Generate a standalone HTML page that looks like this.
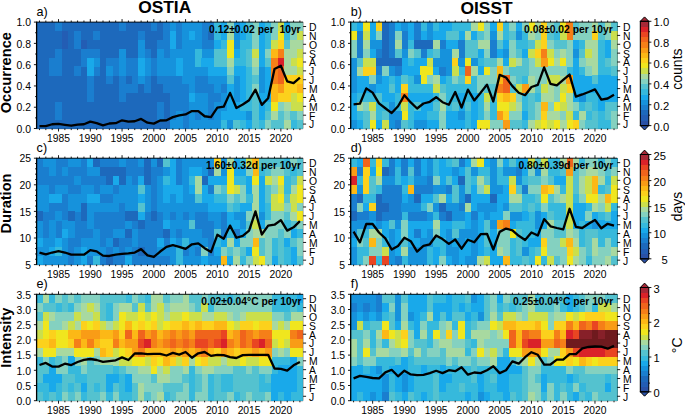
<!DOCTYPE html>
<html><head><meta charset="utf-8"><style>
html,body{margin:0;padding:0;background:#fff;}
body{width:685px;height:414px;overflow:hidden;}
svg{display:block;font-family:"Liberation Sans",sans-serif;}
text{font-family:"Liberation Sans",sans-serif;}
</style></head><body>
<svg width="685" height="414" viewBox="0 0 685 414"><g shape-rendering="crispEdges"><path fill="#1d69bc" d="M36.30 22.10h6.65v9.17h-6.65zM42.65 22.10h6.65v9.17h-6.65zM49.00 22.10h6.65v9.17h-6.65zM61.71 22.10h6.65v9.17h-6.65zM68.06 22.10h6.65v9.17h-6.65zM74.41 22.10h6.65v9.17h-6.65zM80.77 22.10h6.65v9.17h-6.65zM87.12 22.10h6.65v9.17h-6.65zM93.47 22.10h6.65v9.17h-6.65zM99.82 22.10h6.65v9.17h-6.65zM106.18 22.10h6.65v9.17h-6.65zM112.53 22.10h6.65v9.17h-6.65zM125.23 22.10h6.65v9.17h-6.65zM131.59 22.10h6.65v9.17h-6.65zM137.94 22.10h6.65v9.17h-6.65zM144.29 22.10h6.65v9.17h-6.65zM157.00 22.10h6.65v9.17h-6.65zM36.30 30.97h6.65v9.17h-6.65zM42.65 30.97h6.65v9.17h-6.65zM49.00 30.97h6.65v9.17h-6.65zM55.36 30.97h6.65v9.17h-6.65zM68.06 30.97h6.65v9.17h-6.65zM80.77 30.97h6.65v9.17h-6.65zM87.12 30.97h6.65v9.17h-6.65zM99.82 30.97h6.65v9.17h-6.65zM106.18 30.97h6.65v9.17h-6.65zM112.53 30.97h6.65v9.17h-6.65zM118.88 30.97h6.65v9.17h-6.65zM125.23 30.97h6.65v9.17h-6.65zM131.59 30.97h6.65v9.17h-6.65zM144.29 30.97h6.65v9.17h-6.65zM150.64 30.97h6.65v9.17h-6.65zM157.00 30.97h6.65v9.17h-6.65zM207.81 30.97h6.65v9.17h-6.65zM36.30 39.83h6.65v9.17h-6.65zM42.65 39.83h6.65v9.17h-6.65zM49.00 39.83h6.65v9.17h-6.65zM55.36 39.83h6.65v9.17h-6.65zM68.06 39.83h6.65v9.17h-6.65zM87.12 39.83h6.65v9.17h-6.65zM93.47 39.83h6.65v9.17h-6.65zM99.82 39.83h6.65v9.17h-6.65zM106.18 39.83h6.65v9.17h-6.65zM112.53 39.83h6.65v9.17h-6.65zM118.88 39.83h6.65v9.17h-6.65zM125.23 39.83h6.65v9.17h-6.65zM131.59 39.83h6.65v9.17h-6.65zM144.29 39.83h6.65v9.17h-6.65zM150.64 39.83h6.65v9.17h-6.65zM36.30 48.70h6.65v9.17h-6.65zM42.65 48.70h6.65v9.17h-6.65zM49.00 48.70h6.65v9.17h-6.65zM61.71 48.70h6.65v9.17h-6.65zM68.06 48.70h6.65v9.17h-6.65zM74.41 48.70h6.65v9.17h-6.65zM99.82 48.70h6.65v9.17h-6.65zM106.18 48.70h6.65v9.17h-6.65zM112.53 48.70h6.65v9.17h-6.65zM125.23 48.70h6.65v9.17h-6.65zM131.59 48.70h6.65v9.17h-6.65zM150.64 48.70h6.65v9.17h-6.65zM36.30 57.57h6.65v9.17h-6.65zM42.65 57.57h6.65v9.17h-6.65zM61.71 57.57h6.65v9.17h-6.65zM68.06 57.57h6.65v9.17h-6.65zM74.41 57.57h6.65v9.17h-6.65zM99.82 57.57h6.65v9.17h-6.65zM36.30 66.43h6.65v9.17h-6.65zM42.65 66.43h6.65v9.17h-6.65zM61.71 66.43h6.65v9.17h-6.65zM68.06 66.43h6.65v9.17h-6.65zM80.77 66.43h6.65v9.17h-6.65zM99.82 66.43h6.65v9.17h-6.65zM36.30 75.30h6.65v9.17h-6.65zM42.65 75.30h6.65v9.17h-6.65zM49.00 75.30h6.65v9.17h-6.65zM55.36 75.30h6.65v9.17h-6.65zM61.71 75.30h6.65v9.17h-6.65zM68.06 75.30h6.65v9.17h-6.65zM74.41 75.30h6.65v9.17h-6.65zM80.77 75.30h6.65v9.17h-6.65zM93.47 75.30h6.65v9.17h-6.65zM99.82 75.30h6.65v9.17h-6.65zM112.53 75.30h6.65v9.17h-6.65zM125.23 75.30h6.65v9.17h-6.65zM150.64 75.30h6.65v9.17h-6.65zM36.30 84.17h6.65v9.17h-6.65zM42.65 84.17h6.65v9.17h-6.65zM49.00 84.17h6.65v9.17h-6.65zM55.36 84.17h6.65v9.17h-6.65zM61.71 84.17h6.65v9.17h-6.65zM68.06 84.17h6.65v9.17h-6.65zM74.41 84.17h6.65v9.17h-6.65zM80.77 84.17h6.65v9.17h-6.65zM93.47 84.17h6.65v9.17h-6.65zM99.82 84.17h6.65v9.17h-6.65zM106.18 84.17h6.65v9.17h-6.65zM112.53 84.17h6.65v9.17h-6.65zM137.94 84.17h6.65v9.17h-6.65zM150.64 84.17h6.65v9.17h-6.65zM157.00 84.17h6.65v9.17h-6.65zM36.30 93.03h6.65v9.17h-6.65zM42.65 93.03h6.65v9.17h-6.65zM49.00 93.03h6.65v9.17h-6.65zM55.36 93.03h6.65v9.17h-6.65zM61.71 93.03h6.65v9.17h-6.65zM68.06 93.03h6.65v9.17h-6.65zM74.41 93.03h6.65v9.17h-6.65zM80.77 93.03h6.65v9.17h-6.65zM93.47 93.03h6.65v9.17h-6.65zM99.82 93.03h6.65v9.17h-6.65zM106.18 93.03h6.65v9.17h-6.65zM112.53 93.03h6.65v9.17h-6.65zM125.23 93.03h6.65v9.17h-6.65zM131.59 93.03h6.65v9.17h-6.65zM137.94 93.03h6.65v9.17h-6.65zM144.29 93.03h6.65v9.17h-6.65zM150.64 93.03h6.65v9.17h-6.65zM157.00 93.03h6.65v9.17h-6.65zM163.35 93.03h6.65v9.17h-6.65zM36.30 101.90h6.65v9.17h-6.65zM42.65 101.90h6.65v9.17h-6.65zM49.00 101.90h6.65v9.17h-6.65zM61.71 101.90h6.65v9.17h-6.65zM68.06 101.90h6.65v9.17h-6.65zM74.41 101.90h6.65v9.17h-6.65zM80.77 101.90h6.65v9.17h-6.65zM87.12 101.90h6.65v9.17h-6.65zM93.47 101.90h6.65v9.17h-6.65zM99.82 101.90h6.65v9.17h-6.65zM106.18 101.90h6.65v9.17h-6.65zM112.53 101.90h6.65v9.17h-6.65zM118.88 101.90h6.65v9.17h-6.65zM125.23 101.90h6.65v9.17h-6.65zM131.59 101.90h6.65v9.17h-6.65zM137.94 101.90h6.65v9.17h-6.65zM144.29 101.90h6.65v9.17h-6.65zM150.64 101.90h6.65v9.17h-6.65zM163.35 101.90h6.65v9.17h-6.65zM36.30 110.77h6.65v9.17h-6.65zM42.65 110.77h6.65v9.17h-6.65zM49.00 110.77h6.65v9.17h-6.65zM61.71 110.77h6.65v9.17h-6.65zM68.06 110.77h6.65v9.17h-6.65zM74.41 110.77h6.65v9.17h-6.65zM80.77 110.77h6.65v9.17h-6.65zM87.12 110.77h6.65v9.17h-6.65zM93.47 110.77h6.65v9.17h-6.65zM99.82 110.77h6.65v9.17h-6.65zM106.18 110.77h6.65v9.17h-6.65zM112.53 110.77h6.65v9.17h-6.65zM118.88 110.77h6.65v9.17h-6.65zM125.23 110.77h6.65v9.17h-6.65zM131.59 110.77h6.65v9.17h-6.65zM137.94 110.77h6.65v9.17h-6.65zM144.29 110.77h6.65v9.17h-6.65zM150.64 110.77h6.65v9.17h-6.65zM163.35 110.77h6.65v9.17h-6.65zM36.30 119.63h6.65v9.17h-6.65zM42.65 119.63h6.65v9.17h-6.65zM49.00 119.63h6.65v9.17h-6.65zM55.36 119.63h6.65v9.17h-6.65zM61.71 119.63h6.65v9.17h-6.65zM68.06 119.63h6.65v9.17h-6.65zM74.41 119.63h6.65v9.17h-6.65zM80.77 119.63h6.65v9.17h-6.65zM87.12 119.63h6.65v9.17h-6.65zM93.47 119.63h6.65v9.17h-6.65zM99.82 119.63h6.65v9.17h-6.65zM106.18 119.63h6.65v9.17h-6.65zM112.53 119.63h6.65v9.17h-6.65zM118.88 119.63h6.65v9.17h-6.65zM125.23 119.63h6.65v9.17h-6.65zM131.59 119.63h6.65v9.17h-6.65zM137.94 119.63h6.65v9.17h-6.65zM144.29 119.63h6.65v9.17h-6.65zM150.64 119.63h6.65v9.17h-6.65zM157.00 119.63h6.65v9.17h-6.65zM163.35 119.63h6.65v9.17h-6.65z"/><path fill="#1a7ecf" d="M55.36 22.10h6.65v9.17h-6.65zM118.88 22.10h6.65v9.17h-6.65zM150.64 22.10h6.65v9.17h-6.65zM163.35 22.10h6.65v9.17h-6.65zM176.05 22.10h6.65v9.17h-6.65zM201.46 22.10h6.65v9.17h-6.65zM207.81 22.10h6.65v9.17h-6.65zM74.41 30.97h6.65v9.17h-6.65zM93.47 30.97h6.65v9.17h-6.65zM137.94 30.97h6.65v9.17h-6.65zM163.35 30.97h6.65v9.17h-6.65zM176.05 30.97h6.65v9.17h-6.65zM201.46 30.97h6.65v9.17h-6.65zM74.41 39.83h6.65v9.17h-6.65zM157.00 39.83h6.65v9.17h-6.65zM163.35 39.83h6.65v9.17h-6.65zM176.05 39.83h6.65v9.17h-6.65zM201.46 39.83h6.65v9.17h-6.65zM207.81 39.83h6.65v9.17h-6.65zM55.36 48.70h6.65v9.17h-6.65zM80.77 48.70h6.65v9.17h-6.65zM87.12 48.70h6.65v9.17h-6.65zM93.47 48.70h6.65v9.17h-6.65zM144.29 48.70h6.65v9.17h-6.65zM163.35 48.70h6.65v9.17h-6.65zM49.00 57.57h6.65v9.17h-6.65zM55.36 57.57h6.65v9.17h-6.65zM80.77 57.57h6.65v9.17h-6.65zM106.18 57.57h6.65v9.17h-6.65zM112.53 57.57h6.65v9.17h-6.65zM125.23 57.57h6.65v9.17h-6.65zM131.59 57.57h6.65v9.17h-6.65zM150.64 57.57h6.65v9.17h-6.65zM49.00 66.43h6.65v9.17h-6.65zM55.36 66.43h6.65v9.17h-6.65zM74.41 66.43h6.65v9.17h-6.65zM93.47 66.43h6.65v9.17h-6.65zM112.53 66.43h6.65v9.17h-6.65zM125.23 66.43h6.65v9.17h-6.65zM131.59 66.43h6.65v9.17h-6.65zM150.64 66.43h6.65v9.17h-6.65zM87.12 75.30h6.65v9.17h-6.65zM106.18 75.30h6.65v9.17h-6.65zM118.88 75.30h6.65v9.17h-6.65zM131.59 75.30h6.65v9.17h-6.65zM144.29 75.30h6.65v9.17h-6.65zM157.00 75.30h6.65v9.17h-6.65zM163.35 75.30h6.65v9.17h-6.65zM169.70 75.30h6.65v9.17h-6.65zM176.05 75.30h6.65v9.17h-6.65zM195.11 75.30h6.65v9.17h-6.65zM201.46 75.30h6.65v9.17h-6.65zM87.12 84.17h6.65v9.17h-6.65zM118.88 84.17h6.65v9.17h-6.65zM125.23 84.17h6.65v9.17h-6.65zM131.59 84.17h6.65v9.17h-6.65zM144.29 84.17h6.65v9.17h-6.65zM163.35 84.17h6.65v9.17h-6.65zM169.70 84.17h6.65v9.17h-6.65zM176.05 84.17h6.65v9.17h-6.65zM182.40 84.17h6.65v9.17h-6.65zM195.11 84.17h6.65v9.17h-6.65zM201.46 84.17h6.65v9.17h-6.65zM207.81 84.17h6.65v9.17h-6.65zM220.52 84.17h6.65v9.17h-6.65zM87.12 93.03h6.65v9.17h-6.65zM118.88 93.03h6.65v9.17h-6.65zM169.70 93.03h6.65v9.17h-6.65zM176.05 93.03h6.65v9.17h-6.65zM182.40 93.03h6.65v9.17h-6.65zM207.81 93.03h6.65v9.17h-6.65zM214.17 93.03h6.65v9.17h-6.65zM55.36 101.90h6.65v9.17h-6.65zM157.00 101.90h6.65v9.17h-6.65zM169.70 101.90h6.65v9.17h-6.65zM176.05 101.90h6.65v9.17h-6.65zM182.40 101.90h6.65v9.17h-6.65zM207.81 101.90h6.65v9.17h-6.65zM55.36 110.77h6.65v9.17h-6.65zM157.00 110.77h6.65v9.17h-6.65zM169.70 110.77h6.65v9.17h-6.65zM182.40 110.77h6.65v9.17h-6.65zM195.11 110.77h6.65v9.17h-6.65zM207.81 110.77h6.65v9.17h-6.65zM182.40 119.63h6.65v9.17h-6.65z"/><path fill="#1692dc" d="M169.70 22.10h6.65v9.17h-6.65zM182.40 22.10h6.65v9.17h-6.65zM188.76 22.10h6.65v9.17h-6.65zM195.11 22.10h6.65v9.17h-6.65zM233.22 22.10h6.65v9.17h-6.65zM182.40 30.97h6.65v9.17h-6.65zM195.11 30.97h6.65v9.17h-6.65zM233.22 30.97h6.65v9.17h-6.65zM137.94 39.83h6.65v9.17h-6.65zM182.40 39.83h6.65v9.17h-6.65zM188.76 39.83h6.65v9.17h-6.65zM195.11 39.83h6.65v9.17h-6.65zM233.22 39.83h6.65v9.17h-6.65zM118.88 48.70h6.65v9.17h-6.65zM137.94 48.70h6.65v9.17h-6.65zM157.00 48.70h6.65v9.17h-6.65zM169.70 48.70h6.65v9.17h-6.65zM176.05 48.70h6.65v9.17h-6.65zM182.40 48.70h6.65v9.17h-6.65zM188.76 48.70h6.65v9.17h-6.65zM201.46 48.70h6.65v9.17h-6.65zM207.81 48.70h6.65v9.17h-6.65zM93.47 57.57h6.65v9.17h-6.65zM118.88 57.57h6.65v9.17h-6.65zM144.29 57.57h6.65v9.17h-6.65zM157.00 57.57h6.65v9.17h-6.65zM163.35 57.57h6.65v9.17h-6.65zM169.70 57.57h6.65v9.17h-6.65zM182.40 57.57h6.65v9.17h-6.65zM188.76 57.57h6.65v9.17h-6.65zM106.18 66.43h6.65v9.17h-6.65zM118.88 66.43h6.65v9.17h-6.65zM144.29 66.43h6.65v9.17h-6.65zM157.00 66.43h6.65v9.17h-6.65zM163.35 66.43h6.65v9.17h-6.65zM169.70 66.43h6.65v9.17h-6.65zM182.40 66.43h6.65v9.17h-6.65zM188.76 66.43h6.65v9.17h-6.65zM195.11 66.43h6.65v9.17h-6.65zM201.46 66.43h6.65v9.17h-6.65zM258.63 66.43h6.65v9.17h-6.65zM137.94 75.30h6.65v9.17h-6.65zM182.40 75.30h6.65v9.17h-6.65zM188.76 75.30h6.65v9.17h-6.65zM207.81 75.30h6.65v9.17h-6.65zM214.17 75.30h6.65v9.17h-6.65zM220.52 75.30h6.65v9.17h-6.65zM233.22 75.30h6.65v9.17h-6.65zM258.63 75.30h6.65v9.17h-6.65zM188.76 84.17h6.65v9.17h-6.65zM214.17 84.17h6.65v9.17h-6.65zM233.22 84.17h6.65v9.17h-6.65zM258.63 84.17h6.65v9.17h-6.65zM195.11 93.03h6.65v9.17h-6.65zM201.46 93.03h6.65v9.17h-6.65zM220.52 93.03h6.65v9.17h-6.65zM233.22 93.03h6.65v9.17h-6.65zM188.76 101.90h6.65v9.17h-6.65zM195.11 101.90h6.65v9.17h-6.65zM201.46 101.90h6.65v9.17h-6.65zM214.17 101.90h6.65v9.17h-6.65zM220.52 101.90h6.65v9.17h-6.65zM176.05 110.77h6.65v9.17h-6.65zM188.76 110.77h6.65v9.17h-6.65zM201.46 110.77h6.65v9.17h-6.65zM214.17 110.77h6.65v9.17h-6.65zM245.93 110.77h6.65v9.17h-6.65zM169.70 119.63h6.65v9.17h-6.65zM176.05 119.63h6.65v9.17h-6.65zM188.76 119.63h6.65v9.17h-6.65zM195.11 119.63h6.65v9.17h-6.65zM201.46 119.63h6.65v9.17h-6.65zM207.81 119.63h6.65v9.17h-6.65zM214.17 119.63h6.65v9.17h-6.65zM226.87 119.63h6.65v9.17h-6.65z"/><path fill="#36b9dc" d="M214.17 22.10h6.65v9.17h-6.65zM264.99 22.10h6.65v9.17h-6.65zM214.17 30.97h6.65v9.17h-6.65zM245.93 30.97h6.65v9.17h-6.65zM264.99 30.97h6.65v9.17h-6.65zM284.04 30.97h6.65v9.17h-6.65zM220.52 39.83h6.65v9.17h-6.65zM239.58 39.83h6.65v9.17h-6.65zM245.93 39.83h6.65v9.17h-6.65zM264.99 39.83h6.65v9.17h-6.65zM195.11 48.70h6.65v9.17h-6.65zM239.58 48.70h6.65v9.17h-6.65zM195.11 57.57h6.65v9.17h-6.65zM233.22 57.57h6.65v9.17h-6.65zM239.58 57.57h6.65v9.17h-6.65zM245.93 66.43h6.65v9.17h-6.65zM245.93 75.30h6.65v9.17h-6.65zM245.93 84.17h6.65v9.17h-6.65zM245.93 93.03h6.65v9.17h-6.65zM239.58 101.90h6.65v9.17h-6.65zM245.93 101.90h6.65v9.17h-6.65zM264.99 101.90h6.65v9.17h-6.65zM220.52 119.63h6.65v9.17h-6.65zM239.58 119.63h6.65v9.17h-6.65zM258.63 119.63h6.65v9.17h-6.65zM290.40 119.63h6.65v9.17h-6.65z"/><path fill="#19a9ea" d="M220.52 22.10h6.65v9.17h-6.65zM239.58 22.10h6.65v9.17h-6.65zM258.63 22.10h6.65v9.17h-6.65zM284.04 22.10h6.65v9.17h-6.65zM169.70 30.97h6.65v9.17h-6.65zM188.76 30.97h6.65v9.17h-6.65zM220.52 30.97h6.65v9.17h-6.65zM239.58 30.97h6.65v9.17h-6.65zM258.63 30.97h6.65v9.17h-6.65zM169.70 39.83h6.65v9.17h-6.65zM214.17 39.83h6.65v9.17h-6.65zM258.63 39.83h6.65v9.17h-6.65zM233.22 48.70h6.65v9.17h-6.65zM258.63 48.70h6.65v9.17h-6.65zM87.12 57.57h6.65v9.17h-6.65zM137.94 57.57h6.65v9.17h-6.65zM176.05 57.57h6.65v9.17h-6.65zM201.46 57.57h6.65v9.17h-6.65zM207.81 57.57h6.65v9.17h-6.65zM258.63 57.57h6.65v9.17h-6.65zM87.12 66.43h6.65v9.17h-6.65zM137.94 66.43h6.65v9.17h-6.65zM176.05 66.43h6.65v9.17h-6.65zM207.81 66.43h6.65v9.17h-6.65zM214.17 66.43h6.65v9.17h-6.65zM220.52 66.43h6.65v9.17h-6.65zM233.22 66.43h6.65v9.17h-6.65zM239.58 66.43h6.65v9.17h-6.65zM264.99 66.43h6.65v9.17h-6.65zM239.58 75.30h6.65v9.17h-6.65zM264.99 75.30h6.65v9.17h-6.65zM226.87 84.17h6.65v9.17h-6.65zM239.58 84.17h6.65v9.17h-6.65zM264.99 84.17h6.65v9.17h-6.65zM188.76 93.03h6.65v9.17h-6.65zM226.87 93.03h6.65v9.17h-6.65zM239.58 93.03h6.65v9.17h-6.65zM258.63 93.03h6.65v9.17h-6.65zM264.99 93.03h6.65v9.17h-6.65zM226.87 101.90h6.65v9.17h-6.65zM233.22 101.90h6.65v9.17h-6.65zM258.63 101.90h6.65v9.17h-6.65zM220.52 110.77h6.65v9.17h-6.65zM226.87 110.77h6.65v9.17h-6.65zM233.22 110.77h6.65v9.17h-6.65zM239.58 110.77h6.65v9.17h-6.65zM258.63 110.77h6.65v9.17h-6.65zM245.93 119.63h6.65v9.17h-6.65z"/><path fill="#84d1c0" d="M226.87 22.10h6.65v9.17h-6.65zM252.28 22.10h6.65v9.17h-6.65zM271.34 22.10h6.65v9.17h-6.65zM290.40 22.10h6.65v9.17h-6.65zM296.75 22.10h6.65v9.17h-6.65zM252.28 30.97h6.65v9.17h-6.65zM271.34 30.97h6.65v9.17h-6.65zM290.40 30.97h6.65v9.17h-6.65zM252.28 39.83h6.65v9.17h-6.65zM264.99 48.70h6.65v9.17h-6.65zM226.87 66.43h6.65v9.17h-6.65zM252.28 66.43h6.65v9.17h-6.65zM252.28 84.17h6.65v9.17h-6.65zM277.69 101.90h6.65v9.17h-6.65zM284.04 110.77h6.65v9.17h-6.65zM296.75 110.77h6.65v9.17h-6.65zM264.99 119.63h6.65v9.17h-6.65z"/><path fill="#54c2cf" d="M245.93 22.10h6.65v9.17h-6.65zM284.04 39.83h6.65v9.17h-6.65zM214.17 48.70h6.65v9.17h-6.65zM220.52 48.70h6.65v9.17h-6.65zM245.93 48.70h6.65v9.17h-6.65zM214.17 57.57h6.65v9.17h-6.65zM220.52 57.57h6.65v9.17h-6.65zM245.93 57.57h6.65v9.17h-6.65zM264.99 57.57h6.65v9.17h-6.65zM226.87 75.30h6.65v9.17h-6.65zM252.28 75.30h6.65v9.17h-6.65zM252.28 93.03h6.65v9.17h-6.65zM252.28 101.90h6.65v9.17h-6.65zM252.28 110.77h6.65v9.17h-6.65zM264.99 110.77h6.65v9.17h-6.65zM277.69 110.77h6.65v9.17h-6.65zM290.40 110.77h6.65v9.17h-6.65zM233.22 119.63h6.65v9.17h-6.65zM252.28 119.63h6.65v9.17h-6.65zM271.34 119.63h6.65v9.17h-6.65zM277.69 119.63h6.65v9.17h-6.65zM296.75 119.63h6.65v9.17h-6.65z"/><path fill="#cbdf4c" d="M277.69 22.10h6.65v9.17h-6.65zM296.75 30.97h6.65v9.17h-6.65zM271.34 39.83h6.65v9.17h-6.65zM252.28 48.70h6.65v9.17h-6.65zM296.75 48.70h6.65v9.17h-6.65zM290.40 57.57h6.65v9.17h-6.65zM296.75 66.43h6.65v9.17h-6.65zM290.40 93.03h6.65v9.17h-6.65zM290.40 101.90h6.65v9.17h-6.65zM296.75 101.90h6.65v9.17h-6.65z"/><path fill="#235db4" d="M61.71 30.97h6.65v9.17h-6.65zM61.71 39.83h6.65v9.17h-6.65zM80.77 39.83h6.65v9.17h-6.65z"/><path fill="#a8d9a0" d="M226.87 30.97h6.65v9.17h-6.65zM290.40 39.83h6.65v9.17h-6.65zM296.75 39.83h6.65v9.17h-6.65zM284.04 48.70h6.65v9.17h-6.65zM290.40 48.70h6.65v9.17h-6.65zM226.87 57.57h6.65v9.17h-6.65zM252.28 57.57h6.65v9.17h-6.65zM284.04 57.57h6.65v9.17h-6.65zM284.04 66.43h6.65v9.17h-6.65zM290.40 66.43h6.65v9.17h-6.65zM284.04 101.90h6.65v9.17h-6.65zM271.34 110.77h6.65v9.17h-6.65zM284.04 119.63h6.65v9.17h-6.65z"/><path fill="#f0e61e" d="M277.69 30.97h6.65v9.17h-6.65zM226.87 39.83h6.65v9.17h-6.65zM226.87 48.70h6.65v9.17h-6.65zM296.75 57.57h6.65v9.17h-6.65zM296.75 93.03h6.65v9.17h-6.65zM271.34 101.90h6.65v9.17h-6.65z"/><path fill="#fcd11c" d="M277.69 39.83h6.65v9.17h-6.65zM284.04 75.30h6.65v9.17h-6.65zM290.40 75.30h6.65v9.17h-6.65zM296.75 75.30h6.65v9.17h-6.65zM284.04 84.17h6.65v9.17h-6.65zM290.40 84.17h6.65v9.17h-6.65zM277.69 93.03h6.65v9.17h-6.65zM284.04 93.03h6.65v9.17h-6.65z"/><path fill="#fcb816" d="M271.34 48.70h6.65v9.17h-6.65zM271.34 84.17h6.65v9.17h-6.65zM296.75 84.17h6.65v9.17h-6.65zM271.34 93.03h6.65v9.17h-6.65z"/><path fill="#f57f18" d="M277.69 48.70h6.65v9.17h-6.65zM271.34 57.57h6.65v9.17h-6.65zM271.34 66.43h6.65v9.17h-6.65zM271.34 75.30h6.65v9.17h-6.65z"/><path fill="#da2229" d="M277.69 57.57h6.65v9.17h-6.65z"/><path fill="#f0641c" d="M277.69 66.43h6.65v9.17h-6.65zM277.69 75.30h6.65v9.17h-6.65z"/><path fill="#f99c16" d="M277.69 84.17h6.65v9.17h-6.65z"/></g><polyline points="39.48,126.16 45.83,126.16 52.18,124.24 58.53,123.92 64.89,124.78 71.24,125.73 77.59,124.56 83.94,124.24 90.30,121.69 96.65,123.18 103.00,125.31 109.35,123.50 115.70,123.18 122.06,120.31 128.41,121.69 134.76,121.26 141.11,118.92 147.47,122.65 153.82,123.61 160.17,120.52 166.52,120.31 172.88,117.12 179.23,115.31 185.58,114.46 191.93,111.05 198.29,111.05 204.64,116.26 210.99,117.12 217.34,107.54 223.70,106.69 230.05,92.86 236.40,107.96 242.75,104.56 249.10,100.20 255.46,89.66 261.81,104.88 268.16,98.28 274.51,68.92 280.87,65.72 287.22,81.36 293.57,83.17 299.92,77.53" fill="none" stroke="#000" stroke-width="2.3" stroke-linejoin="round" stroke-linecap="butt"/><path d="M36.60 21.60V128.80" stroke="#000" stroke-width="1.3" fill="none"/><path d="M36.30 22.10H303.10" stroke="#000" stroke-width="1.0" fill="none" stroke-opacity="0.9"/><path d="M303.30 22.10V128.50" stroke="#000" stroke-width="0.5" fill="none" stroke-opacity="0.6"/><path d="M36.30 129.10H303.10" stroke="#000" stroke-width="0.5" fill="none" stroke-opacity="0.35"/><path d="M39.48 128.50v1.6M39.48 22.10v-1.6M45.83 128.50v1.6M45.83 22.10v-1.6M52.18 128.50v1.6M52.18 22.10v-1.6M58.53 128.50v3M58.53 22.10v-3M64.89 128.50v1.6M64.89 22.10v-1.6M71.24 128.50v1.6M71.24 22.10v-1.6M77.59 128.50v1.6M77.59 22.10v-1.6M83.94 128.50v1.6M83.94 22.10v-1.6M90.30 128.50v3M90.30 22.10v-3M96.65 128.50v1.6M96.65 22.10v-1.6M103.00 128.50v1.6M103.00 22.10v-1.6M109.35 128.50v1.6M109.35 22.10v-1.6M115.70 128.50v1.6M115.70 22.10v-1.6M122.06 128.50v3M122.06 22.10v-3M128.41 128.50v1.6M128.41 22.10v-1.6M134.76 128.50v1.6M134.76 22.10v-1.6M141.11 128.50v1.6M141.11 22.10v-1.6M147.47 128.50v1.6M147.47 22.10v-1.6M153.82 128.50v3M153.82 22.10v-3M160.17 128.50v1.6M160.17 22.10v-1.6M166.52 128.50v1.6M166.52 22.10v-1.6M172.88 128.50v1.6M172.88 22.10v-1.6M179.23 128.50v1.6M179.23 22.10v-1.6M185.58 128.50v3M185.58 22.10v-3M191.93 128.50v1.6M191.93 22.10v-1.6M198.29 128.50v1.6M198.29 22.10v-1.6M204.64 128.50v1.6M204.64 22.10v-1.6M210.99 128.50v1.6M210.99 22.10v-1.6M217.34 128.50v3M217.34 22.10v-3M223.70 128.50v1.6M223.70 22.10v-1.6M230.05 128.50v1.6M230.05 22.10v-1.6M236.40 128.50v1.6M236.40 22.10v-1.6M242.75 128.50v1.6M242.75 22.10v-1.6M249.10 128.50v3M249.10 22.10v-3M255.46 128.50v1.6M255.46 22.10v-1.6M261.81 128.50v1.6M261.81 22.10v-1.6M268.16 128.50v1.6M268.16 22.10v-1.6M274.51 128.50v1.6M274.51 22.10v-1.6M280.87 128.50v3M280.87 22.10v-3M287.22 128.50v1.6M287.22 22.10v-1.6M293.57 128.50v1.6M293.57 22.10v-1.6M299.92 128.50v1.6M299.92 22.10v-1.6M36.30 128.50h-2.4M36.30 117.86h-1.2M36.30 107.22h-2.4M36.30 96.58h-1.2M36.30 85.94h-2.4M36.30 75.30h-1.2M36.30 64.66h-2.4M36.30 54.02h-1.2M36.30 43.38h-2.4M36.30 32.74h-1.2M36.30 22.10h-2.4M303.10 26.53h3M303.10 35.40h3M303.10 44.27h3M303.10 53.13h3M303.10 62.00h3M303.10 70.87h3M303.10 79.73h3M303.10 88.60h3M303.10 97.47h3M303.10 106.33h3M303.10 115.20h3M303.10 124.07h3" stroke="#000" stroke-width="0.9" fill="none"/><text x="58.53" y="141.70" font-size="10.3" text-anchor="middle" fill="#000">1985</text><text x="90.30" y="141.70" font-size="10.3" text-anchor="middle" fill="#000">1990</text><text x="122.06" y="141.70" font-size="10.3" text-anchor="middle" fill="#000">1995</text><text x="153.82" y="141.70" font-size="10.3" text-anchor="middle" fill="#000">2000</text><text x="185.58" y="141.70" font-size="10.3" text-anchor="middle" fill="#000">2005</text><text x="217.34" y="141.70" font-size="10.3" text-anchor="middle" fill="#000">2010</text><text x="249.10" y="141.70" font-size="10.3" text-anchor="middle" fill="#000">2015</text><text x="280.87" y="141.70" font-size="10.3" text-anchor="middle" fill="#000">2020</text><text x="31.00" y="132.70" font-size="10.4" text-anchor="end" fill="#000">0.0</text><text x="31.00" y="111.42" font-size="10.4" text-anchor="end" fill="#000">0.2</text><text x="31.00" y="90.14" font-size="10.4" text-anchor="end" fill="#000">0.4</text><text x="31.00" y="68.86" font-size="10.4" text-anchor="end" fill="#000">0.6</text><text x="31.00" y="47.58" font-size="10.4" text-anchor="end" fill="#000">0.8</text><text x="31.00" y="26.30" font-size="10.4" text-anchor="end" fill="#000">1.0</text><text x="309.00" y="30.93" font-size="10.4" fill="#000">D</text><text x="309.00" y="39.80" font-size="10.4" fill="#000">N</text><text x="309.00" y="48.67" font-size="10.4" fill="#000">O</text><text x="309.00" y="57.53" font-size="10.4" fill="#000">S</text><text x="309.00" y="66.40" font-size="10.4" fill="#000">A</text><text x="309.00" y="75.27" font-size="10.4" fill="#000">J</text><text x="309.00" y="84.13" font-size="10.4" fill="#000">J</text><text x="309.00" y="93.00" font-size="10.4" fill="#000">M</text><text x="309.00" y="101.87" font-size="10.4" fill="#000">A</text><text x="309.00" y="110.73" font-size="10.4" fill="#000">M</text><text x="309.00" y="119.60" font-size="10.4" fill="#000">F</text><text x="309.00" y="128.47" font-size="10.4" fill="#000">J</text><text x="36.60" y="16.20" font-size="12.6" fill="#000">a)</text><text x="209.10" y="33.10" font-size="10.3" font-weight="bold" xml:space="preserve" fill="#000">0.12±0.02 per  10yr</text><g shape-rendering="crispEdges"><path fill="#36b9dc" d="M350.40 22.10h6.65v9.17h-6.65zM420.28 22.10h6.65v9.17h-6.65zM432.98 22.10h6.65v9.17h-6.65zM452.04 22.10h6.65v9.17h-6.65zM458.39 22.10h6.65v9.17h-6.65zM464.74 22.10h6.65v9.17h-6.65zM502.86 22.10h6.65v9.17h-6.65zM502.86 30.97h6.65v9.17h-6.65zM521.91 30.97h6.65v9.17h-6.65zM553.68 30.97h6.65v9.17h-6.65zM407.57 39.83h6.65v9.17h-6.65zM515.56 39.83h6.65v9.17h-6.65zM521.91 39.83h6.65v9.17h-6.65zM579.09 39.83h6.65v9.17h-6.65zM598.14 39.83h6.65v9.17h-6.65zM426.63 48.70h6.65v9.17h-6.65zM598.14 48.70h6.65v9.17h-6.65zM407.57 57.57h6.65v9.17h-6.65zM477.45 57.57h6.65v9.17h-6.65zM598.14 57.57h6.65v9.17h-6.65zM458.39 66.43h6.65v9.17h-6.65zM566.38 66.43h6.65v9.17h-6.65zM579.09 66.43h6.65v9.17h-6.65zM598.14 66.43h6.65v9.17h-6.65zM604.50 66.43h6.65v9.17h-6.65zM388.51 75.30h6.65v9.17h-6.65zM407.57 75.30h6.65v9.17h-6.65zM445.69 75.30h6.65v9.17h-6.65zM471.10 75.30h6.65v9.17h-6.65zM521.91 75.30h6.65v9.17h-6.65zM407.57 84.17h6.65v9.17h-6.65zM413.92 84.17h6.65v9.17h-6.65zM420.28 84.17h6.65v9.17h-6.65zM426.63 84.17h6.65v9.17h-6.65zM445.69 84.17h6.65v9.17h-6.65zM452.04 84.17h6.65v9.17h-6.65zM458.39 84.17h6.65v9.17h-6.65zM464.74 84.17h6.65v9.17h-6.65zM471.10 84.17h6.65v9.17h-6.65zM356.75 93.03h6.65v9.17h-6.65zM363.10 93.03h6.65v9.17h-6.65zM369.46 93.03h6.65v9.17h-6.65zM394.87 93.03h6.65v9.17h-6.65zM432.98 93.03h6.65v9.17h-6.65zM445.69 93.03h6.65v9.17h-6.65zM452.04 93.03h6.65v9.17h-6.65zM464.74 93.03h6.65v9.17h-6.65zM477.45 93.03h6.65v9.17h-6.65zM521.91 93.03h6.65v9.17h-6.65zM534.62 93.03h6.65v9.17h-6.65zM585.44 93.03h6.65v9.17h-6.65zM591.79 93.03h6.65v9.17h-6.65zM375.81 101.90h6.65v9.17h-6.65zM382.16 101.90h6.65v9.17h-6.65zM394.87 101.90h6.65v9.17h-6.65zM407.57 101.90h6.65v9.17h-6.65zM445.69 101.90h6.65v9.17h-6.65zM477.45 101.90h6.65v9.17h-6.65zM490.15 101.90h6.65v9.17h-6.65zM521.91 101.90h6.65v9.17h-6.65zM579.09 101.90h6.65v9.17h-6.65zM591.79 101.90h6.65v9.17h-6.65zM356.75 110.77h6.65v9.17h-6.65zM375.81 110.77h6.65v9.17h-6.65zM407.57 110.77h6.65v9.17h-6.65zM426.63 110.77h6.65v9.17h-6.65zM432.98 110.77h6.65v9.17h-6.65zM464.74 110.77h6.65v9.17h-6.65zM477.45 110.77h6.65v9.17h-6.65zM490.15 110.77h6.65v9.17h-6.65zM572.73 110.77h6.65v9.17h-6.65zM585.44 110.77h6.65v9.17h-6.65zM598.14 110.77h6.65v9.17h-6.65zM407.57 119.63h6.65v9.17h-6.65zM464.74 119.63h6.65v9.17h-6.65zM521.91 119.63h6.65v9.17h-6.65zM598.14 119.63h6.65v9.17h-6.65zM604.50 119.63h6.65v9.17h-6.65z"/><path fill="#19a9ea" d="M356.75 22.10h6.65v9.17h-6.65zM369.46 22.10h6.65v9.17h-6.65zM394.87 22.10h6.65v9.17h-6.65zM407.57 22.10h6.65v9.17h-6.65zM439.33 22.10h6.65v9.17h-6.65zM445.69 22.10h6.65v9.17h-6.65zM490.15 22.10h6.65v9.17h-6.65zM515.56 22.10h6.65v9.17h-6.65zM369.46 30.97h6.65v9.17h-6.65zM407.57 30.97h6.65v9.17h-6.65zM420.28 30.97h6.65v9.17h-6.65zM432.98 30.97h6.65v9.17h-6.65zM439.33 30.97h6.65v9.17h-6.65zM458.39 30.97h6.65v9.17h-6.65zM471.10 30.97h6.65v9.17h-6.65zM445.69 39.83h6.65v9.17h-6.65zM452.04 39.83h6.65v9.17h-6.65zM502.86 39.83h6.65v9.17h-6.65zM572.73 39.83h6.65v9.17h-6.65zM604.50 39.83h6.65v9.17h-6.65zM369.46 48.70h6.65v9.17h-6.65zM477.45 48.70h6.65v9.17h-6.65zM496.50 48.70h6.65v9.17h-6.65zM521.91 48.70h6.65v9.17h-6.65zM604.50 48.70h6.65v9.17h-6.65zM401.22 57.57h6.65v9.17h-6.65zM413.92 57.57h6.65v9.17h-6.65zM420.28 57.57h6.65v9.17h-6.65zM502.86 57.57h6.65v9.17h-6.65zM572.73 57.57h6.65v9.17h-6.65zM401.22 66.43h6.65v9.17h-6.65zM407.57 66.43h6.65v9.17h-6.65zM413.92 66.43h6.65v9.17h-6.65zM432.98 66.43h6.65v9.17h-6.65zM477.45 66.43h6.65v9.17h-6.65zM572.73 66.43h6.65v9.17h-6.65zM356.75 75.30h6.65v9.17h-6.65zM363.10 75.30h6.65v9.17h-6.65zM382.16 75.30h6.65v9.17h-6.65zM394.87 75.30h6.65v9.17h-6.65zM439.33 75.30h6.65v9.17h-6.65zM572.73 75.30h6.65v9.17h-6.65zM579.09 75.30h6.65v9.17h-6.65zM585.44 75.30h6.65v9.17h-6.65zM598.14 75.30h6.65v9.17h-6.65zM604.50 75.30h6.65v9.17h-6.65zM610.85 75.30h6.65v9.17h-6.65zM356.75 84.17h6.65v9.17h-6.65zM363.10 84.17h6.65v9.17h-6.65zM375.81 84.17h6.65v9.17h-6.65zM382.16 84.17h6.65v9.17h-6.65zM394.87 84.17h6.65v9.17h-6.65zM572.73 84.17h6.65v9.17h-6.65zM579.09 84.17h6.65v9.17h-6.65zM585.44 84.17h6.65v9.17h-6.65zM591.79 84.17h6.65v9.17h-6.65zM598.14 84.17h6.65v9.17h-6.65zM604.50 84.17h6.65v9.17h-6.65zM610.85 84.17h6.65v9.17h-6.65zM350.40 93.03h6.65v9.17h-6.65zM382.16 93.03h6.65v9.17h-6.65zM388.51 93.03h6.65v9.17h-6.65zM407.57 93.03h6.65v9.17h-6.65zM413.92 93.03h6.65v9.17h-6.65zM420.28 93.03h6.65v9.17h-6.65zM426.63 93.03h6.65v9.17h-6.65zM458.39 93.03h6.65v9.17h-6.65zM471.10 93.03h6.65v9.17h-6.65zM572.73 93.03h6.65v9.17h-6.65zM598.14 93.03h6.65v9.17h-6.65zM604.50 93.03h6.65v9.17h-6.65zM610.85 93.03h6.65v9.17h-6.65zM350.40 101.90h6.65v9.17h-6.65zM420.28 101.90h6.65v9.17h-6.65zM426.63 101.90h6.65v9.17h-6.65zM458.39 101.90h6.65v9.17h-6.65zM471.10 101.90h6.65v9.17h-6.65zM598.14 101.90h6.65v9.17h-6.65zM350.40 110.77h6.65v9.17h-6.65zM413.92 110.77h6.65v9.17h-6.65zM420.28 110.77h6.65v9.17h-6.65zM445.69 110.77h6.65v9.17h-6.65zM452.04 110.77h6.65v9.17h-6.65zM471.10 110.77h6.65v9.17h-6.65zM521.91 110.77h6.65v9.17h-6.65zM356.75 119.63h6.65v9.17h-6.65zM375.81 119.63h6.65v9.17h-6.65zM426.63 119.63h6.65v9.17h-6.65zM432.98 119.63h6.65v9.17h-6.65zM445.69 119.63h6.65v9.17h-6.65zM452.04 119.63h6.65v9.17h-6.65zM458.39 119.63h6.65v9.17h-6.65zM471.10 119.63h6.65v9.17h-6.65z"/><path fill="#f0e61e" d="M363.10 22.10h6.65v9.17h-6.65zM477.45 22.10h6.65v9.17h-6.65zM528.27 22.10h6.65v9.17h-6.65zM560.03 22.10h6.65v9.17h-6.65zM350.40 30.97h6.65v9.17h-6.65zM464.74 57.57h6.65v9.17h-6.65zM547.32 57.57h6.65v9.17h-6.65zM560.03 57.57h6.65v9.17h-6.65zM420.28 66.43h6.65v9.17h-6.65zM426.63 66.43h6.65v9.17h-6.65zM483.80 66.43h6.65v9.17h-6.65zM420.28 75.30h6.65v9.17h-6.65zM560.03 93.03h6.65v9.17h-6.65zM496.50 101.90h6.65v9.17h-6.65zM502.86 101.90h6.65v9.17h-6.65zM553.68 101.90h6.65v9.17h-6.65zM401.22 110.77h6.65v9.17h-6.65zM369.46 119.63h6.65v9.17h-6.65zM477.45 119.63h6.65v9.17h-6.65zM483.80 119.63h6.65v9.17h-6.65zM540.97 119.63h6.65v9.17h-6.65zM553.68 119.63h6.65v9.17h-6.65zM566.38 119.63h6.65v9.17h-6.65z"/><path fill="#fcd11c" d="M375.81 22.10h6.65v9.17h-6.65zM496.50 22.10h6.65v9.17h-6.65zM540.97 22.10h6.65v9.17h-6.65zM540.97 30.97h6.65v9.17h-6.65zM591.79 30.97h6.65v9.17h-6.65zM540.97 39.83h6.65v9.17h-6.65zM534.62 48.70h6.65v9.17h-6.65zM452.04 57.57h6.65v9.17h-6.65zM363.10 66.43h6.65v9.17h-6.65zM369.46 66.43h6.65v9.17h-6.65zM464.74 75.30h6.65v9.17h-6.65zM401.22 84.17h6.65v9.17h-6.65zM566.38 84.17h6.65v9.17h-6.65zM496.50 93.03h6.65v9.17h-6.65zM509.21 93.03h6.65v9.17h-6.65zM502.86 110.77h6.65v9.17h-6.65zM540.97 110.77h6.65v9.17h-6.65zM572.73 119.63h6.65v9.17h-6.65z"/><path fill="#1d69bc" d="M382.16 22.10h6.65v9.17h-6.65zM382.16 30.97h6.65v9.17h-6.65zM382.16 39.83h6.65v9.17h-6.65zM413.92 39.83h6.65v9.17h-6.65zM420.28 39.83h6.65v9.17h-6.65zM426.63 39.83h6.65v9.17h-6.65zM382.16 48.70h6.65v9.17h-6.65zM375.81 57.57h6.65v9.17h-6.65zM382.16 57.57h6.65v9.17h-6.65zM388.51 57.57h6.65v9.17h-6.65zM394.87 57.57h6.65v9.17h-6.65z"/><path fill="#1a7ecf" d="M388.51 22.10h6.65v9.17h-6.65zM413.92 22.10h6.65v9.17h-6.65zM356.75 30.97h6.65v9.17h-6.65zM388.51 30.97h6.65v9.17h-6.65zM401.22 30.97h6.65v9.17h-6.65zM413.92 30.97h6.65v9.17h-6.65zM356.75 39.83h6.65v9.17h-6.65zM388.51 39.83h6.65v9.17h-6.65zM401.22 39.83h6.65v9.17h-6.65zM439.33 39.83h6.65v9.17h-6.65zM458.39 39.83h6.65v9.17h-6.65zM490.15 39.83h6.65v9.17h-6.65zM356.75 48.70h6.65v9.17h-6.65zM375.81 48.70h6.65v9.17h-6.65zM388.51 48.70h6.65v9.17h-6.65zM420.28 48.70h6.65v9.17h-6.65zM458.39 48.70h6.65v9.17h-6.65zM490.15 48.70h6.65v9.17h-6.65zM375.81 66.43h6.65v9.17h-6.65zM394.87 66.43h6.65v9.17h-6.65zM439.33 66.43h6.65v9.17h-6.65zM394.87 119.63h6.65v9.17h-6.65z"/><path fill="#1692dc" d="M401.22 22.10h6.65v9.17h-6.65zM426.63 22.10h6.65v9.17h-6.65zM426.63 30.97h6.65v9.17h-6.65zM490.15 30.97h6.65v9.17h-6.65zM515.56 30.97h6.65v9.17h-6.65zM369.46 39.83h6.65v9.17h-6.65zM375.81 39.83h6.65v9.17h-6.65zM401.22 48.70h6.65v9.17h-6.65zM439.33 48.70h6.65v9.17h-6.65zM445.69 48.70h6.65v9.17h-6.65zM502.86 48.70h6.65v9.17h-6.65zM572.73 48.70h6.65v9.17h-6.65zM350.40 57.57h6.65v9.17h-6.65zM432.98 57.57h6.65v9.17h-6.65zM439.33 57.57h6.65v9.17h-6.65zM445.69 57.57h6.65v9.17h-6.65zM458.39 57.57h6.65v9.17h-6.65zM471.10 57.57h6.65v9.17h-6.65zM350.40 66.43h6.65v9.17h-6.65zM388.51 66.43h6.65v9.17h-6.65zM445.69 66.43h6.65v9.17h-6.65zM350.40 75.30h6.65v9.17h-6.65zM375.81 75.30h6.65v9.17h-6.65zM413.92 75.30h6.65v9.17h-6.65zM350.40 84.17h6.65v9.17h-6.65zM369.46 84.17h6.65v9.17h-6.65zM579.09 93.03h6.65v9.17h-6.65zM388.51 101.90h6.65v9.17h-6.65zM388.51 110.77h6.65v9.17h-6.65zM394.87 110.77h6.65v9.17h-6.65zM458.39 110.77h6.65v9.17h-6.65zM350.40 119.63h6.65v9.17h-6.65zM388.51 119.63h6.65v9.17h-6.65zM413.92 119.63h6.65v9.17h-6.65zM420.28 119.63h6.65v9.17h-6.65z"/><path fill="#a8d9a0" d="M471.10 22.10h6.65v9.17h-6.65zM534.62 22.10h6.65v9.17h-6.65zM591.79 22.10h6.65v9.17h-6.65zM604.50 22.10h6.65v9.17h-6.65zM464.74 30.97h6.65v9.17h-6.65zM496.50 30.97h6.65v9.17h-6.65zM528.27 30.97h6.65v9.17h-6.65zM363.10 39.83h6.65v9.17h-6.65zM394.87 39.83h6.65v9.17h-6.65zM432.98 39.83h6.65v9.17h-6.65zM477.45 39.83h6.65v9.17h-6.65zM483.80 39.83h6.65v9.17h-6.65zM585.44 39.83h6.65v9.17h-6.65zM591.79 39.83h6.65v9.17h-6.65zM610.85 39.83h6.65v9.17h-6.65zM452.04 48.70h6.65v9.17h-6.65zM560.03 48.70h6.65v9.17h-6.65zM591.79 48.70h6.65v9.17h-6.65zM496.50 57.57h6.65v9.17h-6.65zM515.56 57.57h6.65v9.17h-6.65zM553.68 57.57h6.65v9.17h-6.65zM585.44 57.57h6.65v9.17h-6.65zM591.79 57.57h6.65v9.17h-6.65zM356.75 66.43h6.65v9.17h-6.65zM471.10 66.43h6.65v9.17h-6.65zM591.79 66.43h6.65v9.17h-6.65zM432.98 75.30h6.65v9.17h-6.65zM528.27 75.30h6.65v9.17h-6.65zM560.03 75.30h6.65v9.17h-6.65zM528.27 84.17h6.65v9.17h-6.65zM547.32 84.17h6.65v9.17h-6.65zM540.97 93.03h6.65v9.17h-6.65zM547.32 93.03h6.65v9.17h-6.65zM566.38 93.03h6.65v9.17h-6.65zM356.75 101.90h6.65v9.17h-6.65zM439.33 101.90h6.65v9.17h-6.65zM483.80 101.90h6.65v9.17h-6.65zM515.56 101.90h6.65v9.17h-6.65zM566.38 101.90h6.65v9.17h-6.65zM369.46 110.77h6.65v9.17h-6.65zM547.32 110.77h6.65v9.17h-6.65zM553.68 110.77h6.65v9.17h-6.65zM579.09 110.77h6.65v9.17h-6.65zM528.27 119.63h6.65v9.17h-6.65zM560.03 119.63h6.65v9.17h-6.65z"/><path fill="#84d1c0" d="M483.80 22.10h6.65v9.17h-6.65zM509.21 22.10h6.65v9.17h-6.65zM521.91 22.10h6.65v9.17h-6.65zM547.32 22.10h6.65v9.17h-6.65zM579.09 22.10h6.65v9.17h-6.65zM585.44 22.10h6.65v9.17h-6.65zM375.81 30.97h6.65v9.17h-6.65zM394.87 30.97h6.65v9.17h-6.65zM483.80 30.97h6.65v9.17h-6.65zM534.62 30.97h6.65v9.17h-6.65zM572.73 30.97h6.65v9.17h-6.65zM579.09 30.97h6.65v9.17h-6.65zM585.44 30.97h6.65v9.17h-6.65zM604.50 30.97h6.65v9.17h-6.65zM350.40 39.83h6.65v9.17h-6.65zM509.21 39.83h6.65v9.17h-6.65zM547.32 39.83h6.65v9.17h-6.65zM566.38 39.83h6.65v9.17h-6.65zM350.40 48.70h6.65v9.17h-6.65zM363.10 48.70h6.65v9.17h-6.65zM407.57 48.70h6.65v9.17h-6.65zM483.80 48.70h6.65v9.17h-6.65zM509.21 48.70h6.65v9.17h-6.65zM553.68 48.70h6.65v9.17h-6.65zM566.38 48.70h6.65v9.17h-6.65zM610.85 48.70h6.65v9.17h-6.65zM528.27 57.57h6.65v9.17h-6.65zM566.38 57.57h6.65v9.17h-6.65zM579.09 57.57h6.65v9.17h-6.65zM610.85 57.57h6.65v9.17h-6.65zM382.16 66.43h6.65v9.17h-6.65zM490.15 66.43h6.65v9.17h-6.65zM502.86 66.43h6.65v9.17h-6.65zM528.27 66.43h6.65v9.17h-6.65zM534.62 66.43h6.65v9.17h-6.65zM540.97 66.43h6.65v9.17h-6.65zM547.32 66.43h6.65v9.17h-6.65zM553.68 66.43h6.65v9.17h-6.65zM560.03 66.43h6.65v9.17h-6.65zM585.44 66.43h6.65v9.17h-6.65zM369.46 75.30h6.65v9.17h-6.65zM426.63 75.30h6.65v9.17h-6.65zM452.04 75.30h6.65v9.17h-6.65zM477.45 75.30h6.65v9.17h-6.65zM483.80 75.30h6.65v9.17h-6.65zM490.15 75.30h6.65v9.17h-6.65zM509.21 75.30h6.65v9.17h-6.65zM534.62 75.30h6.65v9.17h-6.65zM540.97 75.30h6.65v9.17h-6.65zM477.45 84.17h6.65v9.17h-6.65zM553.68 84.17h6.65v9.17h-6.65zM439.33 93.03h6.65v9.17h-6.65zM515.56 93.03h6.65v9.17h-6.65zM553.68 93.03h6.65v9.17h-6.65zM363.10 101.90h6.65v9.17h-6.65zM534.62 101.90h6.65v9.17h-6.65zM547.32 101.90h6.65v9.17h-6.65zM572.73 101.90h6.65v9.17h-6.65zM439.33 110.77h6.65v9.17h-6.65zM483.80 110.77h6.65v9.17h-6.65zM509.21 110.77h6.65v9.17h-6.65zM515.56 110.77h6.65v9.17h-6.65zM534.62 110.77h6.65v9.17h-6.65zM560.03 110.77h6.65v9.17h-6.65zM610.85 110.77h6.65v9.17h-6.65zM439.33 119.63h6.65v9.17h-6.65zM490.15 119.63h6.65v9.17h-6.65zM496.50 119.63h6.65v9.17h-6.65zM579.09 119.63h6.65v9.17h-6.65zM610.85 119.63h6.65v9.17h-6.65z"/><path fill="#54c2cf" d="M553.68 22.10h6.65v9.17h-6.65zM572.73 22.10h6.65v9.17h-6.65zM598.14 22.10h6.65v9.17h-6.65zM610.85 22.10h6.65v9.17h-6.65zM445.69 30.97h6.65v9.17h-6.65zM452.04 30.97h6.65v9.17h-6.65zM477.45 30.97h6.65v9.17h-6.65zM509.21 30.97h6.65v9.17h-6.65zM547.32 30.97h6.65v9.17h-6.65zM598.14 30.97h6.65v9.17h-6.65zM464.74 39.83h6.65v9.17h-6.65zM471.10 39.83h6.65v9.17h-6.65zM496.50 39.83h6.65v9.17h-6.65zM528.27 39.83h6.65v9.17h-6.65zM553.68 39.83h6.65v9.17h-6.65zM560.03 39.83h6.65v9.17h-6.65zM394.87 48.70h6.65v9.17h-6.65zM413.92 48.70h6.65v9.17h-6.65zM432.98 48.70h6.65v9.17h-6.65zM464.74 48.70h6.65v9.17h-6.65zM471.10 48.70h6.65v9.17h-6.65zM515.56 48.70h6.65v9.17h-6.65zM579.09 48.70h6.65v9.17h-6.65zM356.75 57.57h6.65v9.17h-6.65zM483.80 57.57h6.65v9.17h-6.65zM490.15 57.57h6.65v9.17h-6.65zM521.91 57.57h6.65v9.17h-6.65zM604.50 57.57h6.65v9.17h-6.65zM509.21 66.43h6.65v9.17h-6.65zM515.56 66.43h6.65v9.17h-6.65zM521.91 66.43h6.65v9.17h-6.65zM610.85 66.43h6.65v9.17h-6.65zM401.22 75.30h6.65v9.17h-6.65zM458.39 75.30h6.65v9.17h-6.65zM515.56 75.30h6.65v9.17h-6.65zM591.79 75.30h6.65v9.17h-6.65zM388.51 84.17h6.65v9.17h-6.65zM439.33 84.17h6.65v9.17h-6.65zM483.80 84.17h6.65v9.17h-6.65zM490.15 84.17h6.65v9.17h-6.65zM509.21 84.17h6.65v9.17h-6.65zM534.62 84.17h6.65v9.17h-6.65zM375.81 93.03h6.65v9.17h-6.65zM490.15 93.03h6.65v9.17h-6.65zM528.27 93.03h6.65v9.17h-6.65zM413.92 101.90h6.65v9.17h-6.65zM432.98 101.90h6.65v9.17h-6.65zM452.04 101.90h6.65v9.17h-6.65zM464.74 101.90h6.65v9.17h-6.65zM528.27 101.90h6.65v9.17h-6.65zM585.44 101.90h6.65v9.17h-6.65zM604.50 101.90h6.65v9.17h-6.65zM610.85 101.90h6.65v9.17h-6.65zM363.10 110.77h6.65v9.17h-6.65zM382.16 110.77h6.65v9.17h-6.65zM528.27 110.77h6.65v9.17h-6.65zM591.79 110.77h6.65v9.17h-6.65zM604.50 110.77h6.65v9.17h-6.65zM363.10 119.63h6.65v9.17h-6.65zM401.22 119.63h6.65v9.17h-6.65zM509.21 119.63h6.65v9.17h-6.65zM515.56 119.63h6.65v9.17h-6.65zM585.44 119.63h6.65v9.17h-6.65zM591.79 119.63h6.65v9.17h-6.65z"/><path fill="#f57f18" d="M566.38 22.10h6.65v9.17h-6.65zM566.38 30.97h6.65v9.17h-6.65zM540.97 48.70h6.65v9.17h-6.65zM496.50 84.17h6.65v9.17h-6.65zM401.22 93.03h6.65v9.17h-6.65z"/><path fill="#cbdf4c" d="M363.10 30.97h6.65v9.17h-6.65zM560.03 30.97h6.65v9.17h-6.65zM610.85 30.97h6.65v9.17h-6.65zM534.62 39.83h6.65v9.17h-6.65zM528.27 48.70h6.65v9.17h-6.65zM547.32 48.70h6.65v9.17h-6.65zM585.44 48.70h6.65v9.17h-6.65zM363.10 57.57h6.65v9.17h-6.65zM369.46 57.57h6.65v9.17h-6.65zM426.63 57.57h6.65v9.17h-6.65zM509.21 57.57h6.65v9.17h-6.65zM534.62 57.57h6.65v9.17h-6.65zM452.04 66.43h6.65v9.17h-6.65zM547.32 75.30h6.65v9.17h-6.65zM553.68 75.30h6.65v9.17h-6.65zM432.98 84.17h6.65v9.17h-6.65zM515.56 84.17h6.65v9.17h-6.65zM540.97 84.17h6.65v9.17h-6.65zM560.03 84.17h6.65v9.17h-6.65zM483.80 93.03h6.65v9.17h-6.65zM369.46 101.90h6.65v9.17h-6.65zM401.22 101.90h6.65v9.17h-6.65zM509.21 101.90h6.65v9.17h-6.65zM560.03 101.90h6.65v9.17h-6.65zM566.38 110.77h6.65v9.17h-6.65zM382.16 119.63h6.65v9.17h-6.65zM534.62 119.63h6.65v9.17h-6.65zM547.32 119.63h6.65v9.17h-6.65z"/><path fill="#f99c16" d="M540.97 57.57h6.65v9.17h-6.65zM566.38 75.30h6.65v9.17h-6.65zM521.91 84.17h6.65v9.17h-6.65zM496.50 110.77h6.65v9.17h-6.65zM502.86 119.63h6.65v9.17h-6.65z"/><path fill="#f0641c" d="M464.74 66.43h6.65v9.17h-6.65zM502.86 75.30h6.65v9.17h-6.65zM502.86 84.17h6.65v9.17h-6.65z"/><path fill="#fcb816" d="M496.50 66.43h6.65v9.17h-6.65zM496.50 75.30h6.65v9.17h-6.65zM502.86 93.03h6.65v9.17h-6.65zM540.97 101.90h6.65v9.17h-6.65z"/></g><polyline points="353.58,104.35 359.93,103.71 366.28,88.39 372.63,92.64 378.99,103.39 385.34,108.28 391.69,113.07 398.04,106.26 404.40,95.20 410.75,102.43 417.10,108.50 423.45,103.50 429.80,101.79 436.16,97.22 442.51,102.22 448.86,104.77 455.21,92.00 461.57,107.54 467.92,89.56 474.27,100.41 480.62,92.75 486.98,84.66 493.33,101.47 499.68,74.87 506.03,77.53 512.39,86.15 518.74,92.75 525.09,95.20 531.44,87.00 537.80,84.88 544.15,67.32 550.50,83.81 556.85,85.41 563.20,79.98 569.56,74.56 575.91,96.58 582.26,94.45 588.61,92.00 594.97,89.34 601.32,99.56 607.67,98.50 614.02,94.66" fill="none" stroke="#000" stroke-width="2.3" stroke-linejoin="round" stroke-linecap="butt"/><path d="M350.70 21.60V128.80" stroke="#000" stroke-width="1.3" fill="none"/><path d="M350.40 22.10H617.20" stroke="#000" stroke-width="1.0" fill="none" stroke-opacity="0.9"/><path d="M617.40 22.10V128.50" stroke="#000" stroke-width="0.5" fill="none" stroke-opacity="0.6"/><path d="M350.40 129.10H617.20" stroke="#000" stroke-width="0.5" fill="none" stroke-opacity="0.35"/><path d="M353.58 128.50v1.6M353.58 22.10v-1.6M359.93 128.50v1.6M359.93 22.10v-1.6M366.28 128.50v1.6M366.28 22.10v-1.6M372.63 128.50v3M372.63 22.10v-3M378.99 128.50v1.6M378.99 22.10v-1.6M385.34 128.50v1.6M385.34 22.10v-1.6M391.69 128.50v1.6M391.69 22.10v-1.6M398.04 128.50v1.6M398.04 22.10v-1.6M404.40 128.50v3M404.40 22.10v-3M410.75 128.50v1.6M410.75 22.10v-1.6M417.10 128.50v1.6M417.10 22.10v-1.6M423.45 128.50v1.6M423.45 22.10v-1.6M429.80 128.50v1.6M429.80 22.10v-1.6M436.16 128.50v3M436.16 22.10v-3M442.51 128.50v1.6M442.51 22.10v-1.6M448.86 128.50v1.6M448.86 22.10v-1.6M455.21 128.50v1.6M455.21 22.10v-1.6M461.57 128.50v1.6M461.57 22.10v-1.6M467.92 128.50v3M467.92 22.10v-3M474.27 128.50v1.6M474.27 22.10v-1.6M480.62 128.50v1.6M480.62 22.10v-1.6M486.98 128.50v1.6M486.98 22.10v-1.6M493.33 128.50v1.6M493.33 22.10v-1.6M499.68 128.50v3M499.68 22.10v-3M506.03 128.50v1.6M506.03 22.10v-1.6M512.39 128.50v1.6M512.39 22.10v-1.6M518.74 128.50v1.6M518.74 22.10v-1.6M525.09 128.50v1.6M525.09 22.10v-1.6M531.44 128.50v3M531.44 22.10v-3M537.80 128.50v1.6M537.80 22.10v-1.6M544.15 128.50v1.6M544.15 22.10v-1.6M550.50 128.50v1.6M550.50 22.10v-1.6M556.85 128.50v1.6M556.85 22.10v-1.6M563.20 128.50v3M563.20 22.10v-3M569.56 128.50v1.6M569.56 22.10v-1.6M575.91 128.50v1.6M575.91 22.10v-1.6M582.26 128.50v1.6M582.26 22.10v-1.6M588.61 128.50v1.6M588.61 22.10v-1.6M594.97 128.50v3M594.97 22.10v-3M601.32 128.50v1.6M601.32 22.10v-1.6M607.67 128.50v1.6M607.67 22.10v-1.6M614.02 128.50v1.6M614.02 22.10v-1.6M350.40 128.50h-2.4M350.40 117.86h-1.2M350.40 107.22h-2.4M350.40 96.58h-1.2M350.40 85.94h-2.4M350.40 75.30h-1.2M350.40 64.66h-2.4M350.40 54.02h-1.2M350.40 43.38h-2.4M350.40 32.74h-1.2M350.40 22.10h-2.4M617.20 26.53h3M617.20 35.40h3M617.20 44.27h3M617.20 53.13h3M617.20 62.00h3M617.20 70.87h3M617.20 79.73h3M617.20 88.60h3M617.20 97.47h3M617.20 106.33h3M617.20 115.20h3M617.20 124.07h3" stroke="#000" stroke-width="0.9" fill="none"/><text x="372.63" y="141.70" font-size="10.3" text-anchor="middle" fill="#000">1985</text><text x="404.40" y="141.70" font-size="10.3" text-anchor="middle" fill="#000">1990</text><text x="436.16" y="141.70" font-size="10.3" text-anchor="middle" fill="#000">1995</text><text x="467.92" y="141.70" font-size="10.3" text-anchor="middle" fill="#000">2000</text><text x="499.68" y="141.70" font-size="10.3" text-anchor="middle" fill="#000">2005</text><text x="531.44" y="141.70" font-size="10.3" text-anchor="middle" fill="#000">2010</text><text x="563.20" y="141.70" font-size="10.3" text-anchor="middle" fill="#000">2015</text><text x="594.97" y="141.70" font-size="10.3" text-anchor="middle" fill="#000">2020</text><text x="345.10" y="132.70" font-size="10.4" text-anchor="end" fill="#000">0.0</text><text x="345.10" y="111.42" font-size="10.4" text-anchor="end" fill="#000">0.2</text><text x="345.10" y="90.14" font-size="10.4" text-anchor="end" fill="#000">0.4</text><text x="345.10" y="68.86" font-size="10.4" text-anchor="end" fill="#000">0.6</text><text x="345.10" y="47.58" font-size="10.4" text-anchor="end" fill="#000">0.8</text><text x="345.10" y="26.30" font-size="10.4" text-anchor="end" fill="#000">1.0</text><text x="623.10" y="30.93" font-size="10.4" fill="#000">D</text><text x="623.10" y="39.80" font-size="10.4" fill="#000">N</text><text x="623.10" y="48.67" font-size="10.4" fill="#000">O</text><text x="623.10" y="57.53" font-size="10.4" fill="#000">S</text><text x="623.10" y="66.40" font-size="10.4" fill="#000">A</text><text x="623.10" y="75.27" font-size="10.4" fill="#000">J</text><text x="623.10" y="84.13" font-size="10.4" fill="#000">J</text><text x="623.10" y="93.00" font-size="10.4" fill="#000">M</text><text x="623.10" y="101.87" font-size="10.4" fill="#000">A</text><text x="623.10" y="110.73" font-size="10.4" fill="#000">M</text><text x="623.10" y="119.60" font-size="10.4" fill="#000">F</text><text x="623.10" y="128.47" font-size="10.4" fill="#000">J</text><text x="350.70" y="16.20" font-size="12.6" fill="#000">b)</text><text x="524.10" y="33.10" font-size="10.3" font-weight="bold" xml:space="preserve" fill="#000">0.08±0.02 per 10yr</text><g shape-rendering="crispEdges"><path fill="#1a7ecf" d="M36.30 158.20h6.65v9.17h-6.65zM55.36 158.20h6.65v9.17h-6.65zM61.71 158.20h6.65v9.17h-6.65zM80.77 158.20h6.65v9.17h-6.65zM99.82 158.20h6.65v9.17h-6.65zM106.18 158.20h6.65v9.17h-6.65zM112.53 158.20h6.65v9.17h-6.65zM125.23 158.20h6.65v9.17h-6.65zM131.59 158.20h6.65v9.17h-6.65zM176.05 158.20h6.65v9.17h-6.65zM36.30 167.07h6.65v9.17h-6.65zM42.65 167.07h6.65v9.17h-6.65zM55.36 167.07h6.65v9.17h-6.65zM68.06 167.07h6.65v9.17h-6.65zM74.41 167.07h6.65v9.17h-6.65zM80.77 167.07h6.65v9.17h-6.65zM125.23 167.07h6.65v9.17h-6.65zM131.59 167.07h6.65v9.17h-6.65zM137.94 167.07h6.65v9.17h-6.65zM150.64 167.07h6.65v9.17h-6.65zM157.00 167.07h6.65v9.17h-6.65zM176.05 167.07h6.65v9.17h-6.65zM36.30 175.93h6.65v9.17h-6.65zM42.65 175.93h6.65v9.17h-6.65zM49.00 175.93h6.65v9.17h-6.65zM55.36 175.93h6.65v9.17h-6.65zM61.71 175.93h6.65v9.17h-6.65zM68.06 175.93h6.65v9.17h-6.65zM80.77 175.93h6.65v9.17h-6.65zM87.12 175.93h6.65v9.17h-6.65zM93.47 175.93h6.65v9.17h-6.65zM99.82 175.93h6.65v9.17h-6.65zM131.59 175.93h6.65v9.17h-6.65zM150.64 175.93h6.65v9.17h-6.65zM176.05 175.93h6.65v9.17h-6.65zM49.00 184.80h6.65v9.17h-6.65zM68.06 184.80h6.65v9.17h-6.65zM74.41 184.80h6.65v9.17h-6.65zM93.47 184.80h6.65v9.17h-6.65zM112.53 184.80h6.65v9.17h-6.65zM150.64 184.80h6.65v9.17h-6.65zM207.81 184.80h6.65v9.17h-6.65zM61.71 193.67h6.65v9.17h-6.65zM99.82 193.67h6.65v9.17h-6.65zM106.18 193.67h6.65v9.17h-6.65zM150.64 193.67h6.65v9.17h-6.65zM49.00 202.53h6.65v9.17h-6.65zM55.36 202.53h6.65v9.17h-6.65zM61.71 202.53h6.65v9.17h-6.65zM118.88 202.53h6.65v9.17h-6.65zM150.64 202.53h6.65v9.17h-6.65zM42.65 211.40h6.65v9.17h-6.65zM49.00 211.40h6.65v9.17h-6.65zM61.71 211.40h6.65v9.17h-6.65zM74.41 211.40h6.65v9.17h-6.65zM93.47 211.40h6.65v9.17h-6.65zM99.82 211.40h6.65v9.17h-6.65zM106.18 211.40h6.65v9.17h-6.65zM112.53 211.40h6.65v9.17h-6.65zM118.88 211.40h6.65v9.17h-6.65zM144.29 211.40h6.65v9.17h-6.65zM157.00 211.40h6.65v9.17h-6.65zM169.70 211.40h6.65v9.17h-6.65zM182.40 211.40h6.65v9.17h-6.65zM195.11 211.40h6.65v9.17h-6.65zM201.46 211.40h6.65v9.17h-6.65zM220.52 211.40h6.65v9.17h-6.65zM42.65 220.27h6.65v9.17h-6.65zM55.36 220.27h6.65v9.17h-6.65zM74.41 220.27h6.65v9.17h-6.65zM80.77 220.27h6.65v9.17h-6.65zM93.47 220.27h6.65v9.17h-6.65zM99.82 220.27h6.65v9.17h-6.65zM106.18 220.27h6.65v9.17h-6.65zM112.53 220.27h6.65v9.17h-6.65zM118.88 220.27h6.65v9.17h-6.65zM131.59 220.27h6.65v9.17h-6.65zM144.29 220.27h6.65v9.17h-6.65zM150.64 220.27h6.65v9.17h-6.65zM157.00 220.27h6.65v9.17h-6.65zM195.11 220.27h6.65v9.17h-6.65zM201.46 220.27h6.65v9.17h-6.65zM207.81 220.27h6.65v9.17h-6.65zM220.52 220.27h6.65v9.17h-6.65zM42.65 229.13h6.65v9.17h-6.65zM55.36 229.13h6.65v9.17h-6.65zM74.41 229.13h6.65v9.17h-6.65zM80.77 229.13h6.65v9.17h-6.65zM87.12 229.13h6.65v9.17h-6.65zM99.82 229.13h6.65v9.17h-6.65zM106.18 229.13h6.65v9.17h-6.65zM137.94 229.13h6.65v9.17h-6.65zM144.29 229.13h6.65v9.17h-6.65zM150.64 229.13h6.65v9.17h-6.65zM157.00 229.13h6.65v9.17h-6.65zM176.05 229.13h6.65v9.17h-6.65zM201.46 229.13h6.65v9.17h-6.65zM207.81 229.13h6.65v9.17h-6.65zM220.52 229.13h6.65v9.17h-6.65zM233.22 229.13h6.65v9.17h-6.65zM68.06 238.00h6.65v9.17h-6.65zM74.41 238.00h6.65v9.17h-6.65zM99.82 238.00h6.65v9.17h-6.65zM118.88 238.00h6.65v9.17h-6.65zM125.23 238.00h6.65v9.17h-6.65zM137.94 238.00h6.65v9.17h-6.65zM144.29 238.00h6.65v9.17h-6.65zM150.64 238.00h6.65v9.17h-6.65zM163.35 238.00h6.65v9.17h-6.65zM207.81 238.00h6.65v9.17h-6.65zM68.06 246.87h6.65v9.17h-6.65zM106.18 246.87h6.65v9.17h-6.65zM118.88 246.87h6.65v9.17h-6.65zM131.59 246.87h6.65v9.17h-6.65zM144.29 246.87h6.65v9.17h-6.65zM150.64 246.87h6.65v9.17h-6.65zM182.40 246.87h6.65v9.17h-6.65zM195.11 246.87h6.65v9.17h-6.65zM207.81 246.87h6.65v9.17h-6.65zM68.06 255.73h6.65v9.17h-6.65zM87.12 255.73h6.65v9.17h-6.65zM99.82 255.73h6.65v9.17h-6.65zM112.53 255.73h6.65v9.17h-6.65zM118.88 255.73h6.65v9.17h-6.65zM131.59 255.73h6.65v9.17h-6.65zM137.94 255.73h6.65v9.17h-6.65zM144.29 255.73h6.65v9.17h-6.65zM150.64 255.73h6.65v9.17h-6.65zM157.00 255.73h6.65v9.17h-6.65zM163.35 255.73h6.65v9.17h-6.65z"/><path fill="#1692dc" d="M42.65 158.20h6.65v9.17h-6.65zM49.00 158.20h6.65v9.17h-6.65zM68.06 158.20h6.65v9.17h-6.65zM74.41 158.20h6.65v9.17h-6.65zM118.88 158.20h6.65v9.17h-6.65zM137.94 158.20h6.65v9.17h-6.65zM150.64 158.20h6.65v9.17h-6.65zM182.40 158.20h6.65v9.17h-6.65zM188.76 158.20h6.65v9.17h-6.65zM195.11 158.20h6.65v9.17h-6.65zM201.46 158.20h6.65v9.17h-6.65zM207.81 158.20h6.65v9.17h-6.65zM220.52 158.20h6.65v9.17h-6.65zM49.00 167.07h6.65v9.17h-6.65zM61.71 167.07h6.65v9.17h-6.65zM87.12 167.07h6.65v9.17h-6.65zM93.47 167.07h6.65v9.17h-6.65zM163.35 167.07h6.65v9.17h-6.65zM182.40 167.07h6.65v9.17h-6.65zM201.46 167.07h6.65v9.17h-6.65zM220.52 167.07h6.65v9.17h-6.65zM74.41 175.93h6.65v9.17h-6.65zM125.23 175.93h6.65v9.17h-6.65zM157.00 175.93h6.65v9.17h-6.65zM182.40 175.93h6.65v9.17h-6.65zM36.30 184.80h6.65v9.17h-6.65zM42.65 184.80h6.65v9.17h-6.65zM55.36 184.80h6.65v9.17h-6.65zM61.71 184.80h6.65v9.17h-6.65zM80.77 184.80h6.65v9.17h-6.65zM87.12 184.80h6.65v9.17h-6.65zM99.82 184.80h6.65v9.17h-6.65zM106.18 184.80h6.65v9.17h-6.65zM118.88 184.80h6.65v9.17h-6.65zM125.23 184.80h6.65v9.17h-6.65zM131.59 184.80h6.65v9.17h-6.65zM144.29 184.80h6.65v9.17h-6.65zM157.00 184.80h6.65v9.17h-6.65zM182.40 184.80h6.65v9.17h-6.65zM36.30 193.67h6.65v9.17h-6.65zM42.65 193.67h6.65v9.17h-6.65zM68.06 193.67h6.65v9.17h-6.65zM74.41 193.67h6.65v9.17h-6.65zM80.77 193.67h6.65v9.17h-6.65zM112.53 193.67h6.65v9.17h-6.65zM118.88 193.67h6.65v9.17h-6.65zM125.23 193.67h6.65v9.17h-6.65zM131.59 193.67h6.65v9.17h-6.65zM144.29 193.67h6.65v9.17h-6.65zM157.00 193.67h6.65v9.17h-6.65zM169.70 193.67h6.65v9.17h-6.65zM182.40 193.67h6.65v9.17h-6.65zM188.76 193.67h6.65v9.17h-6.65zM36.30 202.53h6.65v9.17h-6.65zM42.65 202.53h6.65v9.17h-6.65zM68.06 202.53h6.65v9.17h-6.65zM74.41 202.53h6.65v9.17h-6.65zM87.12 202.53h6.65v9.17h-6.65zM93.47 202.53h6.65v9.17h-6.65zM99.82 202.53h6.65v9.17h-6.65zM106.18 202.53h6.65v9.17h-6.65zM112.53 202.53h6.65v9.17h-6.65zM125.23 202.53h6.65v9.17h-6.65zM131.59 202.53h6.65v9.17h-6.65zM144.29 202.53h6.65v9.17h-6.65zM157.00 202.53h6.65v9.17h-6.65zM163.35 202.53h6.65v9.17h-6.65zM169.70 202.53h6.65v9.17h-6.65zM176.05 202.53h6.65v9.17h-6.65zM182.40 202.53h6.65v9.17h-6.65zM188.76 202.53h6.65v9.17h-6.65zM195.11 202.53h6.65v9.17h-6.65zM201.46 202.53h6.65v9.17h-6.65zM55.36 211.40h6.65v9.17h-6.65zM87.12 211.40h6.65v9.17h-6.65zM163.35 211.40h6.65v9.17h-6.65zM176.05 211.40h6.65v9.17h-6.65zM188.76 211.40h6.65v9.17h-6.65zM207.81 211.40h6.65v9.17h-6.65zM214.17 211.40h6.65v9.17h-6.65zM233.22 211.40h6.65v9.17h-6.65zM239.58 211.40h6.65v9.17h-6.65zM258.63 211.40h6.65v9.17h-6.65zM36.30 220.27h6.65v9.17h-6.65zM49.00 220.27h6.65v9.17h-6.65zM61.71 220.27h6.65v9.17h-6.65zM68.06 220.27h6.65v9.17h-6.65zM87.12 220.27h6.65v9.17h-6.65zM125.23 220.27h6.65v9.17h-6.65zM169.70 220.27h6.65v9.17h-6.65zM176.05 220.27h6.65v9.17h-6.65zM182.40 220.27h6.65v9.17h-6.65zM214.17 220.27h6.65v9.17h-6.65zM239.58 220.27h6.65v9.17h-6.65zM36.30 229.13h6.65v9.17h-6.65zM49.00 229.13h6.65v9.17h-6.65zM68.06 229.13h6.65v9.17h-6.65zM93.47 229.13h6.65v9.17h-6.65zM112.53 229.13h6.65v9.17h-6.65zM118.88 229.13h6.65v9.17h-6.65zM131.59 229.13h6.65v9.17h-6.65zM169.70 229.13h6.65v9.17h-6.65zM182.40 229.13h6.65v9.17h-6.65zM188.76 229.13h6.65v9.17h-6.65zM195.11 229.13h6.65v9.17h-6.65zM42.65 238.00h6.65v9.17h-6.65zM49.00 238.00h6.65v9.17h-6.65zM61.71 238.00h6.65v9.17h-6.65zM80.77 238.00h6.65v9.17h-6.65zM87.12 238.00h6.65v9.17h-6.65zM93.47 238.00h6.65v9.17h-6.65zM106.18 238.00h6.65v9.17h-6.65zM131.59 238.00h6.65v9.17h-6.65zM176.05 238.00h6.65v9.17h-6.65zM188.76 238.00h6.65v9.17h-6.65zM195.11 238.00h6.65v9.17h-6.65zM201.46 238.00h6.65v9.17h-6.65zM36.30 246.87h6.65v9.17h-6.65zM42.65 246.87h6.65v9.17h-6.65zM61.71 246.87h6.65v9.17h-6.65zM74.41 246.87h6.65v9.17h-6.65zM87.12 246.87h6.65v9.17h-6.65zM93.47 246.87h6.65v9.17h-6.65zM99.82 246.87h6.65v9.17h-6.65zM112.53 246.87h6.65v9.17h-6.65zM125.23 246.87h6.65v9.17h-6.65zM157.00 246.87h6.65v9.17h-6.65zM163.35 246.87h6.65v9.17h-6.65zM169.70 246.87h6.65v9.17h-6.65zM188.76 246.87h6.65v9.17h-6.65zM42.65 255.73h6.65v9.17h-6.65zM49.00 255.73h6.65v9.17h-6.65zM55.36 255.73h6.65v9.17h-6.65zM61.71 255.73h6.65v9.17h-6.65zM74.41 255.73h6.65v9.17h-6.65zM169.70 255.73h6.65v9.17h-6.65zM182.40 255.73h6.65v9.17h-6.65zM188.76 255.73h6.65v9.17h-6.65zM195.11 255.73h6.65v9.17h-6.65zM207.81 255.73h6.65v9.17h-6.65zM214.17 255.73h6.65v9.17h-6.65z"/><path fill="#19a9ea" d="M87.12 158.20h6.65v9.17h-6.65zM169.70 158.20h6.65v9.17h-6.65zM233.22 158.20h6.65v9.17h-6.65zM169.70 167.07h6.65v9.17h-6.65zM188.76 167.07h6.65v9.17h-6.65zM195.11 167.07h6.65v9.17h-6.65zM233.22 167.07h6.65v9.17h-6.65zM239.58 167.07h6.65v9.17h-6.65zM112.53 175.93h6.65v9.17h-6.65zM137.94 175.93h6.65v9.17h-6.65zM169.70 175.93h6.65v9.17h-6.65zM207.81 175.93h6.65v9.17h-6.65zM214.17 175.93h6.65v9.17h-6.65zM220.52 175.93h6.65v9.17h-6.65zM245.93 175.93h6.65v9.17h-6.65zM258.63 175.93h6.65v9.17h-6.65zM163.35 184.80h6.65v9.17h-6.65zM169.70 184.80h6.65v9.17h-6.65zM176.05 184.80h6.65v9.17h-6.65zM188.76 184.80h6.65v9.17h-6.65zM201.46 184.80h6.65v9.17h-6.65zM245.93 184.80h6.65v9.17h-6.65zM258.63 184.80h6.65v9.17h-6.65zM49.00 193.67h6.65v9.17h-6.65zM55.36 193.67h6.65v9.17h-6.65zM87.12 193.67h6.65v9.17h-6.65zM93.47 193.67h6.65v9.17h-6.65zM137.94 193.67h6.65v9.17h-6.65zM163.35 193.67h6.65v9.17h-6.65zM176.05 193.67h6.65v9.17h-6.65zM201.46 193.67h6.65v9.17h-6.65zM207.81 193.67h6.65v9.17h-6.65zM258.63 193.67h6.65v9.17h-6.65zM207.81 202.53h6.65v9.17h-6.65zM214.17 202.53h6.65v9.17h-6.65zM220.52 202.53h6.65v9.17h-6.65zM239.58 202.53h6.65v9.17h-6.65zM245.93 202.53h6.65v9.17h-6.65zM258.63 202.53h6.65v9.17h-6.65zM137.94 211.40h6.65v9.17h-6.65zM226.87 211.40h6.65v9.17h-6.65zM163.35 220.27h6.65v9.17h-6.65zM226.87 220.27h6.65v9.17h-6.65zM233.22 220.27h6.65v9.17h-6.65zM258.63 220.27h6.65v9.17h-6.65zM61.71 229.13h6.65v9.17h-6.65zM239.58 229.13h6.65v9.17h-6.65zM290.40 229.13h6.65v9.17h-6.65zM36.30 238.00h6.65v9.17h-6.65zM55.36 238.00h6.65v9.17h-6.65zM157.00 238.00h6.65v9.17h-6.65zM169.70 238.00h6.65v9.17h-6.65zM220.52 238.00h6.65v9.17h-6.65zM233.22 238.00h6.65v9.17h-6.65zM284.04 238.00h6.65v9.17h-6.65zM49.00 246.87h6.65v9.17h-6.65zM80.77 246.87h6.65v9.17h-6.65zM214.17 246.87h6.65v9.17h-6.65zM245.93 246.87h6.65v9.17h-6.65zM290.40 246.87h6.65v9.17h-6.65zM36.30 255.73h6.65v9.17h-6.65zM80.77 255.73h6.65v9.17h-6.65zM125.23 255.73h6.65v9.17h-6.65zM201.46 255.73h6.65v9.17h-6.65zM226.87 255.73h6.65v9.17h-6.65zM271.34 255.73h6.65v9.17h-6.65zM290.40 255.73h6.65v9.17h-6.65z"/><path fill="#1d69bc" d="M93.47 158.20h6.65v9.17h-6.65zM144.29 158.20h6.65v9.17h-6.65zM157.00 158.20h6.65v9.17h-6.65zM99.82 167.07h6.65v9.17h-6.65zM106.18 167.07h6.65v9.17h-6.65zM112.53 167.07h6.65v9.17h-6.65zM118.88 167.07h6.65v9.17h-6.65zM144.29 167.07h6.65v9.17h-6.65zM207.81 167.07h6.65v9.17h-6.65zM106.18 175.93h6.65v9.17h-6.65zM118.88 175.93h6.65v9.17h-6.65zM144.29 175.93h6.65v9.17h-6.65zM201.46 175.93h6.65v9.17h-6.65zM80.77 202.53h6.65v9.17h-6.65zM36.30 211.40h6.65v9.17h-6.65zM68.06 211.40h6.65v9.17h-6.65zM80.77 211.40h6.65v9.17h-6.65zM125.23 211.40h6.65v9.17h-6.65zM131.59 211.40h6.65v9.17h-6.65zM150.64 211.40h6.65v9.17h-6.65zM137.94 220.27h6.65v9.17h-6.65zM125.23 229.13h6.65v9.17h-6.65zM163.35 229.13h6.65v9.17h-6.65zM112.53 238.00h6.65v9.17h-6.65zM137.94 246.87h6.65v9.17h-6.65zM106.18 255.73h6.65v9.17h-6.65z"/><path fill="#54c2cf" d="M163.35 158.20h6.65v9.17h-6.65zM258.63 158.20h6.65v9.17h-6.65zM264.99 158.20h6.65v9.17h-6.65zM271.34 158.20h6.65v9.17h-6.65zM277.69 158.20h6.65v9.17h-6.65zM296.75 158.20h6.65v9.17h-6.65zM264.99 167.07h6.65v9.17h-6.65zM284.04 167.07h6.65v9.17h-6.65zM296.75 167.07h6.65v9.17h-6.65zM290.40 175.93h6.65v9.17h-6.65zM137.94 184.80h6.65v9.17h-6.65zM220.52 184.80h6.65v9.17h-6.65zM264.99 184.80h6.65v9.17h-6.65zM195.11 193.67h6.65v9.17h-6.65zM233.22 193.67h6.65v9.17h-6.65zM264.99 193.67h6.65v9.17h-6.65zM284.04 193.67h6.65v9.17h-6.65zM137.94 202.53h6.65v9.17h-6.65zM226.87 202.53h6.65v9.17h-6.65zM284.04 211.40h6.65v9.17h-6.65zM188.76 220.27h6.65v9.17h-6.65zM245.93 220.27h6.65v9.17h-6.65zM290.40 220.27h6.65v9.17h-6.65zM214.17 229.13h6.65v9.17h-6.65zM277.69 229.13h6.65v9.17h-6.65zM258.63 238.00h6.65v9.17h-6.65zM277.69 238.00h6.65v9.17h-6.65zM290.40 238.00h6.65v9.17h-6.65zM226.87 246.87h6.65v9.17h-6.65zM239.58 246.87h6.65v9.17h-6.65zM258.63 246.87h6.65v9.17h-6.65zM277.69 246.87h6.65v9.17h-6.65zM277.69 255.73h6.65v9.17h-6.65zM296.75 255.73h6.65v9.17h-6.65z"/><path fill="#fcd11c" d="M214.17 158.20h6.65v9.17h-6.65z"/><path fill="#a8d9a0" d="M226.87 158.20h6.65v9.17h-6.65zM214.17 167.07h6.65v9.17h-6.65zM195.11 175.93h6.65v9.17h-6.65zM271.34 175.93h6.65v9.17h-6.65zM195.11 184.80h6.65v9.17h-6.65zM252.28 184.80h6.65v9.17h-6.65zM290.40 184.80h6.65v9.17h-6.65zM252.28 193.67h6.65v9.17h-6.65zM252.28 202.53h6.65v9.17h-6.65zM252.28 211.40h6.65v9.17h-6.65zM290.40 211.40h6.65v9.17h-6.65zM252.28 229.13h6.65v9.17h-6.65zM258.63 229.13h6.65v9.17h-6.65zM226.87 238.00h6.65v9.17h-6.65zM233.22 255.73h6.65v9.17h-6.65z"/><path fill="#36b9dc" d="M239.58 158.20h6.65v9.17h-6.65zM284.04 158.20h6.65v9.17h-6.65zM258.63 167.07h6.65v9.17h-6.65zM290.40 167.07h6.65v9.17h-6.65zM163.35 175.93h6.65v9.17h-6.65zM188.76 175.93h6.65v9.17h-6.65zM233.22 175.93h6.65v9.17h-6.65zM239.58 175.93h6.65v9.17h-6.65zM284.04 175.93h6.65v9.17h-6.65zM284.04 184.80h6.65v9.17h-6.65zM214.17 193.67h6.65v9.17h-6.65zM220.52 193.67h6.65v9.17h-6.65zM245.93 193.67h6.65v9.17h-6.65zM233.22 202.53h6.65v9.17h-6.65zM264.99 202.53h6.65v9.17h-6.65zM264.99 211.40h6.65v9.17h-6.65zM284.04 220.27h6.65v9.17h-6.65zM226.87 229.13h6.65v9.17h-6.65zM296.75 229.13h6.65v9.17h-6.65zM182.40 238.00h6.65v9.17h-6.65zM214.17 238.00h6.65v9.17h-6.65zM271.34 238.00h6.65v9.17h-6.65zM55.36 246.87h6.65v9.17h-6.65zM176.05 246.87h6.65v9.17h-6.65zM271.34 246.87h6.65v9.17h-6.65zM284.04 246.87h6.65v9.17h-6.65zM93.47 255.73h6.65v9.17h-6.65zM176.05 255.73h6.65v9.17h-6.65zM239.58 255.73h6.65v9.17h-6.65zM284.04 255.73h6.65v9.17h-6.65z"/><path fill="#cbdf4c" d="M245.93 158.20h6.65v9.17h-6.65zM264.99 175.93h6.65v9.17h-6.65zM296.75 175.93h6.65v9.17h-6.65zM233.22 184.80h6.65v9.17h-6.65zM277.69 184.80h6.65v9.17h-6.65zM271.34 193.67h6.65v9.17h-6.65zM290.40 193.67h6.65v9.17h-6.65zM271.34 202.53h6.65v9.17h-6.65zM277.69 202.53h6.65v9.17h-6.65zM290.40 202.53h6.65v9.17h-6.65zM252.28 220.27h6.65v9.17h-6.65zM252.28 255.73h6.65v9.17h-6.65z"/><path fill="#fcb816" d="M252.28 158.20h6.65v9.17h-6.65zM252.28 167.07h6.65v9.17h-6.65zM252.28 238.00h6.65v9.17h-6.65zM220.52 255.73h6.65v9.17h-6.65z"/><path fill="#84d1c0" d="M290.40 158.20h6.65v9.17h-6.65zM245.93 167.07h6.65v9.17h-6.65zM271.34 167.07h6.65v9.17h-6.65zM277.69 167.07h6.65v9.17h-6.65zM214.17 184.80h6.65v9.17h-6.65zM239.58 184.80h6.65v9.17h-6.65zM271.34 184.80h6.65v9.17h-6.65zM226.87 193.67h6.65v9.17h-6.65zM239.58 193.67h6.65v9.17h-6.65zM284.04 202.53h6.65v9.17h-6.65zM296.75 202.53h6.65v9.17h-6.65zM245.93 211.40h6.65v9.17h-6.65zM271.34 211.40h6.65v9.17h-6.65zM277.69 211.40h6.65v9.17h-6.65zM264.99 220.27h6.65v9.17h-6.65zM271.34 220.27h6.65v9.17h-6.65zM277.69 220.27h6.65v9.17h-6.65zM296.75 220.27h6.65v9.17h-6.65zM245.93 229.13h6.65v9.17h-6.65zM264.99 229.13h6.65v9.17h-6.65zM271.34 229.13h6.65v9.17h-6.65zM284.04 229.13h6.65v9.17h-6.65zM239.58 238.00h6.65v9.17h-6.65zM245.93 238.00h6.65v9.17h-6.65zM264.99 238.00h6.65v9.17h-6.65zM296.75 238.00h6.65v9.17h-6.65zM201.46 246.87h6.65v9.17h-6.65zM220.52 246.87h6.65v9.17h-6.65zM233.22 246.87h6.65v9.17h-6.65zM264.99 246.87h6.65v9.17h-6.65zM296.75 246.87h6.65v9.17h-6.65zM245.93 255.73h6.65v9.17h-6.65zM264.99 255.73h6.65v9.17h-6.65z"/><path fill="#f0e61e" d="M226.87 167.07h6.65v9.17h-6.65zM226.87 175.93h6.65v9.17h-6.65zM252.28 175.93h6.65v9.17h-6.65zM277.69 175.93h6.65v9.17h-6.65zM226.87 184.80h6.65v9.17h-6.65zM296.75 184.80h6.65v9.17h-6.65zM277.69 193.67h6.65v9.17h-6.65zM296.75 193.67h6.65v9.17h-6.65zM296.75 211.40h6.65v9.17h-6.65zM252.28 246.87h6.65v9.17h-6.65zM258.63 255.73h6.65v9.17h-6.65z"/></g><polyline points="39.48,252.68 45.83,254.39 52.18,252.52 58.53,251.19 64.89,252.52 71.24,254.70 77.59,254.70 83.94,254.70 90.30,250.08 96.65,251.41 103.00,255.66 109.35,255.98 115.70,254.70 122.06,253.80 128.41,253.43 134.76,252.52 141.11,249.12 147.47,255.40 153.82,256.99 160.17,251.51 166.52,246.88 172.88,245.18 179.23,246.88 185.58,248.85 191.93,244.28 198.29,243.37 204.64,248.21 210.99,252.10 217.34,234.81 223.70,238.69 230.05,225.60 236.40,237.73 242.75,235.82 249.10,230.61 255.46,211.40 261.81,234.49 268.16,225.60 274.51,224.70 280.87,220.12 287.22,230.61 293.57,227.31 299.92,221.19" fill="none" stroke="#000" stroke-width="2.3" stroke-linejoin="round" stroke-linecap="butt"/><path d="M36.60 157.70V264.90" stroke="#000" stroke-width="1.3" fill="none"/><path d="M36.30 158.20H303.10" stroke="#000" stroke-width="1.0" fill="none" stroke-opacity="0.9"/><path d="M303.30 158.20V264.60" stroke="#000" stroke-width="0.5" fill="none" stroke-opacity="0.6"/><path d="M36.30 265.20H303.10" stroke="#000" stroke-width="0.5" fill="none" stroke-opacity="0.35"/><path d="M39.48 264.60v1.6M39.48 158.20v-1.6M45.83 264.60v1.6M45.83 158.20v-1.6M52.18 264.60v1.6M52.18 158.20v-1.6M58.53 264.60v3M58.53 158.20v-3M64.89 264.60v1.6M64.89 158.20v-1.6M71.24 264.60v1.6M71.24 158.20v-1.6M77.59 264.60v1.6M77.59 158.20v-1.6M83.94 264.60v1.6M83.94 158.20v-1.6M90.30 264.60v3M90.30 158.20v-3M96.65 264.60v1.6M96.65 158.20v-1.6M103.00 264.60v1.6M103.00 158.20v-1.6M109.35 264.60v1.6M109.35 158.20v-1.6M115.70 264.60v1.6M115.70 158.20v-1.6M122.06 264.60v3M122.06 158.20v-3M128.41 264.60v1.6M128.41 158.20v-1.6M134.76 264.60v1.6M134.76 158.20v-1.6M141.11 264.60v1.6M141.11 158.20v-1.6M147.47 264.60v1.6M147.47 158.20v-1.6M153.82 264.60v3M153.82 158.20v-3M160.17 264.60v1.6M160.17 158.20v-1.6M166.52 264.60v1.6M166.52 158.20v-1.6M172.88 264.60v1.6M172.88 158.20v-1.6M179.23 264.60v1.6M179.23 158.20v-1.6M185.58 264.60v3M185.58 158.20v-3M191.93 264.60v1.6M191.93 158.20v-1.6M198.29 264.60v1.6M198.29 158.20v-1.6M204.64 264.60v1.6M204.64 158.20v-1.6M210.99 264.60v1.6M210.99 158.20v-1.6M217.34 264.60v3M217.34 158.20v-3M223.70 264.60v1.6M223.70 158.20v-1.6M230.05 264.60v1.6M230.05 158.20v-1.6M236.40 264.60v1.6M236.40 158.20v-1.6M242.75 264.60v1.6M242.75 158.20v-1.6M249.10 264.60v3M249.10 158.20v-3M255.46 264.60v1.6M255.46 158.20v-1.6M261.81 264.60v1.6M261.81 158.20v-1.6M268.16 264.60v1.6M268.16 158.20v-1.6M274.51 264.60v1.6M274.51 158.20v-1.6M280.87 264.60v3M280.87 158.20v-3M287.22 264.60v1.6M287.22 158.20v-1.6M293.57 264.60v1.6M293.57 158.20v-1.6M299.92 264.60v1.6M299.92 158.20v-1.6M36.30 264.60h-2.4M36.30 259.28h-1.2M36.30 253.96h-1.2M36.30 248.64h-1.2M36.30 243.32h-1.2M36.30 238.00h-2.4M36.30 232.68h-1.2M36.30 227.36h-1.2M36.30 222.04h-1.2M36.30 216.72h-1.2M36.30 211.40h-2.4M36.30 206.08h-1.2M36.30 200.76h-1.2M36.30 195.44h-1.2M36.30 190.12h-1.2M36.30 184.80h-2.4M36.30 179.48h-1.2M36.30 174.16h-1.2M36.30 168.84h-1.2M36.30 163.52h-1.2M36.30 158.20h-2.4M303.10 162.63h3M303.10 171.50h3M303.10 180.37h3M303.10 189.23h3M303.10 198.10h3M303.10 206.97h3M303.10 215.83h3M303.10 224.70h3M303.10 233.57h3M303.10 242.43h3M303.10 251.30h3M303.10 260.17h3" stroke="#000" stroke-width="0.9" fill="none"/><text x="58.53" y="277.80" font-size="10.3" text-anchor="middle" fill="#000">1985</text><text x="90.30" y="277.80" font-size="10.3" text-anchor="middle" fill="#000">1990</text><text x="122.06" y="277.80" font-size="10.3" text-anchor="middle" fill="#000">1995</text><text x="153.82" y="277.80" font-size="10.3" text-anchor="middle" fill="#000">2000</text><text x="185.58" y="277.80" font-size="10.3" text-anchor="middle" fill="#000">2005</text><text x="217.34" y="277.80" font-size="10.3" text-anchor="middle" fill="#000">2010</text><text x="249.10" y="277.80" font-size="10.3" text-anchor="middle" fill="#000">2015</text><text x="280.87" y="277.80" font-size="10.3" text-anchor="middle" fill="#000">2020</text><text x="31.00" y="268.80" font-size="10.4" text-anchor="end" fill="#000">5</text><text x="31.00" y="242.20" font-size="10.4" text-anchor="end" fill="#000">10</text><text x="31.00" y="215.60" font-size="10.4" text-anchor="end" fill="#000">15</text><text x="31.00" y="189.00" font-size="10.4" text-anchor="end" fill="#000">20</text><text x="31.00" y="162.40" font-size="10.4" text-anchor="end" fill="#000">25</text><text x="309.00" y="167.03" font-size="10.4" fill="#000">D</text><text x="309.00" y="175.90" font-size="10.4" fill="#000">N</text><text x="309.00" y="184.77" font-size="10.4" fill="#000">O</text><text x="309.00" y="193.63" font-size="10.4" fill="#000">S</text><text x="309.00" y="202.50" font-size="10.4" fill="#000">A</text><text x="309.00" y="211.37" font-size="10.4" fill="#000">J</text><text x="309.00" y="220.23" font-size="10.4" fill="#000">J</text><text x="309.00" y="229.10" font-size="10.4" fill="#000">M</text><text x="309.00" y="237.97" font-size="10.4" fill="#000">A</text><text x="309.00" y="246.83" font-size="10.4" fill="#000">M</text><text x="309.00" y="255.70" font-size="10.4" fill="#000">F</text><text x="309.00" y="264.57" font-size="10.4" fill="#000">J</text><text x="36.60" y="152.30" font-size="12.6" fill="#000">c)</text><text x="206.00" y="169.20" font-size="10.3" font-weight="bold" xml:space="preserve" fill="#000">1.60±0.32d per 10yr</text><g shape-rendering="crispEdges"><path fill="#36b9dc" d="M350.40 158.20h6.65v9.17h-6.65zM369.46 158.20h6.65v9.17h-6.65zM382.16 158.20h6.65v9.17h-6.65zM432.98 158.20h6.65v9.17h-6.65zM445.69 158.20h6.65v9.17h-6.65zM547.32 158.20h6.65v9.17h-6.65zM553.68 158.20h6.65v9.17h-6.65zM579.09 158.20h6.65v9.17h-6.65zM598.14 158.20h6.65v9.17h-6.65zM610.85 158.20h6.65v9.17h-6.65zM394.87 167.07h6.65v9.17h-6.65zM432.98 167.07h6.65v9.17h-6.65zM477.45 167.07h6.65v9.17h-6.65zM483.80 167.07h6.65v9.17h-6.65zM496.50 167.07h6.65v9.17h-6.65zM547.32 167.07h6.65v9.17h-6.65zM553.68 167.07h6.65v9.17h-6.65zM356.75 175.93h6.65v9.17h-6.65zM394.87 175.93h6.65v9.17h-6.65zM407.57 175.93h6.65v9.17h-6.65zM471.10 175.93h6.65v9.17h-6.65zM496.50 175.93h6.65v9.17h-6.65zM502.86 175.93h6.65v9.17h-6.65zM521.91 175.93h6.65v9.17h-6.65zM604.50 175.93h6.65v9.17h-6.65zM375.81 184.80h6.65v9.17h-6.65zM401.22 184.80h6.65v9.17h-6.65zM560.03 184.80h6.65v9.17h-6.65zM598.14 184.80h6.65v9.17h-6.65zM363.10 193.67h6.65v9.17h-6.65zM369.46 193.67h6.65v9.17h-6.65zM521.91 193.67h6.65v9.17h-6.65zM528.27 193.67h6.65v9.17h-6.65zM572.73 193.67h6.65v9.17h-6.65zM420.28 202.53h6.65v9.17h-6.65zM521.91 202.53h6.65v9.17h-6.65zM534.62 202.53h6.65v9.17h-6.65zM547.32 202.53h6.65v9.17h-6.65zM553.68 202.53h6.65v9.17h-6.65zM560.03 202.53h6.65v9.17h-6.65zM585.44 202.53h6.65v9.17h-6.65zM610.85 202.53h6.65v9.17h-6.65zM401.22 211.40h6.65v9.17h-6.65zM432.98 211.40h6.65v9.17h-6.65zM528.27 211.40h6.65v9.17h-6.65zM553.68 211.40h6.65v9.17h-6.65zM560.03 211.40h6.65v9.17h-6.65zM598.14 211.40h6.65v9.17h-6.65zM452.04 220.27h6.65v9.17h-6.65zM458.39 220.27h6.65v9.17h-6.65zM515.56 220.27h6.65v9.17h-6.65zM521.91 220.27h6.65v9.17h-6.65zM528.27 220.27h6.65v9.17h-6.65zM579.09 220.27h6.65v9.17h-6.65zM363.10 229.13h6.65v9.17h-6.65zM521.91 229.13h6.65v9.17h-6.65zM528.27 229.13h6.65v9.17h-6.65zM579.09 229.13h6.65v9.17h-6.65zM598.14 229.13h6.65v9.17h-6.65zM604.50 229.13h6.65v9.17h-6.65zM610.85 229.13h6.65v9.17h-6.65zM382.16 238.00h6.65v9.17h-6.65zM432.98 238.00h6.65v9.17h-6.65zM439.33 238.00h6.65v9.17h-6.65zM509.21 238.00h6.65v9.17h-6.65zM521.91 238.00h6.65v9.17h-6.65zM579.09 238.00h6.65v9.17h-6.65zM598.14 238.00h6.65v9.17h-6.65zM610.85 238.00h6.65v9.17h-6.65zM356.75 246.87h6.65v9.17h-6.65zM363.10 246.87h6.65v9.17h-6.65zM426.63 246.87h6.65v9.17h-6.65zM439.33 246.87h6.65v9.17h-6.65zM483.80 246.87h6.65v9.17h-6.65zM509.21 246.87h6.65v9.17h-6.65zM528.27 246.87h6.65v9.17h-6.65zM356.75 255.73h6.65v9.17h-6.65zM375.81 255.73h6.65v9.17h-6.65zM401.22 255.73h6.65v9.17h-6.65zM426.63 255.73h6.65v9.17h-6.65zM509.21 255.73h6.65v9.17h-6.65zM515.56 255.73h6.65v9.17h-6.65zM528.27 255.73h6.65v9.17h-6.65zM540.97 255.73h6.65v9.17h-6.65zM585.44 255.73h6.65v9.17h-6.65z"/><path fill="#19a9ea" d="M356.75 158.20h6.65v9.17h-6.65zM394.87 158.20h6.65v9.17h-6.65zM407.57 158.20h6.65v9.17h-6.65zM420.28 158.20h6.65v9.17h-6.65zM439.33 158.20h6.65v9.17h-6.65zM464.74 158.20h6.65v9.17h-6.65zM483.80 158.20h6.65v9.17h-6.65zM502.86 158.20h6.65v9.17h-6.65zM515.56 158.20h6.65v9.17h-6.65zM521.91 158.20h6.65v9.17h-6.65zM369.46 167.07h6.65v9.17h-6.65zM420.28 167.07h6.65v9.17h-6.65zM439.33 167.07h6.65v9.17h-6.65zM445.69 167.07h6.65v9.17h-6.65zM458.39 167.07h6.65v9.17h-6.65zM521.91 167.07h6.65v9.17h-6.65zM401.22 175.93h6.65v9.17h-6.65zM439.33 175.93h6.65v9.17h-6.65zM452.04 175.93h6.65v9.17h-6.65zM553.68 175.93h6.65v9.17h-6.65zM560.03 175.93h6.65v9.17h-6.65zM471.10 184.80h6.65v9.17h-6.65zM502.86 184.80h6.65v9.17h-6.65zM401.22 193.67h6.65v9.17h-6.65zM420.28 193.67h6.65v9.17h-6.65zM426.63 193.67h6.65v9.17h-6.65zM445.69 193.67h6.65v9.17h-6.65zM471.10 193.67h6.65v9.17h-6.65zM477.45 193.67h6.65v9.17h-6.65zM483.80 193.67h6.65v9.17h-6.65zM496.50 193.67h6.65v9.17h-6.65zM502.86 193.67h6.65v9.17h-6.65zM363.10 202.53h6.65v9.17h-6.65zM471.10 202.53h6.65v9.17h-6.65zM496.50 202.53h6.65v9.17h-6.65zM572.73 202.53h6.65v9.17h-6.65zM579.09 202.53h6.65v9.17h-6.65zM464.74 211.40h6.65v9.17h-6.65zM477.45 211.40h6.65v9.17h-6.65zM490.15 211.40h6.65v9.17h-6.65zM496.50 211.40h6.65v9.17h-6.65zM521.91 211.40h6.65v9.17h-6.65zM540.97 211.40h6.65v9.17h-6.65zM572.73 211.40h6.65v9.17h-6.65zM579.09 211.40h6.65v9.17h-6.65zM591.79 211.40h6.65v9.17h-6.65zM610.85 211.40h6.65v9.17h-6.65zM369.46 220.27h6.65v9.17h-6.65zM382.16 220.27h6.65v9.17h-6.65zM407.57 220.27h6.65v9.17h-6.65zM413.92 220.27h6.65v9.17h-6.65zM420.28 220.27h6.65v9.17h-6.65zM426.63 220.27h6.65v9.17h-6.65zM439.33 220.27h6.65v9.17h-6.65zM445.69 220.27h6.65v9.17h-6.65zM464.74 220.27h6.65v9.17h-6.65zM477.45 220.27h6.65v9.17h-6.65zM509.21 220.27h6.65v9.17h-6.65zM540.97 220.27h6.65v9.17h-6.65zM572.73 220.27h6.65v9.17h-6.65zM585.44 220.27h6.65v9.17h-6.65zM598.14 220.27h6.65v9.17h-6.65zM604.50 220.27h6.65v9.17h-6.65zM610.85 220.27h6.65v9.17h-6.65zM382.16 229.13h6.65v9.17h-6.65zM394.87 229.13h6.65v9.17h-6.65zM407.57 229.13h6.65v9.17h-6.65zM420.28 229.13h6.65v9.17h-6.65zM439.33 229.13h6.65v9.17h-6.65zM477.45 229.13h6.65v9.17h-6.65zM490.15 229.13h6.65v9.17h-6.65zM534.62 229.13h6.65v9.17h-6.65zM350.40 238.00h6.65v9.17h-6.65zM394.87 238.00h6.65v9.17h-6.65zM407.57 238.00h6.65v9.17h-6.65zM413.92 238.00h6.65v9.17h-6.65zM452.04 238.00h6.65v9.17h-6.65zM464.74 238.00h6.65v9.17h-6.65zM477.45 238.00h6.65v9.17h-6.65zM490.15 238.00h6.65v9.17h-6.65zM528.27 238.00h6.65v9.17h-6.65zM534.62 238.00h6.65v9.17h-6.65zM394.87 246.87h6.65v9.17h-6.65zM432.98 246.87h6.65v9.17h-6.65zM458.39 246.87h6.65v9.17h-6.65zM464.74 246.87h6.65v9.17h-6.65zM477.45 246.87h6.65v9.17h-6.65zM490.15 246.87h6.65v9.17h-6.65zM432.98 255.73h6.65v9.17h-6.65zM445.69 255.73h6.65v9.17h-6.65zM458.39 255.73h6.65v9.17h-6.65zM490.15 255.73h6.65v9.17h-6.65zM496.50 255.73h6.65v9.17h-6.65z"/><path fill="#f0641c" d="M363.10 158.20h6.65v9.17h-6.65zM566.38 158.20h6.65v9.17h-6.65z"/><path fill="#fcd11c" d="M375.81 158.20h6.65v9.17h-6.65zM363.10 167.07h6.65v9.17h-6.65zM363.10 175.93h6.65v9.17h-6.65zM363.10 184.80h6.65v9.17h-6.65zM509.21 184.80h6.65v9.17h-6.65zM547.32 184.80h6.65v9.17h-6.65zM369.46 202.53h6.65v9.17h-6.65zM540.97 238.00h6.65v9.17h-6.65zM566.38 246.87h6.65v9.17h-6.65z"/><path fill="#1a7ecf" d="M388.51 158.20h6.65v9.17h-6.65zM401.22 158.20h6.65v9.17h-6.65zM413.92 158.20h6.65v9.17h-6.65zM458.39 158.20h6.65v9.17h-6.65zM356.75 167.07h6.65v9.17h-6.65zM388.51 167.07h6.65v9.17h-6.65zM401.22 167.07h6.65v9.17h-6.65zM413.92 167.07h6.65v9.17h-6.65zM515.56 167.07h6.65v9.17h-6.65zM426.63 175.93h6.65v9.17h-6.65zM382.16 184.80h6.65v9.17h-6.65zM388.51 184.80h6.65v9.17h-6.65zM394.87 184.80h6.65v9.17h-6.65zM413.92 184.80h6.65v9.17h-6.65zM420.28 184.80h6.65v9.17h-6.65zM426.63 184.80h6.65v9.17h-6.65zM445.69 184.80h6.65v9.17h-6.65zM521.91 184.80h6.65v9.17h-6.65zM350.40 193.67h6.65v9.17h-6.65zM382.16 193.67h6.65v9.17h-6.65zM388.51 193.67h6.65v9.17h-6.65zM394.87 193.67h6.65v9.17h-6.65zM350.40 202.53h6.65v9.17h-6.65zM388.51 202.53h6.65v9.17h-6.65zM394.87 202.53h6.65v9.17h-6.65zM458.39 202.53h6.65v9.17h-6.65zM356.75 211.40h6.65v9.17h-6.65zM363.10 211.40h6.65v9.17h-6.65zM382.16 211.40h6.65v9.17h-6.65zM388.51 211.40h6.65v9.17h-6.65zM394.87 211.40h6.65v9.17h-6.65zM407.57 211.40h6.65v9.17h-6.65zM413.92 211.40h6.65v9.17h-6.65zM420.28 211.40h6.65v9.17h-6.65zM439.33 211.40h6.65v9.17h-6.65zM471.10 211.40h6.65v9.17h-6.65zM413.92 229.13h6.65v9.17h-6.65zM394.87 255.73h6.65v9.17h-6.65z"/><path fill="#1692dc" d="M426.63 158.20h6.65v9.17h-6.65zM490.15 158.20h6.65v9.17h-6.65zM426.63 167.07h6.65v9.17h-6.65zM452.04 167.07h6.65v9.17h-6.65zM471.10 167.07h6.65v9.17h-6.65zM490.15 167.07h6.65v9.17h-6.65zM502.86 167.07h6.65v9.17h-6.65zM509.21 167.07h6.65v9.17h-6.65zM534.62 167.07h6.65v9.17h-6.65zM382.16 175.93h6.65v9.17h-6.65zM388.51 175.93h6.65v9.17h-6.65zM413.92 175.93h6.65v9.17h-6.65zM420.28 175.93h6.65v9.17h-6.65zM490.15 175.93h6.65v9.17h-6.65zM515.56 175.93h6.65v9.17h-6.65zM356.75 184.80h6.65v9.17h-6.65zM432.98 184.80h6.65v9.17h-6.65zM439.33 184.80h6.65v9.17h-6.65zM458.39 184.80h6.65v9.17h-6.65zM490.15 184.80h6.65v9.17h-6.65zM496.50 184.80h6.65v9.17h-6.65zM407.57 193.67h6.65v9.17h-6.65zM458.39 193.67h6.65v9.17h-6.65zM401.22 202.53h6.65v9.17h-6.65zM407.57 202.53h6.65v9.17h-6.65zM413.92 202.53h6.65v9.17h-6.65zM432.98 202.53h6.65v9.17h-6.65zM445.69 202.53h6.65v9.17h-6.65zM452.04 202.53h6.65v9.17h-6.65zM477.45 202.53h6.65v9.17h-6.65zM483.80 202.53h6.65v9.17h-6.65zM490.15 202.53h6.65v9.17h-6.65zM502.86 202.53h6.65v9.17h-6.65zM369.46 211.40h6.65v9.17h-6.65zM426.63 211.40h6.65v9.17h-6.65zM452.04 211.40h6.65v9.17h-6.65zM458.39 211.40h6.65v9.17h-6.65zM483.80 211.40h6.65v9.17h-6.65zM509.21 211.40h6.65v9.17h-6.65zM515.56 211.40h6.65v9.17h-6.65zM534.62 211.40h6.65v9.17h-6.65zM350.40 220.27h6.65v9.17h-6.65zM356.75 220.27h6.65v9.17h-6.65zM363.10 220.27h6.65v9.17h-6.65zM375.81 220.27h6.65v9.17h-6.65zM394.87 220.27h6.65v9.17h-6.65zM471.10 220.27h6.65v9.17h-6.65zM490.15 220.27h6.65v9.17h-6.65zM534.62 220.27h6.65v9.17h-6.65zM591.79 220.27h6.65v9.17h-6.65zM350.40 229.13h6.65v9.17h-6.65zM388.51 229.13h6.65v9.17h-6.65zM426.63 229.13h6.65v9.17h-6.65zM445.69 229.13h6.65v9.17h-6.65zM458.39 229.13h6.65v9.17h-6.65zM464.74 229.13h6.65v9.17h-6.65zM471.10 229.13h6.65v9.17h-6.65zM388.51 238.00h6.65v9.17h-6.65zM420.28 238.00h6.65v9.17h-6.65zM426.63 238.00h6.65v9.17h-6.65zM445.69 238.00h6.65v9.17h-6.65zM458.39 238.00h6.65v9.17h-6.65zM471.10 238.00h6.65v9.17h-6.65zM350.40 246.87h6.65v9.17h-6.65zM388.51 246.87h6.65v9.17h-6.65zM407.57 246.87h6.65v9.17h-6.65zM413.92 246.87h6.65v9.17h-6.65zM420.28 246.87h6.65v9.17h-6.65zM445.69 246.87h6.65v9.17h-6.65zM452.04 246.87h6.65v9.17h-6.65zM471.10 246.87h6.65v9.17h-6.65zM521.91 246.87h6.65v9.17h-6.65zM350.40 255.73h6.65v9.17h-6.65zM388.51 255.73h6.65v9.17h-6.65zM407.57 255.73h6.65v9.17h-6.65zM413.92 255.73h6.65v9.17h-6.65zM420.28 255.73h6.65v9.17h-6.65zM452.04 255.73h6.65v9.17h-6.65zM464.74 255.73h6.65v9.17h-6.65zM471.10 255.73h6.65v9.17h-6.65z"/><path fill="#54c2cf" d="M452.04 158.20h6.65v9.17h-6.65zM509.21 158.20h6.65v9.17h-6.65zM534.62 158.20h6.65v9.17h-6.65zM407.57 167.07h6.65v9.17h-6.65zM464.74 167.07h6.65v9.17h-6.65zM560.03 167.07h6.65v9.17h-6.65zM572.73 167.07h6.65v9.17h-6.65zM604.50 167.07h6.65v9.17h-6.65zM369.46 175.93h6.65v9.17h-6.65zM445.69 175.93h6.65v9.17h-6.65zM464.74 175.93h6.65v9.17h-6.65zM483.80 175.93h6.65v9.17h-6.65zM528.27 175.93h6.65v9.17h-6.65zM534.62 175.93h6.65v9.17h-6.65zM547.32 175.93h6.65v9.17h-6.65zM572.73 175.93h6.65v9.17h-6.65zM369.46 184.80h6.65v9.17h-6.65zM452.04 184.80h6.65v9.17h-6.65zM464.74 184.80h6.65v9.17h-6.65zM515.56 184.80h6.65v9.17h-6.65zM572.73 184.80h6.65v9.17h-6.65zM604.50 184.80h6.65v9.17h-6.65zM432.98 193.67h6.65v9.17h-6.65zM452.04 193.67h6.65v9.17h-6.65zM534.62 193.67h6.65v9.17h-6.65zM547.32 193.67h6.65v9.17h-6.65zM509.21 202.53h6.65v9.17h-6.65zM515.56 202.53h6.65v9.17h-6.65zM528.27 202.53h6.65v9.17h-6.65zM547.32 211.40h6.65v9.17h-6.65zM604.50 211.40h6.65v9.17h-6.65zM388.51 220.27h6.65v9.17h-6.65zM483.80 220.27h6.65v9.17h-6.65zM553.68 220.27h6.65v9.17h-6.65zM560.03 220.27h6.65v9.17h-6.65zM356.75 229.13h6.65v9.17h-6.65zM452.04 229.13h6.65v9.17h-6.65zM483.80 229.13h6.65v9.17h-6.65zM515.56 229.13h6.65v9.17h-6.65zM553.68 229.13h6.65v9.17h-6.65zM560.03 229.13h6.65v9.17h-6.65zM585.44 229.13h6.65v9.17h-6.65zM591.79 229.13h6.65v9.17h-6.65zM363.10 238.00h6.65v9.17h-6.65zM401.22 238.00h6.65v9.17h-6.65zM483.80 238.00h6.65v9.17h-6.65zM515.56 238.00h6.65v9.17h-6.65zM585.44 238.00h6.65v9.17h-6.65zM515.56 246.87h6.65v9.17h-6.65zM534.62 246.87h6.65v9.17h-6.65zM585.44 246.87h6.65v9.17h-6.65zM521.91 255.73h6.65v9.17h-6.65zM553.68 255.73h6.65v9.17h-6.65zM610.85 255.73h6.65v9.17h-6.65z"/><path fill="#a8d9a0" d="M471.10 158.20h6.65v9.17h-6.65zM560.03 158.20h6.65v9.17h-6.65zM572.73 158.20h6.65v9.17h-6.65zM540.97 167.07h6.65v9.17h-6.65zM585.44 167.07h6.65v9.17h-6.65zM591.79 167.07h6.65v9.17h-6.65zM375.81 175.93h6.65v9.17h-6.65zM477.45 175.93h6.65v9.17h-6.65zM579.09 175.93h6.65v9.17h-6.65zM598.14 175.93h6.65v9.17h-6.65zM553.68 184.80h6.65v9.17h-6.65zM579.09 184.80h6.65v9.17h-6.65zM439.33 193.67h6.65v9.17h-6.65zM509.21 193.67h6.65v9.17h-6.65zM515.56 193.67h6.65v9.17h-6.65zM560.03 193.67h6.65v9.17h-6.65zM598.14 193.67h6.65v9.17h-6.65zM464.74 202.53h6.65v9.17h-6.65zM591.79 202.53h6.65v9.17h-6.65zM432.98 220.27h6.65v9.17h-6.65zM547.32 220.27h6.65v9.17h-6.65zM369.46 229.13h6.65v9.17h-6.65zM375.81 229.13h6.65v9.17h-6.65zM566.38 229.13h6.65v9.17h-6.65zM572.73 238.00h6.65v9.17h-6.65zM591.79 238.00h6.65v9.17h-6.65zM401.22 246.87h6.65v9.17h-6.65zM496.50 246.87h6.65v9.17h-6.65zM591.79 246.87h6.65v9.17h-6.65zM610.85 246.87h6.65v9.17h-6.65zM477.45 255.73h6.65v9.17h-6.65zM572.73 255.73h6.65v9.17h-6.65zM604.50 255.73h6.65v9.17h-6.65z"/><path fill="#f0e61e" d="M477.45 158.20h6.65v9.17h-6.65zM375.81 167.07h6.65v9.17h-6.65zM610.85 184.80h6.65v9.17h-6.65zM540.97 193.67h6.65v9.17h-6.65zM585.44 193.67h6.65v9.17h-6.65zM591.79 193.67h6.65v9.17h-6.65zM610.85 193.67h6.65v9.17h-6.65zM509.21 229.13h6.65v9.17h-6.65zM540.97 246.87h6.65v9.17h-6.65zM534.62 255.73h6.65v9.17h-6.65zM566.38 255.73h6.65v9.17h-6.65z"/><path fill="#84d1c0" d="M496.50 158.20h6.65v9.17h-6.65zM585.44 158.20h6.65v9.17h-6.65zM591.79 158.20h6.65v9.17h-6.65zM604.50 158.20h6.65v9.17h-6.65zM528.27 167.07h6.65v9.17h-6.65zM579.09 167.07h6.65v9.17h-6.65zM598.14 167.07h6.65v9.17h-6.65zM610.85 167.07h6.65v9.17h-6.65zM432.98 175.93h6.65v9.17h-6.65zM540.97 175.93h6.65v9.17h-6.65zM477.45 184.80h6.65v9.17h-6.65zM528.27 184.80h6.65v9.17h-6.65zM534.62 184.80h6.65v9.17h-6.65zM553.68 193.67h6.65v9.17h-6.65zM579.09 193.67h6.65v9.17h-6.65zM356.75 202.53h6.65v9.17h-6.65zM426.63 202.53h6.65v9.17h-6.65zM540.97 202.53h6.65v9.17h-6.65zM598.14 202.53h6.65v9.17h-6.65zM502.86 211.40h6.65v9.17h-6.65zM585.44 211.40h6.65v9.17h-6.65zM401.22 220.27h6.65v9.17h-6.65zM401.22 229.13h6.65v9.17h-6.65zM432.98 229.13h6.65v9.17h-6.65zM496.50 229.13h6.65v9.17h-6.65zM502.86 229.13h6.65v9.17h-6.65zM540.97 229.13h6.65v9.17h-6.65zM547.32 229.13h6.65v9.17h-6.65zM572.73 229.13h6.65v9.17h-6.65zM356.75 238.00h6.65v9.17h-6.65zM375.81 238.00h6.65v9.17h-6.65zM496.50 238.00h6.65v9.17h-6.65zM502.86 238.00h6.65v9.17h-6.65zM547.32 238.00h6.65v9.17h-6.65zM553.68 238.00h6.65v9.17h-6.65zM604.50 238.00h6.65v9.17h-6.65zM369.46 246.87h6.65v9.17h-6.65zM375.81 246.87h6.65v9.17h-6.65zM502.86 246.87h6.65v9.17h-6.65zM547.32 246.87h6.65v9.17h-6.65zM553.68 246.87h6.65v9.17h-6.65zM560.03 246.87h6.65v9.17h-6.65zM579.09 246.87h6.65v9.17h-6.65zM598.14 246.87h6.65v9.17h-6.65zM604.50 246.87h6.65v9.17h-6.65zM363.10 255.73h6.65v9.17h-6.65zM439.33 255.73h6.65v9.17h-6.65zM560.03 255.73h6.65v9.17h-6.65zM579.09 255.73h6.65v9.17h-6.65zM591.79 255.73h6.65v9.17h-6.65zM598.14 255.73h6.65v9.17h-6.65z"/><path fill="#cbdf4c" d="M528.27 158.20h6.65v9.17h-6.65zM540.97 158.20h6.65v9.17h-6.65zM509.21 175.93h6.65v9.17h-6.65zM566.38 175.93h6.65v9.17h-6.65zM585.44 175.93h6.65v9.17h-6.65zM610.85 175.93h6.65v9.17h-6.65zM483.80 184.80h6.65v9.17h-6.65zM566.38 184.80h6.65v9.17h-6.65zM585.44 184.80h6.65v9.17h-6.65zM566.38 193.67h6.65v9.17h-6.65zM566.38 202.53h6.65v9.17h-6.65zM604.50 202.53h6.65v9.17h-6.65zM566.38 211.40h6.65v9.17h-6.65zM566.38 220.27h6.65v9.17h-6.65zM560.03 238.00h6.65v9.17h-6.65zM382.16 246.87h6.65v9.17h-6.65zM572.73 246.87h6.65v9.17h-6.65zM483.80 255.73h6.65v9.17h-6.65zM547.32 255.73h6.65v9.17h-6.65z"/><path fill="#f99c16" d="M350.40 167.07h6.65v9.17h-6.65zM566.38 167.07h6.65v9.17h-6.65zM496.50 220.27h6.65v9.17h-6.65z"/><path fill="#1d69bc" d="M382.16 167.07h6.65v9.17h-6.65zM458.39 175.93h6.65v9.17h-6.65zM356.75 193.67h6.65v9.17h-6.65zM375.81 193.67h6.65v9.17h-6.65zM413.92 193.67h6.65v9.17h-6.65zM464.74 193.67h6.65v9.17h-6.65zM490.15 193.67h6.65v9.17h-6.65zM375.81 202.53h6.65v9.17h-6.65zM382.16 202.53h6.65v9.17h-6.65zM439.33 202.53h6.65v9.17h-6.65zM350.40 211.40h6.65v9.17h-6.65zM375.81 211.40h6.65v9.17h-6.65zM445.69 211.40h6.65v9.17h-6.65z"/><path fill="#da2229" d="M350.40 175.93h6.65v9.17h-6.65z"/><path fill="#fcb816" d="M591.79 175.93h6.65v9.17h-6.65zM350.40 184.80h6.65v9.17h-6.65zM407.57 184.80h6.65v9.17h-6.65zM540.97 184.80h6.65v9.17h-6.65zM591.79 184.80h6.65v9.17h-6.65zM604.50 193.67h6.65v9.17h-6.65zM369.46 238.00h6.65v9.17h-6.65zM566.38 238.00h6.65v9.17h-6.65zM502.86 255.73h6.65v9.17h-6.65z"/><path fill="#f57f18" d="M502.86 220.27h6.65v9.17h-6.65z"/><path fill="#e94522" d="M369.46 255.73h6.65v9.17h-6.65zM382.16 255.73h6.65v9.17h-6.65z"/></g><polyline points="353.58,231.62 359.93,242.31 366.28,223.80 372.63,224.01 378.99,232.52 385.34,238.37 391.69,249.49 398.04,245.93 404.40,237.68 410.75,241.19 417.10,251.57 423.45,245.98 429.80,244.28 436.16,235.50 442.51,239.06 448.86,243.91 455.21,239.49 461.57,248.69 467.92,239.70 474.27,242.31 480.62,234.22 486.98,233.80 493.33,249.49 499.68,231.88 506.03,228.58 512.39,230.29 518.74,235.82 525.09,240.02 531.44,232.52 537.80,235.50 544.15,219.11 550.50,226.30 556.85,228.00 563.20,229.49 569.56,208.74 575.91,226.88 582.26,228.00 588.61,223.80 594.97,219.91 601.32,228.21 607.67,223.80 614.02,225.60" fill="none" stroke="#000" stroke-width="2.3" stroke-linejoin="round" stroke-linecap="butt"/><path d="M350.70 157.70V264.90" stroke="#000" stroke-width="1.3" fill="none"/><path d="M350.40 158.20H617.20" stroke="#000" stroke-width="1.0" fill="none" stroke-opacity="0.9"/><path d="M617.40 158.20V264.60" stroke="#000" stroke-width="0.5" fill="none" stroke-opacity="0.6"/><path d="M350.40 265.20H617.20" stroke="#000" stroke-width="0.5" fill="none" stroke-opacity="0.35"/><path d="M353.58 264.60v1.6M353.58 158.20v-1.6M359.93 264.60v1.6M359.93 158.20v-1.6M366.28 264.60v1.6M366.28 158.20v-1.6M372.63 264.60v3M372.63 158.20v-3M378.99 264.60v1.6M378.99 158.20v-1.6M385.34 264.60v1.6M385.34 158.20v-1.6M391.69 264.60v1.6M391.69 158.20v-1.6M398.04 264.60v1.6M398.04 158.20v-1.6M404.40 264.60v3M404.40 158.20v-3M410.75 264.60v1.6M410.75 158.20v-1.6M417.10 264.60v1.6M417.10 158.20v-1.6M423.45 264.60v1.6M423.45 158.20v-1.6M429.80 264.60v1.6M429.80 158.20v-1.6M436.16 264.60v3M436.16 158.20v-3M442.51 264.60v1.6M442.51 158.20v-1.6M448.86 264.60v1.6M448.86 158.20v-1.6M455.21 264.60v1.6M455.21 158.20v-1.6M461.57 264.60v1.6M461.57 158.20v-1.6M467.92 264.60v3M467.92 158.20v-3M474.27 264.60v1.6M474.27 158.20v-1.6M480.62 264.60v1.6M480.62 158.20v-1.6M486.98 264.60v1.6M486.98 158.20v-1.6M493.33 264.60v1.6M493.33 158.20v-1.6M499.68 264.60v3M499.68 158.20v-3M506.03 264.60v1.6M506.03 158.20v-1.6M512.39 264.60v1.6M512.39 158.20v-1.6M518.74 264.60v1.6M518.74 158.20v-1.6M525.09 264.60v1.6M525.09 158.20v-1.6M531.44 264.60v3M531.44 158.20v-3M537.80 264.60v1.6M537.80 158.20v-1.6M544.15 264.60v1.6M544.15 158.20v-1.6M550.50 264.60v1.6M550.50 158.20v-1.6M556.85 264.60v1.6M556.85 158.20v-1.6M563.20 264.60v3M563.20 158.20v-3M569.56 264.60v1.6M569.56 158.20v-1.6M575.91 264.60v1.6M575.91 158.20v-1.6M582.26 264.60v1.6M582.26 158.20v-1.6M588.61 264.60v1.6M588.61 158.20v-1.6M594.97 264.60v3M594.97 158.20v-3M601.32 264.60v1.6M601.32 158.20v-1.6M607.67 264.60v1.6M607.67 158.20v-1.6M614.02 264.60v1.6M614.02 158.20v-1.6M350.40 264.60h-2.4M350.40 259.28h-1.2M350.40 253.96h-1.2M350.40 248.64h-1.2M350.40 243.32h-1.2M350.40 238.00h-2.4M350.40 232.68h-1.2M350.40 227.36h-1.2M350.40 222.04h-1.2M350.40 216.72h-1.2M350.40 211.40h-2.4M350.40 206.08h-1.2M350.40 200.76h-1.2M350.40 195.44h-1.2M350.40 190.12h-1.2M350.40 184.80h-2.4M350.40 179.48h-1.2M350.40 174.16h-1.2M350.40 168.84h-1.2M350.40 163.52h-1.2M350.40 158.20h-2.4M617.20 162.63h3M617.20 171.50h3M617.20 180.37h3M617.20 189.23h3M617.20 198.10h3M617.20 206.97h3M617.20 215.83h3M617.20 224.70h3M617.20 233.57h3M617.20 242.43h3M617.20 251.30h3M617.20 260.17h3" stroke="#000" stroke-width="0.9" fill="none"/><text x="372.63" y="277.80" font-size="10.3" text-anchor="middle" fill="#000">1985</text><text x="404.40" y="277.80" font-size="10.3" text-anchor="middle" fill="#000">1990</text><text x="436.16" y="277.80" font-size="10.3" text-anchor="middle" fill="#000">1995</text><text x="467.92" y="277.80" font-size="10.3" text-anchor="middle" fill="#000">2000</text><text x="499.68" y="277.80" font-size="10.3" text-anchor="middle" fill="#000">2005</text><text x="531.44" y="277.80" font-size="10.3" text-anchor="middle" fill="#000">2010</text><text x="563.20" y="277.80" font-size="10.3" text-anchor="middle" fill="#000">2015</text><text x="594.97" y="277.80" font-size="10.3" text-anchor="middle" fill="#000">2020</text><text x="345.10" y="268.80" font-size="10.4" text-anchor="end" fill="#000">5</text><text x="345.10" y="242.20" font-size="10.4" text-anchor="end" fill="#000">10</text><text x="345.10" y="215.60" font-size="10.4" text-anchor="end" fill="#000">15</text><text x="345.10" y="189.00" font-size="10.4" text-anchor="end" fill="#000">20</text><text x="345.10" y="162.40" font-size="10.4" text-anchor="end" fill="#000">25</text><text x="623.10" y="167.03" font-size="10.4" fill="#000">D</text><text x="623.10" y="175.90" font-size="10.4" fill="#000">N</text><text x="623.10" y="184.77" font-size="10.4" fill="#000">O</text><text x="623.10" y="193.63" font-size="10.4" fill="#000">S</text><text x="623.10" y="202.50" font-size="10.4" fill="#000">A</text><text x="623.10" y="211.37" font-size="10.4" fill="#000">J</text><text x="623.10" y="220.23" font-size="10.4" fill="#000">J</text><text x="623.10" y="229.10" font-size="10.4" fill="#000">M</text><text x="623.10" y="237.97" font-size="10.4" fill="#000">A</text><text x="623.10" y="246.83" font-size="10.4" fill="#000">M</text><text x="623.10" y="255.70" font-size="10.4" fill="#000">F</text><text x="623.10" y="264.57" font-size="10.4" fill="#000">J</text><text x="350.70" y="152.30" font-size="12.6" fill="#000">d)</text><text x="518.40" y="169.20" font-size="10.3" font-weight="bold" xml:space="preserve" fill="#000">0.80±0.39d per 10yr</text><g shape-rendering="crispEdges"><path fill="#36b9dc" d="M36.30 294.30h6.65v9.17h-6.65zM49.00 294.30h6.65v9.17h-6.65zM125.23 294.30h6.65v9.17h-6.65zM144.29 294.30h6.65v9.17h-6.65zM226.87 294.30h6.65v9.17h-6.65zM271.34 294.30h6.65v9.17h-6.65zM277.69 294.30h6.65v9.17h-6.65zM284.04 294.30h6.65v9.17h-6.65zM290.40 294.30h6.65v9.17h-6.65zM55.36 303.17h6.65v9.17h-6.65zM68.06 303.17h6.65v9.17h-6.65zM106.18 303.17h6.65v9.17h-6.65zM207.81 303.17h6.65v9.17h-6.65zM271.34 303.17h6.65v9.17h-6.65zM277.69 303.17h6.65v9.17h-6.65zM284.04 303.17h6.65v9.17h-6.65zM296.75 303.17h6.65v9.17h-6.65zM106.18 312.03h6.65v9.17h-6.65zM36.30 356.37h6.65v9.17h-6.65zM49.00 356.37h6.65v9.17h-6.65zM271.34 356.37h6.65v9.17h-6.65zM277.69 356.37h6.65v9.17h-6.65zM284.04 356.37h6.65v9.17h-6.65zM68.06 365.23h6.65v9.17h-6.65zM74.41 365.23h6.65v9.17h-6.65zM112.53 365.23h6.65v9.17h-6.65zM188.76 365.23h6.65v9.17h-6.65zM271.34 365.23h6.65v9.17h-6.65zM296.75 365.23h6.65v9.17h-6.65zM74.41 374.10h6.65v9.17h-6.65zM80.77 374.10h6.65v9.17h-6.65zM118.88 374.10h6.65v9.17h-6.65zM188.76 374.10h6.65v9.17h-6.65zM207.81 374.10h6.65v9.17h-6.65zM220.52 374.10h6.65v9.17h-6.65zM226.87 374.10h6.65v9.17h-6.65zM258.63 374.10h6.65v9.17h-6.65zM296.75 374.10h6.65v9.17h-6.65zM36.30 382.97h6.65v9.17h-6.65zM42.65 382.97h6.65v9.17h-6.65zM55.36 382.97h6.65v9.17h-6.65zM68.06 382.97h6.65v9.17h-6.65zM93.47 382.97h6.65v9.17h-6.65zM118.88 382.97h6.65v9.17h-6.65zM188.76 382.97h6.65v9.17h-6.65zM207.81 382.97h6.65v9.17h-6.65zM220.52 382.97h6.65v9.17h-6.65zM226.87 382.97h6.65v9.17h-6.65zM258.63 382.97h6.65v9.17h-6.65zM264.99 382.97h6.65v9.17h-6.65zM296.75 382.97h6.65v9.17h-6.65zM42.65 391.83h6.65v9.17h-6.65zM55.36 391.83h6.65v9.17h-6.65zM80.77 391.83h6.65v9.17h-6.65zM106.18 391.83h6.65v9.17h-6.65zM118.88 391.83h6.65v9.17h-6.65zM125.23 391.83h6.65v9.17h-6.65zM163.35 391.83h6.65v9.17h-6.65zM188.76 391.83h6.65v9.17h-6.65zM207.81 391.83h6.65v9.17h-6.65zM233.22 391.83h6.65v9.17h-6.65zM277.69 391.83h6.65v9.17h-6.65zM290.40 391.83h6.65v9.17h-6.65zM296.75 391.83h6.65v9.17h-6.65z"/><path fill="#a8d9a0" d="M42.65 294.30h6.65v9.17h-6.65zM150.64 294.30h6.65v9.17h-6.65zM157.00 294.30h6.65v9.17h-6.65zM182.40 294.30h6.65v9.17h-6.65zM80.77 303.17h6.65v9.17h-6.65zM93.47 303.17h6.65v9.17h-6.65zM118.88 303.17h6.65v9.17h-6.65zM125.23 303.17h6.65v9.17h-6.65zM150.64 303.17h6.65v9.17h-6.65zM169.70 303.17h6.65v9.17h-6.65zM176.05 303.17h6.65v9.17h-6.65zM182.40 303.17h6.65v9.17h-6.65zM49.00 312.03h6.65v9.17h-6.65zM80.77 312.03h6.65v9.17h-6.65zM87.12 312.03h6.65v9.17h-6.65zM163.35 312.03h6.65v9.17h-6.65zM201.46 312.03h6.65v9.17h-6.65zM207.81 312.03h6.65v9.17h-6.65zM226.87 312.03h6.65v9.17h-6.65zM239.58 312.03h6.65v9.17h-6.65zM290.40 312.03h6.65v9.17h-6.65zM296.75 312.03h6.65v9.17h-6.65zM36.30 320.90h6.65v9.17h-6.65zM61.71 320.90h6.65v9.17h-6.65zM74.41 320.90h6.65v9.17h-6.65zM106.18 320.90h6.65v9.17h-6.65zM271.34 320.90h6.65v9.17h-6.65zM284.04 320.90h6.65v9.17h-6.65zM36.30 347.50h6.65v9.17h-6.65zM55.36 347.50h6.65v9.17h-6.65zM61.71 347.50h6.65v9.17h-6.65zM68.06 347.50h6.65v9.17h-6.65zM93.47 347.50h6.65v9.17h-6.65zM277.69 347.50h6.65v9.17h-6.65zM80.77 356.37h6.65v9.17h-6.65zM99.82 356.37h6.65v9.17h-6.65zM106.18 356.37h6.65v9.17h-6.65zM112.53 356.37h6.65v9.17h-6.65zM188.76 356.37h6.65v9.17h-6.65zM220.52 356.37h6.65v9.17h-6.65zM137.94 365.23h6.65v9.17h-6.65zM144.29 365.23h6.65v9.17h-6.65zM157.00 365.23h6.65v9.17h-6.65zM182.40 365.23h6.65v9.17h-6.65zM201.46 365.23h6.65v9.17h-6.65zM207.81 365.23h6.65v9.17h-6.65zM157.00 374.10h6.65v9.17h-6.65zM163.35 374.10h6.65v9.17h-6.65zM137.94 382.97h6.65v9.17h-6.65zM137.94 391.83h6.65v9.17h-6.65zM157.00 391.83h6.65v9.17h-6.65z"/><path fill="#84d1c0" d="M55.36 294.30h6.65v9.17h-6.65zM68.06 294.30h6.65v9.17h-6.65zM80.77 294.30h6.65v9.17h-6.65zM87.12 294.30h6.65v9.17h-6.65zM93.47 294.30h6.65v9.17h-6.65zM131.59 294.30h6.65v9.17h-6.65zM169.70 294.30h6.65v9.17h-6.65zM176.05 294.30h6.65v9.17h-6.65zM201.46 294.30h6.65v9.17h-6.65zM239.58 294.30h6.65v9.17h-6.65zM245.93 294.30h6.65v9.17h-6.65zM252.28 294.30h6.65v9.17h-6.65zM258.63 294.30h6.65v9.17h-6.65zM264.99 294.30h6.65v9.17h-6.65zM36.30 303.17h6.65v9.17h-6.65zM74.41 303.17h6.65v9.17h-6.65zM112.53 303.17h6.65v9.17h-6.65zM163.35 303.17h6.65v9.17h-6.65zM188.76 303.17h6.65v9.17h-6.65zM214.17 303.17h6.65v9.17h-6.65zM220.52 303.17h6.65v9.17h-6.65zM226.87 303.17h6.65v9.17h-6.65zM233.22 303.17h6.65v9.17h-6.65zM239.58 303.17h6.65v9.17h-6.65zM245.93 303.17h6.65v9.17h-6.65zM252.28 303.17h6.65v9.17h-6.65zM258.63 303.17h6.65v9.17h-6.65zM264.99 303.17h6.65v9.17h-6.65zM55.36 312.03h6.65v9.17h-6.65zM61.71 312.03h6.65v9.17h-6.65zM68.06 312.03h6.65v9.17h-6.65zM112.53 312.03h6.65v9.17h-6.65zM233.22 312.03h6.65v9.17h-6.65zM271.34 312.03h6.65v9.17h-6.65zM277.69 312.03h6.65v9.17h-6.65zM49.00 320.90h6.65v9.17h-6.65zM55.36 320.90h6.65v9.17h-6.65zM271.34 347.50h6.65v9.17h-6.65zM284.04 347.50h6.65v9.17h-6.65zM42.65 356.37h6.65v9.17h-6.65zM61.71 356.37h6.65v9.17h-6.65zM74.41 356.37h6.65v9.17h-6.65zM93.47 356.37h6.65v9.17h-6.65zM296.75 356.37h6.65v9.17h-6.65zM55.36 365.23h6.65v9.17h-6.65zM61.71 365.23h6.65v9.17h-6.65zM80.77 365.23h6.65v9.17h-6.65zM125.23 365.23h6.65v9.17h-6.65zM131.59 365.23h6.65v9.17h-6.65zM169.70 365.23h6.65v9.17h-6.65zM176.05 365.23h6.65v9.17h-6.65zM195.11 365.23h6.65v9.17h-6.65zM214.17 365.23h6.65v9.17h-6.65zM220.52 365.23h6.65v9.17h-6.65zM226.87 365.23h6.65v9.17h-6.65zM245.93 365.23h6.65v9.17h-6.65zM258.63 365.23h6.65v9.17h-6.65zM264.99 365.23h6.65v9.17h-6.65zM131.59 374.10h6.65v9.17h-6.65zM137.94 374.10h6.65v9.17h-6.65zM144.29 374.10h6.65v9.17h-6.65zM169.70 374.10h6.65v9.17h-6.65zM176.05 374.10h6.65v9.17h-6.65zM201.46 374.10h6.65v9.17h-6.65zM144.29 382.97h6.65v9.17h-6.65zM150.64 382.97h6.65v9.17h-6.65zM157.00 382.97h6.65v9.17h-6.65zM182.40 382.97h6.65v9.17h-6.65zM201.46 382.97h6.65v9.17h-6.65zM61.71 391.83h6.65v9.17h-6.65zM74.41 391.83h6.65v9.17h-6.65zM99.82 391.83h6.65v9.17h-6.65zM112.53 391.83h6.65v9.17h-6.65zM150.64 391.83h6.65v9.17h-6.65zM176.05 391.83h6.65v9.17h-6.65zM182.40 391.83h6.65v9.17h-6.65zM195.11 391.83h6.65v9.17h-6.65zM201.46 391.83h6.65v9.17h-6.65zM226.87 391.83h6.65v9.17h-6.65zM245.93 391.83h6.65v9.17h-6.65zM264.99 391.83h6.65v9.17h-6.65z"/><path fill="#54c2cf" d="M61.71 294.30h6.65v9.17h-6.65zM74.41 294.30h6.65v9.17h-6.65zM99.82 294.30h6.65v9.17h-6.65zM106.18 294.30h6.65v9.17h-6.65zM112.53 294.30h6.65v9.17h-6.65zM118.88 294.30h6.65v9.17h-6.65zM137.94 294.30h6.65v9.17h-6.65zM163.35 294.30h6.65v9.17h-6.65zM188.76 294.30h6.65v9.17h-6.65zM195.11 294.30h6.65v9.17h-6.65zM207.81 294.30h6.65v9.17h-6.65zM214.17 294.30h6.65v9.17h-6.65zM220.52 294.30h6.65v9.17h-6.65zM233.22 294.30h6.65v9.17h-6.65zM42.65 303.17h6.65v9.17h-6.65zM49.00 303.17h6.65v9.17h-6.65zM61.71 303.17h6.65v9.17h-6.65zM99.82 303.17h6.65v9.17h-6.65zM131.59 303.17h6.65v9.17h-6.65zM144.29 303.17h6.65v9.17h-6.65zM195.11 303.17h6.65v9.17h-6.65zM290.40 303.17h6.65v9.17h-6.65zM36.30 312.03h6.65v9.17h-6.65zM99.82 312.03h6.65v9.17h-6.65zM284.04 312.03h6.65v9.17h-6.65zM55.36 356.37h6.65v9.17h-6.65zM87.12 356.37h6.65v9.17h-6.65zM36.30 365.23h6.65v9.17h-6.65zM42.65 365.23h6.65v9.17h-6.65zM87.12 365.23h6.65v9.17h-6.65zM93.47 365.23h6.65v9.17h-6.65zM99.82 365.23h6.65v9.17h-6.65zM106.18 365.23h6.65v9.17h-6.65zM118.88 365.23h6.65v9.17h-6.65zM233.22 365.23h6.65v9.17h-6.65zM239.58 365.23h6.65v9.17h-6.65zM252.28 365.23h6.65v9.17h-6.65zM36.30 374.10h6.65v9.17h-6.65zM61.71 374.10h6.65v9.17h-6.65zM68.06 374.10h6.65v9.17h-6.65zM87.12 374.10h6.65v9.17h-6.65zM93.47 374.10h6.65v9.17h-6.65zM99.82 374.10h6.65v9.17h-6.65zM150.64 374.10h6.65v9.17h-6.65zM182.40 374.10h6.65v9.17h-6.65zM195.11 374.10h6.65v9.17h-6.65zM214.17 374.10h6.65v9.17h-6.65zM233.22 374.10h6.65v9.17h-6.65zM239.58 374.10h6.65v9.17h-6.65zM245.93 374.10h6.65v9.17h-6.65zM252.28 374.10h6.65v9.17h-6.65zM264.99 374.10h6.65v9.17h-6.65zM61.71 382.97h6.65v9.17h-6.65zM74.41 382.97h6.65v9.17h-6.65zM87.12 382.97h6.65v9.17h-6.65zM99.82 382.97h6.65v9.17h-6.65zM112.53 382.97h6.65v9.17h-6.65zM131.59 382.97h6.65v9.17h-6.65zM163.35 382.97h6.65v9.17h-6.65zM169.70 382.97h6.65v9.17h-6.65zM176.05 382.97h6.65v9.17h-6.65zM195.11 382.97h6.65v9.17h-6.65zM214.17 382.97h6.65v9.17h-6.65zM233.22 382.97h6.65v9.17h-6.65zM239.58 382.97h6.65v9.17h-6.65zM245.93 382.97h6.65v9.17h-6.65zM252.28 382.97h6.65v9.17h-6.65zM36.30 391.83h6.65v9.17h-6.65zM49.00 391.83h6.65v9.17h-6.65zM68.06 391.83h6.65v9.17h-6.65zM87.12 391.83h6.65v9.17h-6.65zM93.47 391.83h6.65v9.17h-6.65zM131.59 391.83h6.65v9.17h-6.65zM144.29 391.83h6.65v9.17h-6.65zM169.70 391.83h6.65v9.17h-6.65zM214.17 391.83h6.65v9.17h-6.65zM220.52 391.83h6.65v9.17h-6.65zM239.58 391.83h6.65v9.17h-6.65zM252.28 391.83h6.65v9.17h-6.65zM258.63 391.83h6.65v9.17h-6.65z"/><path fill="#19a9ea" d="M296.75 294.30h6.65v9.17h-6.65zM68.06 356.37h6.65v9.17h-6.65zM290.40 356.37h6.65v9.17h-6.65zM49.00 365.23h6.65v9.17h-6.65zM277.69 365.23h6.65v9.17h-6.65zM284.04 365.23h6.65v9.17h-6.65zM290.40 365.23h6.65v9.17h-6.65zM42.65 374.10h6.65v9.17h-6.65zM49.00 374.10h6.65v9.17h-6.65zM55.36 374.10h6.65v9.17h-6.65zM106.18 374.10h6.65v9.17h-6.65zM112.53 374.10h6.65v9.17h-6.65zM125.23 374.10h6.65v9.17h-6.65zM271.34 374.10h6.65v9.17h-6.65zM277.69 374.10h6.65v9.17h-6.65zM284.04 374.10h6.65v9.17h-6.65zM290.40 374.10h6.65v9.17h-6.65zM49.00 382.97h6.65v9.17h-6.65zM80.77 382.97h6.65v9.17h-6.65zM106.18 382.97h6.65v9.17h-6.65zM125.23 382.97h6.65v9.17h-6.65zM271.34 382.97h6.65v9.17h-6.65zM277.69 382.97h6.65v9.17h-6.65zM284.04 382.97h6.65v9.17h-6.65zM290.40 382.97h6.65v9.17h-6.65zM271.34 391.83h6.65v9.17h-6.65zM284.04 391.83h6.65v9.17h-6.65z"/><path fill="#cbdf4c" d="M87.12 303.17h6.65v9.17h-6.65zM137.94 303.17h6.65v9.17h-6.65zM157.00 303.17h6.65v9.17h-6.65zM201.46 303.17h6.65v9.17h-6.65zM42.65 312.03h6.65v9.17h-6.65zM74.41 312.03h6.65v9.17h-6.65zM93.47 312.03h6.65v9.17h-6.65zM125.23 312.03h6.65v9.17h-6.65zM131.59 312.03h6.65v9.17h-6.65zM144.29 312.03h6.65v9.17h-6.65zM157.00 312.03h6.65v9.17h-6.65zM169.70 312.03h6.65v9.17h-6.65zM176.05 312.03h6.65v9.17h-6.65zM188.76 312.03h6.65v9.17h-6.65zM195.11 312.03h6.65v9.17h-6.65zM214.17 312.03h6.65v9.17h-6.65zM220.52 312.03h6.65v9.17h-6.65zM245.93 312.03h6.65v9.17h-6.65zM252.28 312.03h6.65v9.17h-6.65zM258.63 312.03h6.65v9.17h-6.65zM264.99 312.03h6.65v9.17h-6.65zM68.06 320.90h6.65v9.17h-6.65zM99.82 320.90h6.65v9.17h-6.65zM112.53 320.90h6.65v9.17h-6.65zM157.00 320.90h6.65v9.17h-6.65zM233.22 320.90h6.65v9.17h-6.65zM277.69 320.90h6.65v9.17h-6.65zM36.30 329.77h6.65v9.17h-6.65zM271.34 338.63h6.65v9.17h-6.65zM284.04 338.63h6.65v9.17h-6.65zM112.53 347.50h6.65v9.17h-6.65zM118.88 356.37h6.65v9.17h-6.65zM125.23 356.37h6.65v9.17h-6.65zM144.29 356.37h6.65v9.17h-6.65zM176.05 356.37h6.65v9.17h-6.65zM207.81 356.37h6.65v9.17h-6.65zM214.17 356.37h6.65v9.17h-6.65zM226.87 356.37h6.65v9.17h-6.65zM233.22 356.37h6.65v9.17h-6.65zM245.93 356.37h6.65v9.17h-6.65zM252.28 356.37h6.65v9.17h-6.65zM163.35 365.23h6.65v9.17h-6.65z"/><path fill="#f0e61e" d="M118.88 312.03h6.65v9.17h-6.65zM137.94 312.03h6.65v9.17h-6.65zM150.64 312.03h6.65v9.17h-6.65zM182.40 312.03h6.65v9.17h-6.65zM42.65 320.90h6.65v9.17h-6.65zM87.12 320.90h6.65v9.17h-6.65zM118.88 320.90h6.65v9.17h-6.65zM131.59 320.90h6.65v9.17h-6.65zM144.29 320.90h6.65v9.17h-6.65zM163.35 320.90h6.65v9.17h-6.65zM226.87 320.90h6.65v9.17h-6.65zM252.28 320.90h6.65v9.17h-6.65zM290.40 320.90h6.65v9.17h-6.65zM296.75 320.90h6.65v9.17h-6.65zM42.65 329.77h6.65v9.17h-6.65zM55.36 329.77h6.65v9.17h-6.65zM61.71 329.77h6.65v9.17h-6.65zM271.34 329.77h6.65v9.17h-6.65zM277.69 329.77h6.65v9.17h-6.65zM284.04 329.77h6.65v9.17h-6.65zM55.36 338.63h6.65v9.17h-6.65zM61.71 338.63h6.65v9.17h-6.65zM277.69 338.63h6.65v9.17h-6.65zM42.65 347.50h6.65v9.17h-6.65zM49.00 347.50h6.65v9.17h-6.65zM74.41 347.50h6.65v9.17h-6.65zM80.77 347.50h6.65v9.17h-6.65zM87.12 347.50h6.65v9.17h-6.65zM118.88 347.50h6.65v9.17h-6.65zM290.40 347.50h6.65v9.17h-6.65zM296.75 347.50h6.65v9.17h-6.65zM131.59 356.37h6.65v9.17h-6.65zM137.94 356.37h6.65v9.17h-6.65zM157.00 356.37h6.65v9.17h-6.65zM195.11 356.37h6.65v9.17h-6.65zM239.58 356.37h6.65v9.17h-6.65zM258.63 356.37h6.65v9.17h-6.65zM264.99 356.37h6.65v9.17h-6.65zM150.64 365.23h6.65v9.17h-6.65z"/><path fill="#fcd11c" d="M80.77 320.90h6.65v9.17h-6.65zM93.47 320.90h6.65v9.17h-6.65zM137.94 320.90h6.65v9.17h-6.65zM150.64 320.90h6.65v9.17h-6.65zM169.70 320.90h6.65v9.17h-6.65zM176.05 320.90h6.65v9.17h-6.65zM188.76 320.90h6.65v9.17h-6.65zM201.46 320.90h6.65v9.17h-6.65zM207.81 320.90h6.65v9.17h-6.65zM239.58 320.90h6.65v9.17h-6.65zM245.93 320.90h6.65v9.17h-6.65zM258.63 320.90h6.65v9.17h-6.65zM264.99 320.90h6.65v9.17h-6.65zM49.00 329.77h6.65v9.17h-6.65zM118.88 329.77h6.65v9.17h-6.65zM36.30 338.63h6.65v9.17h-6.65zM42.65 338.63h6.65v9.17h-6.65zM68.06 338.63h6.65v9.17h-6.65zM99.82 338.63h6.65v9.17h-6.65zM106.18 338.63h6.65v9.17h-6.65zM106.18 347.50h6.65v9.17h-6.65zM125.23 347.50h6.65v9.17h-6.65zM214.17 347.50h6.65v9.17h-6.65zM233.22 347.50h6.65v9.17h-6.65zM150.64 356.37h6.65v9.17h-6.65zM169.70 356.37h6.65v9.17h-6.65zM182.40 356.37h6.65v9.17h-6.65zM201.46 356.37h6.65v9.17h-6.65z"/><path fill="#fcb816" d="M125.23 320.90h6.65v9.17h-6.65zM182.40 320.90h6.65v9.17h-6.65zM195.11 320.90h6.65v9.17h-6.65zM214.17 320.90h6.65v9.17h-6.65zM220.52 320.90h6.65v9.17h-6.65zM68.06 329.77h6.65v9.17h-6.65zM74.41 329.77h6.65v9.17h-6.65zM99.82 329.77h6.65v9.17h-6.65zM106.18 329.77h6.65v9.17h-6.65zM131.59 329.77h6.65v9.17h-6.65zM157.00 329.77h6.65v9.17h-6.65zM226.87 329.77h6.65v9.17h-6.65zM49.00 338.63h6.65v9.17h-6.65zM80.77 338.63h6.65v9.17h-6.65zM93.47 338.63h6.65v9.17h-6.65zM118.88 338.63h6.65v9.17h-6.65zM99.82 347.50h6.65v9.17h-6.65zM144.29 347.50h6.65v9.17h-6.65zM150.64 347.50h6.65v9.17h-6.65zM157.00 347.50h6.65v9.17h-6.65zM163.35 347.50h6.65v9.17h-6.65zM176.05 347.50h6.65v9.17h-6.65zM188.76 347.50h6.65v9.17h-6.65zM207.81 347.50h6.65v9.17h-6.65zM226.87 347.50h6.65v9.17h-6.65zM239.58 347.50h6.65v9.17h-6.65zM245.93 347.50h6.65v9.17h-6.65zM258.63 347.50h6.65v9.17h-6.65zM163.35 356.37h6.65v9.17h-6.65z"/><path fill="#f99c16" d="M80.77 329.77h6.65v9.17h-6.65zM87.12 329.77h6.65v9.17h-6.65zM93.47 329.77h6.65v9.17h-6.65zM112.53 329.77h6.65v9.17h-6.65zM144.29 329.77h6.65v9.17h-6.65zM163.35 329.77h6.65v9.17h-6.65zM176.05 329.77h6.65v9.17h-6.65zM188.76 329.77h6.65v9.17h-6.65zM233.22 329.77h6.65v9.17h-6.65zM252.28 329.77h6.65v9.17h-6.65zM125.23 338.63h6.65v9.17h-6.65zM131.59 338.63h6.65v9.17h-6.65zM157.00 338.63h6.65v9.17h-6.65zM233.22 338.63h6.65v9.17h-6.65zM290.40 338.63h6.65v9.17h-6.65zM296.75 338.63h6.65v9.17h-6.65zM131.59 347.50h6.65v9.17h-6.65zM169.70 347.50h6.65v9.17h-6.65zM182.40 347.50h6.65v9.17h-6.65zM195.11 347.50h6.65v9.17h-6.65zM220.52 347.50h6.65v9.17h-6.65zM252.28 347.50h6.65v9.17h-6.65zM264.99 347.50h6.65v9.17h-6.65z"/><path fill="#f0641c" d="M125.23 329.77h6.65v9.17h-6.65zM137.94 329.77h6.65v9.17h-6.65zM195.11 329.77h6.65v9.17h-6.65zM201.46 329.77h6.65v9.17h-6.65zM207.81 329.77h6.65v9.17h-6.65zM214.17 329.77h6.65v9.17h-6.65zM239.58 329.77h6.65v9.17h-6.65zM296.75 329.77h6.65v9.17h-6.65zM169.70 338.63h6.65v9.17h-6.65zM182.40 338.63h6.65v9.17h-6.65zM207.81 338.63h6.65v9.17h-6.65zM239.58 338.63h6.65v9.17h-6.65zM264.99 338.63h6.65v9.17h-6.65z"/><path fill="#f57f18" d="M150.64 329.77h6.65v9.17h-6.65zM169.70 329.77h6.65v9.17h-6.65zM182.40 329.77h6.65v9.17h-6.65zM245.93 329.77h6.65v9.17h-6.65zM258.63 329.77h6.65v9.17h-6.65zM264.99 329.77h6.65v9.17h-6.65zM290.40 329.77h6.65v9.17h-6.65zM74.41 338.63h6.65v9.17h-6.65zM87.12 338.63h6.65v9.17h-6.65zM112.53 338.63h6.65v9.17h-6.65zM150.64 338.63h6.65v9.17h-6.65zM163.35 338.63h6.65v9.17h-6.65zM176.05 338.63h6.65v9.17h-6.65zM188.76 338.63h6.65v9.17h-6.65zM226.87 338.63h6.65v9.17h-6.65zM245.93 338.63h6.65v9.17h-6.65zM137.94 347.50h6.65v9.17h-6.65zM201.46 347.50h6.65v9.17h-6.65z"/><path fill="#e94522" d="M220.52 329.77h6.65v9.17h-6.65zM137.94 338.63h6.65v9.17h-6.65zM195.11 338.63h6.65v9.17h-6.65zM201.46 338.63h6.65v9.17h-6.65zM214.17 338.63h6.65v9.17h-6.65zM252.28 338.63h6.65v9.17h-6.65z"/><path fill="#da2229" d="M144.29 338.63h6.65v9.17h-6.65zM220.52 338.63h6.65v9.17h-6.65zM258.63 338.63h6.65v9.17h-6.65z"/></g><polyline points="39.48,365.01 45.83,362.91 52.18,366.59 58.53,366.59 64.89,363.70 71.24,365.01 77.59,362.00 83.94,359.81 90.30,358.99 96.65,359.99 103.00,361.79 109.35,361.09 115.70,360.30 122.06,357.41 128.41,359.99 134.76,353.49 141.11,353.31 147.47,354.19 153.82,353.79 160.17,353.79 166.52,355.50 172.88,352.91 179.23,354.61 185.58,352.00 191.93,357.71 198.29,353.31 204.64,352.00 210.99,355.89 217.34,354.80 223.70,355.10 230.05,357.20 236.40,357.99 242.75,355.10 249.10,354.80 255.46,354.80 261.81,354.80 268.16,354.80 274.51,368.51 280.87,368.90 287.22,370.70 293.57,365.28 299.92,362.00" fill="none" stroke="#000" stroke-width="2.3" stroke-linejoin="round" stroke-linecap="butt"/><path d="M36.60 293.80V401.00" stroke="#000" stroke-width="1.3" fill="none"/><path d="M36.30 294.30H303.10" stroke="#000" stroke-width="1.0" fill="none" stroke-opacity="0.9"/><path d="M303.30 294.30V400.70" stroke="#000" stroke-width="0.5" fill="none" stroke-opacity="0.6"/><path d="M36.30 401.30H303.10" stroke="#000" stroke-width="0.5" fill="none" stroke-opacity="0.35"/><path d="M39.48 400.70v1.6M39.48 294.30v-1.6M45.83 400.70v1.6M45.83 294.30v-1.6M52.18 400.70v1.6M52.18 294.30v-1.6M58.53 400.70v3M58.53 294.30v-3M64.89 400.70v1.6M64.89 294.30v-1.6M71.24 400.70v1.6M71.24 294.30v-1.6M77.59 400.70v1.6M77.59 294.30v-1.6M83.94 400.70v1.6M83.94 294.30v-1.6M90.30 400.70v3M90.30 294.30v-3M96.65 400.70v1.6M96.65 294.30v-1.6M103.00 400.70v1.6M103.00 294.30v-1.6M109.35 400.70v1.6M109.35 294.30v-1.6M115.70 400.70v1.6M115.70 294.30v-1.6M122.06 400.70v3M122.06 294.30v-3M128.41 400.70v1.6M128.41 294.30v-1.6M134.76 400.70v1.6M134.76 294.30v-1.6M141.11 400.70v1.6M141.11 294.30v-1.6M147.47 400.70v1.6M147.47 294.30v-1.6M153.82 400.70v3M153.82 294.30v-3M160.17 400.70v1.6M160.17 294.30v-1.6M166.52 400.70v1.6M166.52 294.30v-1.6M172.88 400.70v1.6M172.88 294.30v-1.6M179.23 400.70v1.6M179.23 294.30v-1.6M185.58 400.70v3M185.58 294.30v-3M191.93 400.70v1.6M191.93 294.30v-1.6M198.29 400.70v1.6M198.29 294.30v-1.6M204.64 400.70v1.6M204.64 294.30v-1.6M210.99 400.70v1.6M210.99 294.30v-1.6M217.34 400.70v3M217.34 294.30v-3M223.70 400.70v1.6M223.70 294.30v-1.6M230.05 400.70v1.6M230.05 294.30v-1.6M236.40 400.70v1.6M236.40 294.30v-1.6M242.75 400.70v1.6M242.75 294.30v-1.6M249.10 400.70v3M249.10 294.30v-3M255.46 400.70v1.6M255.46 294.30v-1.6M261.81 400.70v1.6M261.81 294.30v-1.6M268.16 400.70v1.6M268.16 294.30v-1.6M274.51 400.70v1.6M274.51 294.30v-1.6M280.87 400.70v3M280.87 294.30v-3M287.22 400.70v1.6M287.22 294.30v-1.6M293.57 400.70v1.6M293.57 294.30v-1.6M299.92 400.70v1.6M299.92 294.30v-1.6M36.30 400.70h-2.4M36.30 385.50h-2.4M36.30 370.30h-2.4M36.30 355.10h-2.4M36.30 339.90h-2.4M36.30 324.70h-2.4M36.30 309.50h-2.4M36.30 294.30h-2.4M303.10 298.73h3M303.10 307.60h3M303.10 316.47h3M303.10 325.33h3M303.10 334.20h3M303.10 343.07h3M303.10 351.93h3M303.10 360.80h3M303.10 369.67h3M303.10 378.53h3M303.10 387.40h3M303.10 396.27h3" stroke="#000" stroke-width="0.9" fill="none"/><text x="58.53" y="413.90" font-size="10.3" text-anchor="middle" fill="#000">1985</text><text x="90.30" y="413.90" font-size="10.3" text-anchor="middle" fill="#000">1990</text><text x="122.06" y="413.90" font-size="10.3" text-anchor="middle" fill="#000">1995</text><text x="153.82" y="413.90" font-size="10.3" text-anchor="middle" fill="#000">2000</text><text x="185.58" y="413.90" font-size="10.3" text-anchor="middle" fill="#000">2005</text><text x="217.34" y="413.90" font-size="10.3" text-anchor="middle" fill="#000">2010</text><text x="249.10" y="413.90" font-size="10.3" text-anchor="middle" fill="#000">2015</text><text x="280.87" y="413.90" font-size="10.3" text-anchor="middle" fill="#000">2020</text><text x="31.00" y="404.90" font-size="10.4" text-anchor="end" fill="#000">0.0</text><text x="31.00" y="389.70" font-size="10.4" text-anchor="end" fill="#000">0.5</text><text x="31.00" y="374.50" font-size="10.4" text-anchor="end" fill="#000">1.0</text><text x="31.00" y="359.30" font-size="10.4" text-anchor="end" fill="#000">1.5</text><text x="31.00" y="344.10" font-size="10.4" text-anchor="end" fill="#000">2.0</text><text x="31.00" y="328.90" font-size="10.4" text-anchor="end" fill="#000">2.5</text><text x="31.00" y="313.70" font-size="10.4" text-anchor="end" fill="#000">3.0</text><text x="31.00" y="298.50" font-size="10.4" text-anchor="end" fill="#000">3.5</text><text x="309.00" y="303.13" font-size="10.4" fill="#000">D</text><text x="309.00" y="312.00" font-size="10.4" fill="#000">N</text><text x="309.00" y="320.87" font-size="10.4" fill="#000">O</text><text x="309.00" y="329.73" font-size="10.4" fill="#000">S</text><text x="309.00" y="338.60" font-size="10.4" fill="#000">A</text><text x="309.00" y="347.47" font-size="10.4" fill="#000">J</text><text x="309.00" y="356.33" font-size="10.4" fill="#000">J</text><text x="309.00" y="365.20" font-size="10.4" fill="#000">M</text><text x="309.00" y="374.07" font-size="10.4" fill="#000">A</text><text x="309.00" y="382.93" font-size="10.4" fill="#000">M</text><text x="309.00" y="391.80" font-size="10.4" fill="#000">F</text><text x="309.00" y="400.67" font-size="10.4" fill="#000">J</text><text x="36.60" y="288.40" font-size="12.6" fill="#000">e)</text><text x="201.30" y="305.30" font-size="10.3" font-weight="bold" xml:space="preserve" fill="#000">0.02±0.04°C per 10yr</text><g shape-rendering="crispEdges"><path fill="#1692dc" d="M350.40 294.30h6.65v9.17h-6.65zM356.75 294.30h6.65v9.17h-6.65zM363.10 294.30h6.65v9.17h-6.65zM369.46 294.30h6.65v9.17h-6.65zM394.87 294.30h6.65v9.17h-6.65zM471.10 294.30h6.65v9.17h-6.65zM356.75 303.17h6.65v9.17h-6.65zM369.46 303.17h6.65v9.17h-6.65zM394.87 303.17h6.65v9.17h-6.65zM350.40 312.03h6.65v9.17h-6.65zM363.10 312.03h6.65v9.17h-6.65zM375.81 312.03h6.65v9.17h-6.65zM394.87 312.03h6.65v9.17h-6.65zM407.57 312.03h6.65v9.17h-6.65zM477.45 312.03h6.65v9.17h-6.65zM350.40 320.90h6.65v9.17h-6.65zM375.81 365.23h6.65v9.17h-6.65zM382.16 374.10h6.65v9.17h-6.65zM401.22 374.10h6.65v9.17h-6.65zM382.16 382.97h6.65v9.17h-6.65zM401.22 382.97h6.65v9.17h-6.65zM369.46 391.83h6.65v9.17h-6.65zM477.45 391.83h6.65v9.17h-6.65z"/><path fill="#1a7ecf" d="M375.81 294.30h6.65v9.17h-6.65zM350.40 303.17h6.65v9.17h-6.65zM363.10 303.17h6.65v9.17h-6.65zM375.81 303.17h6.65v9.17h-6.65zM382.16 391.83h6.65v9.17h-6.65z"/><path fill="#54c2cf" d="M382.16 294.30h6.65v9.17h-6.65zM388.51 294.30h6.65v9.17h-6.65zM401.22 294.30h6.65v9.17h-6.65zM426.63 294.30h6.65v9.17h-6.65zM464.74 294.30h6.65v9.17h-6.65zM483.80 294.30h6.65v9.17h-6.65zM509.21 294.30h6.65v9.17h-6.65zM515.56 294.30h6.65v9.17h-6.65zM521.91 294.30h6.65v9.17h-6.65zM540.97 294.30h6.65v9.17h-6.65zM547.32 294.30h6.65v9.17h-6.65zM553.68 294.30h6.65v9.17h-6.65zM560.03 294.30h6.65v9.17h-6.65zM579.09 294.30h6.65v9.17h-6.65zM604.50 294.30h6.65v9.17h-6.65zM610.85 294.30h6.65v9.17h-6.65zM426.63 303.17h6.65v9.17h-6.65zM483.80 303.17h6.65v9.17h-6.65zM502.86 303.17h6.65v9.17h-6.65zM515.56 303.17h6.65v9.17h-6.65zM534.62 303.17h6.65v9.17h-6.65zM540.97 303.17h6.65v9.17h-6.65zM547.32 303.17h6.65v9.17h-6.65zM579.09 303.17h6.65v9.17h-6.65zM388.51 312.03h6.65v9.17h-6.65zM439.33 312.03h6.65v9.17h-6.65zM452.04 312.03h6.65v9.17h-6.65zM458.39 312.03h6.65v9.17h-6.65zM483.80 312.03h6.65v9.17h-6.65zM496.50 312.03h6.65v9.17h-6.65zM369.46 320.90h6.65v9.17h-6.65zM375.81 320.90h6.65v9.17h-6.65zM388.51 320.90h6.65v9.17h-6.65zM471.10 320.90h6.65v9.17h-6.65zM350.40 329.77h6.65v9.17h-6.65zM356.75 329.77h6.65v9.17h-6.65zM356.75 338.63h6.65v9.17h-6.65zM413.92 338.63h6.65v9.17h-6.65zM420.28 338.63h6.65v9.17h-6.65zM464.74 338.63h6.65v9.17h-6.65zM356.75 347.50h6.65v9.17h-6.65zM369.46 347.50h6.65v9.17h-6.65zM407.57 347.50h6.65v9.17h-6.65zM420.28 347.50h6.65v9.17h-6.65zM439.33 347.50h6.65v9.17h-6.65zM356.75 356.37h6.65v9.17h-6.65zM394.87 356.37h6.65v9.17h-6.65zM413.92 356.37h6.65v9.17h-6.65zM420.28 356.37h6.65v9.17h-6.65zM426.63 356.37h6.65v9.17h-6.65zM432.98 356.37h6.65v9.17h-6.65zM439.33 356.37h6.65v9.17h-6.65zM452.04 356.37h6.65v9.17h-6.65zM471.10 356.37h6.65v9.17h-6.65zM509.21 356.37h6.65v9.17h-6.65zM540.97 356.37h6.65v9.17h-6.65zM471.10 365.23h6.65v9.17h-6.65zM521.91 365.23h6.65v9.17h-6.65zM572.73 365.23h6.65v9.17h-6.65zM579.09 365.23h6.65v9.17h-6.65zM432.98 374.10h6.65v9.17h-6.65zM471.10 374.10h6.65v9.17h-6.65zM490.15 374.10h6.65v9.17h-6.65zM521.91 374.10h6.65v9.17h-6.65zM534.62 374.10h6.65v9.17h-6.65zM579.09 374.10h6.65v9.17h-6.65zM585.44 374.10h6.65v9.17h-6.65zM591.79 374.10h6.65v9.17h-6.65zM598.14 374.10h6.65v9.17h-6.65zM610.85 374.10h6.65v9.17h-6.65zM432.98 382.97h6.65v9.17h-6.65zM458.39 382.97h6.65v9.17h-6.65zM521.91 382.97h6.65v9.17h-6.65zM560.03 382.97h6.65v9.17h-6.65zM585.44 382.97h6.65v9.17h-6.65zM591.79 382.97h6.65v9.17h-6.65zM598.14 382.97h6.65v9.17h-6.65zM610.85 382.97h6.65v9.17h-6.65zM388.51 391.83h6.65v9.17h-6.65zM407.57 391.83h6.65v9.17h-6.65zM432.98 391.83h6.65v9.17h-6.65zM509.21 391.83h6.65v9.17h-6.65zM521.91 391.83h6.65v9.17h-6.65zM579.09 391.83h6.65v9.17h-6.65zM598.14 391.83h6.65v9.17h-6.65zM604.50 391.83h6.65v9.17h-6.65zM610.85 391.83h6.65v9.17h-6.65z"/><path fill="#19a9ea" d="M407.57 294.30h6.65v9.17h-6.65zM413.92 294.30h6.65v9.17h-6.65zM420.28 294.30h6.65v9.17h-6.65zM445.69 294.30h6.65v9.17h-6.65zM477.45 294.30h6.65v9.17h-6.65zM496.50 294.30h6.65v9.17h-6.65zM566.38 294.30h6.65v9.17h-6.65zM382.16 303.17h6.65v9.17h-6.65zM407.57 303.17h6.65v9.17h-6.65zM413.92 303.17h6.65v9.17h-6.65zM420.28 303.17h6.65v9.17h-6.65zM432.98 303.17h6.65v9.17h-6.65zM439.33 303.17h6.65v9.17h-6.65zM445.69 303.17h6.65v9.17h-6.65zM458.39 303.17h6.65v9.17h-6.65zM471.10 303.17h6.65v9.17h-6.65zM477.45 303.17h6.65v9.17h-6.65zM566.38 303.17h6.65v9.17h-6.65zM356.75 312.03h6.65v9.17h-6.65zM369.46 312.03h6.65v9.17h-6.65zM413.92 312.03h6.65v9.17h-6.65zM432.98 312.03h6.65v9.17h-6.65zM445.69 312.03h6.65v9.17h-6.65zM464.74 312.03h6.65v9.17h-6.65zM394.87 320.90h6.65v9.17h-6.65zM413.92 320.90h6.65v9.17h-6.65zM413.92 329.77h6.65v9.17h-6.65zM401.22 356.37h6.65v9.17h-6.65zM496.50 356.37h6.65v9.17h-6.65zM502.86 356.37h6.65v9.17h-6.65zM350.40 365.23h6.65v9.17h-6.65zM356.75 365.23h6.65v9.17h-6.65zM369.46 365.23h6.65v9.17h-6.65zM388.51 365.23h6.65v9.17h-6.65zM394.87 365.23h6.65v9.17h-6.65zM401.22 365.23h6.65v9.17h-6.65zM420.28 365.23h6.65v9.17h-6.65zM439.33 365.23h6.65v9.17h-6.65zM496.50 365.23h6.65v9.17h-6.65zM502.86 365.23h6.65v9.17h-6.65zM509.21 365.23h6.65v9.17h-6.65zM515.56 365.23h6.65v9.17h-6.65zM350.40 374.10h6.65v9.17h-6.65zM356.75 374.10h6.65v9.17h-6.65zM363.10 374.10h6.65v9.17h-6.65zM369.46 374.10h6.65v9.17h-6.65zM375.81 374.10h6.65v9.17h-6.65zM394.87 374.10h6.65v9.17h-6.65zM407.57 374.10h6.65v9.17h-6.65zM439.33 374.10h6.65v9.17h-6.65zM445.69 374.10h6.65v9.17h-6.65zM477.45 374.10h6.65v9.17h-6.65zM496.50 374.10h6.65v9.17h-6.65zM502.86 374.10h6.65v9.17h-6.65zM540.97 374.10h6.65v9.17h-6.65zM566.38 374.10h6.65v9.17h-6.65zM350.40 382.97h6.65v9.17h-6.65zM356.75 382.97h6.65v9.17h-6.65zM363.10 382.97h6.65v9.17h-6.65zM369.46 382.97h6.65v9.17h-6.65zM375.81 382.97h6.65v9.17h-6.65zM394.87 382.97h6.65v9.17h-6.65zM407.57 382.97h6.65v9.17h-6.65zM439.33 382.97h6.65v9.17h-6.65zM477.45 382.97h6.65v9.17h-6.65zM496.50 382.97h6.65v9.17h-6.65zM502.86 382.97h6.65v9.17h-6.65zM540.97 382.97h6.65v9.17h-6.65zM604.50 382.97h6.65v9.17h-6.65zM350.40 391.83h6.65v9.17h-6.65zM363.10 391.83h6.65v9.17h-6.65zM375.81 391.83h6.65v9.17h-6.65zM401.22 391.83h6.65v9.17h-6.65zM420.28 391.83h6.65v9.17h-6.65zM464.74 391.83h6.65v9.17h-6.65zM483.80 391.83h6.65v9.17h-6.65zM502.86 391.83h6.65v9.17h-6.65zM572.73 391.83h6.65v9.17h-6.65z"/><path fill="#36b9dc" d="M432.98 294.30h6.65v9.17h-6.65zM439.33 294.30h6.65v9.17h-6.65zM452.04 294.30h6.65v9.17h-6.65zM458.39 294.30h6.65v9.17h-6.65zM534.62 294.30h6.65v9.17h-6.65zM572.73 294.30h6.65v9.17h-6.65zM452.04 303.17h6.65v9.17h-6.65zM464.74 303.17h6.65v9.17h-6.65zM496.50 303.17h6.65v9.17h-6.65zM509.21 303.17h6.65v9.17h-6.65zM560.03 303.17h6.65v9.17h-6.65zM572.73 303.17h6.65v9.17h-6.65zM591.79 303.17h6.65v9.17h-6.65zM382.16 312.03h6.65v9.17h-6.65zM420.28 312.03h6.65v9.17h-6.65zM471.10 312.03h6.65v9.17h-6.65zM363.10 320.90h6.65v9.17h-6.65zM407.57 320.90h6.65v9.17h-6.65zM426.63 320.90h6.65v9.17h-6.65zM432.98 320.90h6.65v9.17h-6.65zM452.04 320.90h6.65v9.17h-6.65zM464.74 320.90h6.65v9.17h-6.65zM369.46 329.77h6.65v9.17h-6.65zM426.63 329.77h6.65v9.17h-6.65zM464.74 329.77h6.65v9.17h-6.65zM369.46 338.63h6.65v9.17h-6.65zM382.16 338.63h6.65v9.17h-6.65zM426.63 338.63h6.65v9.17h-6.65zM471.10 338.63h6.65v9.17h-6.65zM464.74 347.50h6.65v9.17h-6.65zM502.86 347.50h6.65v9.17h-6.65zM375.81 356.37h6.65v9.17h-6.65zM382.16 356.37h6.65v9.17h-6.65zM388.51 356.37h6.65v9.17h-6.65zM407.57 356.37h6.65v9.17h-6.65zM363.10 365.23h6.65v9.17h-6.65zM382.16 365.23h6.65v9.17h-6.65zM407.57 365.23h6.65v9.17h-6.65zM413.92 365.23h6.65v9.17h-6.65zM426.63 365.23h6.65v9.17h-6.65zM432.98 365.23h6.65v9.17h-6.65zM445.69 365.23h6.65v9.17h-6.65zM452.04 365.23h6.65v9.17h-6.65zM458.39 365.23h6.65v9.17h-6.65zM464.74 365.23h6.65v9.17h-6.65zM477.45 365.23h6.65v9.17h-6.65zM483.80 365.23h6.65v9.17h-6.65zM490.15 365.23h6.65v9.17h-6.65zM540.97 365.23h6.65v9.17h-6.65zM547.32 365.23h6.65v9.17h-6.65zM553.68 365.23h6.65v9.17h-6.65zM560.03 365.23h6.65v9.17h-6.65zM388.51 374.10h6.65v9.17h-6.65zM413.92 374.10h6.65v9.17h-6.65zM420.28 374.10h6.65v9.17h-6.65zM426.63 374.10h6.65v9.17h-6.65zM452.04 374.10h6.65v9.17h-6.65zM458.39 374.10h6.65v9.17h-6.65zM464.74 374.10h6.65v9.17h-6.65zM483.80 374.10h6.65v9.17h-6.65zM509.21 374.10h6.65v9.17h-6.65zM515.56 374.10h6.65v9.17h-6.65zM547.32 374.10h6.65v9.17h-6.65zM553.68 374.10h6.65v9.17h-6.65zM560.03 374.10h6.65v9.17h-6.65zM572.73 374.10h6.65v9.17h-6.65zM604.50 374.10h6.65v9.17h-6.65zM388.51 382.97h6.65v9.17h-6.65zM413.92 382.97h6.65v9.17h-6.65zM420.28 382.97h6.65v9.17h-6.65zM426.63 382.97h6.65v9.17h-6.65zM445.69 382.97h6.65v9.17h-6.65zM452.04 382.97h6.65v9.17h-6.65zM464.74 382.97h6.65v9.17h-6.65zM471.10 382.97h6.65v9.17h-6.65zM483.80 382.97h6.65v9.17h-6.65zM490.15 382.97h6.65v9.17h-6.65zM509.21 382.97h6.65v9.17h-6.65zM515.56 382.97h6.65v9.17h-6.65zM553.68 382.97h6.65v9.17h-6.65zM566.38 382.97h6.65v9.17h-6.65zM579.09 382.97h6.65v9.17h-6.65zM356.75 391.83h6.65v9.17h-6.65zM394.87 391.83h6.65v9.17h-6.65zM413.92 391.83h6.65v9.17h-6.65zM426.63 391.83h6.65v9.17h-6.65zM439.33 391.83h6.65v9.17h-6.65zM445.69 391.83h6.65v9.17h-6.65zM452.04 391.83h6.65v9.17h-6.65zM458.39 391.83h6.65v9.17h-6.65zM471.10 391.83h6.65v9.17h-6.65zM490.15 391.83h6.65v9.17h-6.65zM496.50 391.83h6.65v9.17h-6.65zM515.56 391.83h6.65v9.17h-6.65zM540.97 391.83h6.65v9.17h-6.65zM553.68 391.83h6.65v9.17h-6.65zM566.38 391.83h6.65v9.17h-6.65zM585.44 391.83h6.65v9.17h-6.65z"/><path fill="#84d1c0" d="M490.15 294.30h6.65v9.17h-6.65zM502.86 294.30h6.65v9.17h-6.65zM585.44 294.30h6.65v9.17h-6.65zM591.79 294.30h6.65v9.17h-6.65zM598.14 294.30h6.65v9.17h-6.65zM388.51 303.17h6.65v9.17h-6.65zM401.22 303.17h6.65v9.17h-6.65zM490.15 303.17h6.65v9.17h-6.65zM521.91 303.17h6.65v9.17h-6.65zM553.68 303.17h6.65v9.17h-6.65zM585.44 303.17h6.65v9.17h-6.65zM401.22 312.03h6.65v9.17h-6.65zM521.91 312.03h6.65v9.17h-6.65zM547.32 312.03h6.65v9.17h-6.65zM420.28 320.90h6.65v9.17h-6.65zM439.33 320.90h6.65v9.17h-6.65zM477.45 320.90h6.65v9.17h-6.65zM483.80 320.90h6.65v9.17h-6.65zM547.32 320.90h6.65v9.17h-6.65zM363.10 329.77h6.65v9.17h-6.65zM407.57 329.77h6.65v9.17h-6.65zM439.33 329.77h6.65v9.17h-6.65zM452.04 329.77h6.65v9.17h-6.65zM490.15 329.77h6.65v9.17h-6.65zM375.81 338.63h6.65v9.17h-6.65zM407.57 338.63h6.65v9.17h-6.65zM432.98 338.63h6.65v9.17h-6.65zM452.04 338.63h6.65v9.17h-6.65zM458.39 338.63h6.65v9.17h-6.65zM483.80 338.63h6.65v9.17h-6.65zM490.15 338.63h6.65v9.17h-6.65zM496.50 338.63h6.65v9.17h-6.65zM502.86 338.63h6.65v9.17h-6.65zM388.51 347.50h6.65v9.17h-6.65zM394.87 347.50h6.65v9.17h-6.65zM426.63 347.50h6.65v9.17h-6.65zM432.98 347.50h6.65v9.17h-6.65zM471.10 347.50h6.65v9.17h-6.65zM496.50 347.50h6.65v9.17h-6.65zM350.40 356.37h6.65v9.17h-6.65zM363.10 356.37h6.65v9.17h-6.65zM369.46 356.37h6.65v9.17h-6.65zM445.69 356.37h6.65v9.17h-6.65zM458.39 356.37h6.65v9.17h-6.65zM464.74 356.37h6.65v9.17h-6.65zM477.45 356.37h6.65v9.17h-6.65zM483.80 356.37h6.65v9.17h-6.65zM515.56 356.37h6.65v9.17h-6.65zM547.32 356.37h6.65v9.17h-6.65zM528.27 365.23h6.65v9.17h-6.65zM534.62 365.23h6.65v9.17h-6.65zM566.38 365.23h6.65v9.17h-6.65zM585.44 365.23h6.65v9.17h-6.65zM591.79 365.23h6.65v9.17h-6.65zM598.14 365.23h6.65v9.17h-6.65zM604.50 365.23h6.65v9.17h-6.65zM610.85 365.23h6.65v9.17h-6.65zM528.27 374.10h6.65v9.17h-6.65zM528.27 382.97h6.65v9.17h-6.65zM534.62 382.97h6.65v9.17h-6.65zM547.32 382.97h6.65v9.17h-6.65zM572.73 382.97h6.65v9.17h-6.65zM534.62 391.83h6.65v9.17h-6.65zM547.32 391.83h6.65v9.17h-6.65zM560.03 391.83h6.65v9.17h-6.65zM591.79 391.83h6.65v9.17h-6.65z"/><path fill="#a8d9a0" d="M528.27 294.30h6.65v9.17h-6.65zM528.27 303.17h6.65v9.17h-6.65zM610.85 303.17h6.65v9.17h-6.65zM426.63 312.03h6.65v9.17h-6.65zM490.15 312.03h6.65v9.17h-6.65zM515.56 312.03h6.65v9.17h-6.65zM553.68 312.03h6.65v9.17h-6.65zM560.03 312.03h6.65v9.17h-6.65zM401.22 320.90h6.65v9.17h-6.65zM445.69 320.90h6.65v9.17h-6.65zM375.81 329.77h6.65v9.17h-6.65zM420.28 329.77h6.65v9.17h-6.65zM471.10 329.77h6.65v9.17h-6.65zM477.45 329.77h6.65v9.17h-6.65zM483.80 329.77h6.65v9.17h-6.65zM496.50 329.77h6.65v9.17h-6.65zM350.40 338.63h6.65v9.17h-6.65zM363.10 338.63h6.65v9.17h-6.65zM388.51 338.63h6.65v9.17h-6.65zM439.33 338.63h6.65v9.17h-6.65zM445.69 338.63h6.65v9.17h-6.65zM477.45 338.63h6.65v9.17h-6.65zM350.40 347.50h6.65v9.17h-6.65zM375.81 347.50h6.65v9.17h-6.65zM382.16 347.50h6.65v9.17h-6.65zM401.22 347.50h6.65v9.17h-6.65zM413.92 347.50h6.65v9.17h-6.65zM445.69 347.50h6.65v9.17h-6.65zM452.04 347.50h6.65v9.17h-6.65zM458.39 347.50h6.65v9.17h-6.65zM483.80 347.50h6.65v9.17h-6.65zM547.32 347.50h6.65v9.17h-6.65zM553.68 347.50h6.65v9.17h-6.65zM490.15 356.37h6.65v9.17h-6.65zM521.91 356.37h6.65v9.17h-6.65zM534.62 356.37h6.65v9.17h-6.65zM528.27 391.83h6.65v9.17h-6.65z"/><path fill="#cbdf4c" d="M598.14 303.17h6.65v9.17h-6.65zM604.50 303.17h6.65v9.17h-6.65zM502.86 312.03h6.65v9.17h-6.65zM509.21 312.03h6.65v9.17h-6.65zM528.27 312.03h6.65v9.17h-6.65zM534.62 312.03h6.65v9.17h-6.65zM540.97 312.03h6.65v9.17h-6.65zM572.73 312.03h6.65v9.17h-6.65zM356.75 320.90h6.65v9.17h-6.65zM496.50 320.90h6.65v9.17h-6.65zM394.87 329.77h6.65v9.17h-6.65zM394.87 338.63h6.65v9.17h-6.65zM490.15 347.50h6.65v9.17h-6.65z"/><path fill="#f0e61e" d="M566.38 312.03h6.65v9.17h-6.65zM579.09 312.03h6.65v9.17h-6.65zM604.50 312.03h6.65v9.17h-6.65zM610.85 312.03h6.65v9.17h-6.65zM382.16 320.90h6.65v9.17h-6.65zM458.39 320.90h6.65v9.17h-6.65zM490.15 320.90h6.65v9.17h-6.65zM540.97 320.90h6.65v9.17h-6.65zM388.51 329.77h6.65v9.17h-6.65zM432.98 329.77h6.65v9.17h-6.65zM458.39 329.77h6.65v9.17h-6.65zM502.86 329.77h6.65v9.17h-6.65zM401.22 338.63h6.65v9.17h-6.65zM363.10 347.50h6.65v9.17h-6.65zM477.45 347.50h6.65v9.17h-6.65zM509.21 347.50h6.65v9.17h-6.65zM515.56 347.50h6.65v9.17h-6.65zM540.97 347.50h6.65v9.17h-6.65zM528.27 356.37h6.65v9.17h-6.65zM553.68 356.37h6.65v9.17h-6.65zM560.03 356.37h6.65v9.17h-6.65zM572.73 356.37h6.65v9.17h-6.65zM591.79 356.37h6.65v9.17h-6.65z"/><path fill="#fcd11c" d="M585.44 312.03h6.65v9.17h-6.65zM591.79 312.03h6.65v9.17h-6.65zM598.14 312.03h6.65v9.17h-6.65zM515.56 320.90h6.65v9.17h-6.65zM521.91 320.90h6.65v9.17h-6.65zM528.27 320.90h6.65v9.17h-6.65zM553.68 320.90h6.65v9.17h-6.65zM560.03 320.90h6.65v9.17h-6.65zM401.22 329.77h6.65v9.17h-6.65zM445.69 329.77h6.65v9.17h-6.65zM540.97 329.77h6.65v9.17h-6.65zM547.32 329.77h6.65v9.17h-6.65zM560.03 347.50h6.65v9.17h-6.65zM566.38 356.37h6.65v9.17h-6.65zM585.44 356.37h6.65v9.17h-6.65zM598.14 356.37h6.65v9.17h-6.65zM604.50 356.37h6.65v9.17h-6.65zM610.85 356.37h6.65v9.17h-6.65z"/><path fill="#fcb816" d="M502.86 320.90h6.65v9.17h-6.65zM509.21 320.90h6.65v9.17h-6.65zM534.62 320.90h6.65v9.17h-6.65zM572.73 320.90h6.65v9.17h-6.65zM382.16 329.77h6.65v9.17h-6.65zM515.56 329.77h6.65v9.17h-6.65zM560.03 329.77h6.65v9.17h-6.65zM515.56 338.63h6.65v9.17h-6.65zM579.09 356.37h6.65v9.17h-6.65z"/><path fill="#f57f18" d="M566.38 320.90h6.65v9.17h-6.65zM585.44 320.90h6.65v9.17h-6.65zM598.14 320.90h6.65v9.17h-6.65zM528.27 329.77h6.65v9.17h-6.65zM534.62 329.77h6.65v9.17h-6.65zM553.68 329.77h6.65v9.17h-6.65zM560.03 338.63h6.65v9.17h-6.65z"/><path fill="#f0641c" d="M579.09 320.90h6.65v9.17h-6.65zM509.21 329.77h6.65v9.17h-6.65zM521.91 329.77h6.65v9.17h-6.65zM509.21 338.63h6.65v9.17h-6.65zM553.68 338.63h6.65v9.17h-6.65z"/><path fill="#e94522" d="M591.79 320.90h6.65v9.17h-6.65zM572.73 329.77h6.65v9.17h-6.65zM521.91 338.63h6.65v9.17h-6.65zM572.73 347.50h6.65v9.17h-6.65zM604.50 347.50h6.65v9.17h-6.65zM610.85 347.50h6.65v9.17h-6.65z"/><path fill="#f99c16" d="M604.50 320.90h6.65v9.17h-6.65zM610.85 320.90h6.65v9.17h-6.65zM540.97 338.63h6.65v9.17h-6.65zM547.32 338.63h6.65v9.17h-6.65zM521.91 347.50h6.65v9.17h-6.65zM528.27 347.50h6.65v9.17h-6.65zM534.62 347.50h6.65v9.17h-6.65zM566.38 347.50h6.65v9.17h-6.65z"/><path fill="#da2229" d="M566.38 329.77h6.65v9.17h-6.65zM528.27 338.63h6.65v9.17h-6.65zM534.62 338.63h6.65v9.17h-6.65zM579.09 347.50h6.65v9.17h-6.65zM585.44 347.50h6.65v9.17h-6.65zM591.79 347.50h6.65v9.17h-6.65zM598.14 347.50h6.65v9.17h-6.65z"/><path fill="#872029" d="M579.09 329.77h6.65v9.17h-6.65zM585.44 329.77h6.65v9.17h-6.65zM598.14 329.77h6.65v9.17h-6.65z"/><path fill="#6f1a1e" d="M591.79 329.77h6.65v9.17h-6.65zM604.50 329.77h6.65v9.17h-6.65zM610.85 329.77h6.65v9.17h-6.65zM566.38 338.63h6.65v9.17h-6.65zM572.73 338.63h6.65v9.17h-6.65zM579.09 338.63h6.65v9.17h-6.65zM585.44 338.63h6.65v9.17h-6.65zM591.79 338.63h6.65v9.17h-6.65zM598.14 338.63h6.65v9.17h-6.65zM604.50 338.63h6.65v9.17h-6.65zM610.85 338.63h6.65v9.17h-6.65z"/></g><polyline points="353.58,378.30 359.93,375.89 366.28,376.99 372.63,377.99 378.99,378.30 385.34,372.40 391.69,369.81 398.04,376.29 404.40,370.70 410.75,374.40 417.10,375.16 423.45,374.80 429.80,373.10 436.16,370.79 442.51,373.10 448.86,370.21 455.21,371.18 461.57,367.20 467.92,374.71 474.27,372.49 480.62,373.10 486.98,370.21 493.33,366.29 499.68,373.10 506.03,370.21 512.39,361.39 518.74,363.70 525.09,357.20 531.44,352.21 537.80,354.80 544.15,364.62 550.50,364.52 556.85,359.69 563.20,359.69 569.56,354.10 575.91,354.10 582.26,348.29 588.61,346.98 594.97,346.50 601.32,346.71 607.67,348.69 614.02,345.89" fill="none" stroke="#000" stroke-width="2.3" stroke-linejoin="round" stroke-linecap="butt"/><path d="M350.70 293.80V401.00" stroke="#000" stroke-width="1.3" fill="none"/><path d="M350.40 294.30H617.20" stroke="#000" stroke-width="1.0" fill="none" stroke-opacity="0.9"/><path d="M617.40 294.30V400.70" stroke="#000" stroke-width="0.5" fill="none" stroke-opacity="0.6"/><path d="M350.40 401.30H617.20" stroke="#000" stroke-width="0.5" fill="none" stroke-opacity="0.35"/><path d="M353.58 400.70v1.6M353.58 294.30v-1.6M359.93 400.70v1.6M359.93 294.30v-1.6M366.28 400.70v1.6M366.28 294.30v-1.6M372.63 400.70v3M372.63 294.30v-3M378.99 400.70v1.6M378.99 294.30v-1.6M385.34 400.70v1.6M385.34 294.30v-1.6M391.69 400.70v1.6M391.69 294.30v-1.6M398.04 400.70v1.6M398.04 294.30v-1.6M404.40 400.70v3M404.40 294.30v-3M410.75 400.70v1.6M410.75 294.30v-1.6M417.10 400.70v1.6M417.10 294.30v-1.6M423.45 400.70v1.6M423.45 294.30v-1.6M429.80 400.70v1.6M429.80 294.30v-1.6M436.16 400.70v3M436.16 294.30v-3M442.51 400.70v1.6M442.51 294.30v-1.6M448.86 400.70v1.6M448.86 294.30v-1.6M455.21 400.70v1.6M455.21 294.30v-1.6M461.57 400.70v1.6M461.57 294.30v-1.6M467.92 400.70v3M467.92 294.30v-3M474.27 400.70v1.6M474.27 294.30v-1.6M480.62 400.70v1.6M480.62 294.30v-1.6M486.98 400.70v1.6M486.98 294.30v-1.6M493.33 400.70v1.6M493.33 294.30v-1.6M499.68 400.70v3M499.68 294.30v-3M506.03 400.70v1.6M506.03 294.30v-1.6M512.39 400.70v1.6M512.39 294.30v-1.6M518.74 400.70v1.6M518.74 294.30v-1.6M525.09 400.70v1.6M525.09 294.30v-1.6M531.44 400.70v3M531.44 294.30v-3M537.80 400.70v1.6M537.80 294.30v-1.6M544.15 400.70v1.6M544.15 294.30v-1.6M550.50 400.70v1.6M550.50 294.30v-1.6M556.85 400.70v1.6M556.85 294.30v-1.6M563.20 400.70v3M563.20 294.30v-3M569.56 400.70v1.6M569.56 294.30v-1.6M575.91 400.70v1.6M575.91 294.30v-1.6M582.26 400.70v1.6M582.26 294.30v-1.6M588.61 400.70v1.6M588.61 294.30v-1.6M594.97 400.70v3M594.97 294.30v-3M601.32 400.70v1.6M601.32 294.30v-1.6M607.67 400.70v1.6M607.67 294.30v-1.6M614.02 400.70v1.6M614.02 294.30v-1.6M350.40 400.70h-2.4M350.40 385.50h-2.4M350.40 370.30h-2.4M350.40 355.10h-2.4M350.40 339.90h-2.4M350.40 324.70h-2.4M350.40 309.50h-2.4M350.40 294.30h-2.4M617.20 298.73h3M617.20 307.60h3M617.20 316.47h3M617.20 325.33h3M617.20 334.20h3M617.20 343.07h3M617.20 351.93h3M617.20 360.80h3M617.20 369.67h3M617.20 378.53h3M617.20 387.40h3M617.20 396.27h3" stroke="#000" stroke-width="0.9" fill="none"/><text x="372.63" y="413.90" font-size="10.3" text-anchor="middle" fill="#000">1985</text><text x="404.40" y="413.90" font-size="10.3" text-anchor="middle" fill="#000">1990</text><text x="436.16" y="413.90" font-size="10.3" text-anchor="middle" fill="#000">1995</text><text x="467.92" y="413.90" font-size="10.3" text-anchor="middle" fill="#000">2000</text><text x="499.68" y="413.90" font-size="10.3" text-anchor="middle" fill="#000">2005</text><text x="531.44" y="413.90" font-size="10.3" text-anchor="middle" fill="#000">2010</text><text x="563.20" y="413.90" font-size="10.3" text-anchor="middle" fill="#000">2015</text><text x="594.97" y="413.90" font-size="10.3" text-anchor="middle" fill="#000">2020</text><text x="345.10" y="404.90" font-size="10.4" text-anchor="end" fill="#000">0.0</text><text x="345.10" y="389.70" font-size="10.4" text-anchor="end" fill="#000">0.5</text><text x="345.10" y="374.50" font-size="10.4" text-anchor="end" fill="#000">1.0</text><text x="345.10" y="359.30" font-size="10.4" text-anchor="end" fill="#000">1.5</text><text x="345.10" y="344.10" font-size="10.4" text-anchor="end" fill="#000">2.0</text><text x="345.10" y="328.90" font-size="10.4" text-anchor="end" fill="#000">2.5</text><text x="345.10" y="313.70" font-size="10.4" text-anchor="end" fill="#000">3.0</text><text x="345.10" y="298.50" font-size="10.4" text-anchor="end" fill="#000">3.5</text><text x="623.10" y="303.13" font-size="10.4" fill="#000">D</text><text x="623.10" y="312.00" font-size="10.4" fill="#000">N</text><text x="623.10" y="320.87" font-size="10.4" fill="#000">O</text><text x="623.10" y="329.73" font-size="10.4" fill="#000">S</text><text x="623.10" y="338.60" font-size="10.4" fill="#000">A</text><text x="623.10" y="347.47" font-size="10.4" fill="#000">J</text><text x="623.10" y="356.33" font-size="10.4" fill="#000">J</text><text x="623.10" y="365.20" font-size="10.4" fill="#000">M</text><text x="623.10" y="374.07" font-size="10.4" fill="#000">A</text><text x="623.10" y="382.93" font-size="10.4" fill="#000">M</text><text x="623.10" y="391.80" font-size="10.4" fill="#000">F</text><text x="623.10" y="400.67" font-size="10.4" fill="#000">J</text><text x="350.70" y="288.40" font-size="12.6" fill="#000">f)</text><text x="513.10" y="305.30" font-size="10.3" font-weight="bold" xml:space="preserve" fill="#000">0.25±0.04°C per 10yr</text><text x="164.7" y="13.1" font-size="17.4" font-weight="bold" text-anchor="middle" fill="#000">OSTIA</text><text x="486.6" y="14.4" font-size="17.4" font-weight="bold" text-anchor="middle" fill="#000">OISST</text><text transform="translate(11.4 72.7) rotate(-90)" font-size="14.6" font-weight="bold" text-anchor="middle" fill="#000">Occurrence</text><text transform="translate(11.4 203.5) rotate(-90)" font-size="14.6" font-weight="bold" text-anchor="middle" fill="#000">Duration</text><text transform="translate(11.4 337.7) rotate(-90)" font-size="14.6" font-weight="bold" text-anchor="middle" fill="#000">Intensity</text><rect x="640.3" y="120.38" width="8.50" height="5.42" fill="#2a51a6" shape-rendering="crispEdges"/><rect x="640.3" y="115.17" width="8.50" height="5.42" fill="#235db4" shape-rendering="crispEdges"/><rect x="640.3" y="109.95" width="8.50" height="5.42" fill="#1d69bc" shape-rendering="crispEdges"/><rect x="640.3" y="104.74" width="8.50" height="5.42" fill="#1a7ecf" shape-rendering="crispEdges"/><rect x="640.3" y="99.52" width="8.50" height="5.42" fill="#1692dc" shape-rendering="crispEdges"/><rect x="640.3" y="94.31" width="8.50" height="5.42" fill="#19a9ea" shape-rendering="crispEdges"/><rect x="640.3" y="89.09" width="8.50" height="5.42" fill="#36b9dc" shape-rendering="crispEdges"/><rect x="640.3" y="83.88" width="8.50" height="5.42" fill="#54c2cf" shape-rendering="crispEdges"/><rect x="640.3" y="78.66" width="8.50" height="5.42" fill="#84d1c0" shape-rendering="crispEdges"/><rect x="640.3" y="73.45" width="8.50" height="5.42" fill="#a8d9a0" shape-rendering="crispEdges"/><rect x="640.3" y="68.23" width="8.50" height="5.42" fill="#cbdf4c" shape-rendering="crispEdges"/><rect x="640.3" y="63.02" width="8.50" height="5.42" fill="#f0e61e" shape-rendering="crispEdges"/><rect x="640.3" y="57.80" width="8.50" height="5.42" fill="#fcd11c" shape-rendering="crispEdges"/><rect x="640.3" y="52.59" width="8.50" height="5.42" fill="#fcb816" shape-rendering="crispEdges"/><rect x="640.3" y="47.38" width="8.50" height="5.42" fill="#f99c16" shape-rendering="crispEdges"/><rect x="640.3" y="42.16" width="8.50" height="5.42" fill="#f57f18" shape-rendering="crispEdges"/><rect x="640.3" y="36.94" width="8.50" height="5.42" fill="#f0641c" shape-rendering="crispEdges"/><rect x="640.3" y="31.73" width="8.50" height="5.42" fill="#e94522" shape-rendering="crispEdges"/><rect x="640.3" y="26.52" width="8.50" height="5.42" fill="#da2229" shape-rendering="crispEdges"/><rect x="640.3" y="21.30" width="8.50" height="5.42" fill="#a72836" shape-rendering="crispEdges"/><path d="M640.3 21.30L644.55 16.90L648.8 21.30z" fill="#a72836" stroke="#000" stroke-width="1" stroke-linejoin="miter"/><path d="M640.3 125.60L644.55 130.00L648.8 125.60z" fill="#2a51a6" stroke="#000" stroke-width="1" stroke-linejoin="miter"/><rect x="640.3" y="21.30" width="8.50" height="104.30" fill="none" stroke="#000" stroke-width="1"/><path d="M648.80 125.60h2.6M648.80 115.17h1.2M648.80 104.74h2.6M648.80 94.31h1.2M648.80 83.88h2.6M648.80 73.45h1.2M648.80 63.02h2.6M648.80 52.59h1.2M648.80 42.16h2.6M648.80 31.73h1.2M648.80 21.30h2.6" stroke="#000" stroke-width="0.9" fill="none"/><text x="653.6" y="26.30" font-size="11.2" fill="#000">1.0</text><text x="653.6" y="47.16" font-size="11.2" fill="#000">0.8</text><text x="653.6" y="68.02" font-size="11.2" fill="#000">0.6</text><text x="653.6" y="88.88" font-size="11.2" fill="#000">0.4</text><text x="653.6" y="109.74" font-size="11.2" fill="#000">0.2</text><text x="653.6" y="130.60" font-size="11.2" fill="#000">0.0</text><text transform="translate(682.4 69.1) rotate(-90)" font-size="14" text-anchor="middle" fill="#000">counts</text><rect x="640.3" y="253.59" width="8.50" height="5.42" fill="#2a51a6" shape-rendering="crispEdges"/><rect x="640.3" y="248.37" width="8.50" height="5.42" fill="#235db4" shape-rendering="crispEdges"/><rect x="640.3" y="243.16" width="8.50" height="5.42" fill="#1d69bc" shape-rendering="crispEdges"/><rect x="640.3" y="237.94" width="8.50" height="5.42" fill="#1a7ecf" shape-rendering="crispEdges"/><rect x="640.3" y="232.73" width="8.50" height="5.42" fill="#1692dc" shape-rendering="crispEdges"/><rect x="640.3" y="227.51" width="8.50" height="5.42" fill="#19a9ea" shape-rendering="crispEdges"/><rect x="640.3" y="222.30" width="8.50" height="5.42" fill="#36b9dc" shape-rendering="crispEdges"/><rect x="640.3" y="217.08" width="8.50" height="5.42" fill="#54c2cf" shape-rendering="crispEdges"/><rect x="640.3" y="211.87" width="8.50" height="5.42" fill="#84d1c0" shape-rendering="crispEdges"/><rect x="640.3" y="206.65" width="8.50" height="5.42" fill="#a8d9a0" shape-rendering="crispEdges"/><rect x="640.3" y="201.44" width="8.50" height="5.42" fill="#cbdf4c" shape-rendering="crispEdges"/><rect x="640.3" y="196.22" width="8.50" height="5.42" fill="#f0e61e" shape-rendering="crispEdges"/><rect x="640.3" y="191.00" width="8.50" height="5.42" fill="#fcd11c" shape-rendering="crispEdges"/><rect x="640.3" y="185.79" width="8.50" height="5.42" fill="#fcb816" shape-rendering="crispEdges"/><rect x="640.3" y="180.58" width="8.50" height="5.42" fill="#f99c16" shape-rendering="crispEdges"/><rect x="640.3" y="175.36" width="8.50" height="5.42" fill="#f57f18" shape-rendering="crispEdges"/><rect x="640.3" y="170.15" width="8.50" height="5.42" fill="#f0641c" shape-rendering="crispEdges"/><rect x="640.3" y="164.93" width="8.50" height="5.42" fill="#e94522" shape-rendering="crispEdges"/><rect x="640.3" y="159.72" width="8.50" height="5.42" fill="#da2229" shape-rendering="crispEdges"/><rect x="640.3" y="154.50" width="8.50" height="5.42" fill="#a72836" shape-rendering="crispEdges"/><path d="M640.3 154.50L644.55 150.10L648.8 154.50z" fill="#a72836" stroke="#000" stroke-width="1" stroke-linejoin="miter"/><path d="M640.3 258.80L644.55 263.20L648.8 258.80z" fill="#2a51a6" stroke="#000" stroke-width="1" stroke-linejoin="miter"/><rect x="640.3" y="154.50" width="8.50" height="104.30" fill="none" stroke="#000" stroke-width="1"/><path d="M648.80 258.80h2.6M648.80 253.59h1.2M648.80 248.37h1.2M648.80 243.16h1.2M648.80 237.94h1.2M648.80 232.73h2.6M648.80 227.51h1.2M648.80 222.30h1.2M648.80 217.08h1.2M648.80 211.87h1.2M648.80 206.65h2.6M648.80 201.44h1.2M648.80 196.22h1.2M648.80 191.00h1.2M648.80 185.79h1.2M648.80 180.58h2.6M648.80 175.36h1.2M648.80 170.15h1.2M648.80 164.93h1.2M648.80 159.72h1.2M648.80 154.50h2.6" stroke="#000" stroke-width="0.9" fill="none"/><text x="653.6" y="159.50" font-size="11.2" fill="#000">25</text><text x="653.6" y="185.58" font-size="11.2" fill="#000">20</text><text x="653.6" y="211.65" font-size="11.2" fill="#000">15</text><text x="653.6" y="237.73" font-size="11.2" fill="#000">10</text><text x="661.6" y="263.80" font-size="11.2" fill="#000">5</text><text transform="translate(682.4 206.5) rotate(-90)" font-size="14" text-anchor="middle" fill="#000">days</text><rect x="640.3" y="386.59" width="8.50" height="5.42" fill="#2a51a6" shape-rendering="crispEdges"/><rect x="640.3" y="381.37" width="8.50" height="5.42" fill="#235db4" shape-rendering="crispEdges"/><rect x="640.3" y="376.16" width="8.50" height="5.42" fill="#1d69bc" shape-rendering="crispEdges"/><rect x="640.3" y="370.94" width="8.50" height="5.42" fill="#1a7ecf" shape-rendering="crispEdges"/><rect x="640.3" y="365.73" width="8.50" height="5.42" fill="#1692dc" shape-rendering="crispEdges"/><rect x="640.3" y="360.51" width="8.50" height="5.42" fill="#19a9ea" shape-rendering="crispEdges"/><rect x="640.3" y="355.30" width="8.50" height="5.42" fill="#36b9dc" shape-rendering="crispEdges"/><rect x="640.3" y="350.08" width="8.50" height="5.42" fill="#54c2cf" shape-rendering="crispEdges"/><rect x="640.3" y="344.87" width="8.50" height="5.42" fill="#84d1c0" shape-rendering="crispEdges"/><rect x="640.3" y="339.65" width="8.50" height="5.42" fill="#a8d9a0" shape-rendering="crispEdges"/><rect x="640.3" y="334.44" width="8.50" height="5.42" fill="#cbdf4c" shape-rendering="crispEdges"/><rect x="640.3" y="329.22" width="8.50" height="5.42" fill="#f0e61e" shape-rendering="crispEdges"/><rect x="640.3" y="324.00" width="8.50" height="5.42" fill="#fcd11c" shape-rendering="crispEdges"/><rect x="640.3" y="318.79" width="8.50" height="5.42" fill="#fcb816" shape-rendering="crispEdges"/><rect x="640.3" y="313.58" width="8.50" height="5.42" fill="#f99c16" shape-rendering="crispEdges"/><rect x="640.3" y="308.36" width="8.50" height="5.42" fill="#f57f18" shape-rendering="crispEdges"/><rect x="640.3" y="303.14" width="8.50" height="5.42" fill="#f0641c" shape-rendering="crispEdges"/><rect x="640.3" y="297.93" width="8.50" height="5.42" fill="#e94522" shape-rendering="crispEdges"/><rect x="640.3" y="292.72" width="8.50" height="5.42" fill="#da2229" shape-rendering="crispEdges"/><rect x="640.3" y="287.50" width="8.50" height="5.42" fill="#a72836" shape-rendering="crispEdges"/><path d="M640.3 287.50L644.55 283.10L648.8 287.50z" fill="#a72836" stroke="#000" stroke-width="1" stroke-linejoin="miter"/><path d="M640.3 391.80L644.55 396.20L648.8 391.80z" fill="#2a51a6" stroke="#000" stroke-width="1" stroke-linejoin="miter"/><rect x="640.3" y="287.50" width="8.50" height="104.30" fill="none" stroke="#000" stroke-width="1"/><path d="M648.80 391.80h2.6M648.80 383.11h1.2M648.80 374.42h1.2M648.80 365.73h1.2M648.80 357.03h2.6M648.80 348.34h1.2M648.80 339.65h1.2M648.80 330.96h1.2M648.80 322.27h2.6M648.80 313.58h1.2M648.80 304.88h1.2M648.80 296.19h1.2M648.80 287.50h2.6" stroke="#000" stroke-width="0.9" fill="none"/><text x="653.6" y="292.50" font-size="11.2" fill="#000">3</text><text x="653.6" y="327.27" font-size="11.2" fill="#000">2</text><text x="653.6" y="362.03" font-size="11.2" fill="#000">1</text><text x="653.6" y="396.80" font-size="11.2" fill="#000">0</text><text transform="translate(682.4 345.3) rotate(-90)" font-size="14" text-anchor="middle" fill="#000">°C</text></svg>
</body></html>
